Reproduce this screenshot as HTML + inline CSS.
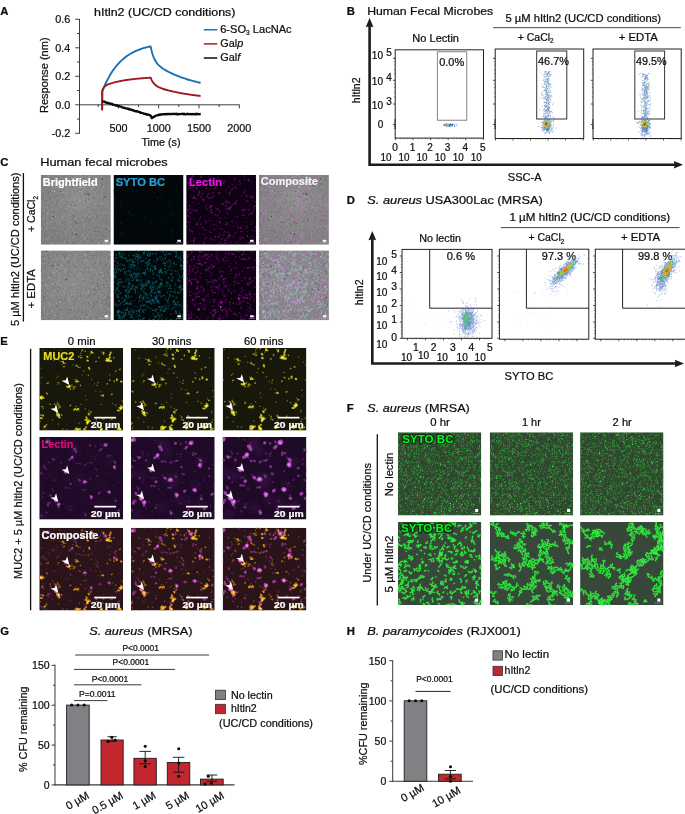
<!DOCTYPE html>
<html lang="en"><head><meta charset="utf-8"><title>hItln2 figure</title>
<style>
html,body{margin:0;padding:0;background:#fff;}
body{width:685px;height:814px;overflow:hidden;}
svg{display:block;font-family:"Liberation Sans",Arial,Helvetica,sans-serif;}
</style></head><body>
<svg width="685" height="814" viewBox="0 0 685 814">
<defs>
<filter id="b03" x="-5%" y="-5%" width="110%" height="110%"><feGaussianBlur stdDeviation="0.35"/></filter>
<filter id="b06" x="-5%" y="-5%" width="110%" height="110%"><feGaussianBlur stdDeviation="0.6"/></filter>
<filter id="b05" x="-5%" y="-5%" width="110%" height="110%"><feGaussianBlur stdDeviation="0.5"/></filter>
<filter id="nz" x="0" y="0" width="100%" height="100%" color-interpolation-filters="sRGB"><feTurbulence type="fractalNoise" baseFrequency="0.55" numOctaves="2" seed="3"/><feColorMatrix values="1 0 0 0 0  1 0 0 0 0  1 0 0 0 0  0 0 0 0 1"/></filter>
<filter id="b30" x="-20%" y="-20%" width="140%" height="140%"><feGaussianBlur stdDeviation="3"/></filter>
<filter id="b07" x="-5%" y="-5%" width="110%" height="110%"><feGaussianBlur stdDeviation="0.65"/></filter>
<filter id="b10" x="-5%" y="-5%" width="110%" height="110%"><feGaussianBlur stdDeviation="1"/></filter>
<path id="m1" transform="scale(.1)" d="M109 484h0M560 358h0M567 358h0M565 356h0M566 351h0M567 353h0M690 523h0M692 519h0M692 526h0M690 534h0M78 651h0M73 658h0M73 660h0M77 656h0M78 651h0M665 613h0M658 619h0M665 622h0M640 624h0M632 626h0M697 265h0M672 256h0M673 243h0M145 421h0M147 426h0M253 646h0M47 560h0M42 549h0M59 537h0M282 697h0M276 693h0M280 696h0M277 710h0M283 711h0M586 43h0M297 138h0M283 137h0M274 137h0M294 124h0M27 136h0M35 129h0M293 399h0M291 399h0M290 392h0M272 402h0M445 591h0M429 603h0M432 600h0M68 76h0M80 73h0M77 67h0M75 61h0M107 137h0M105 136h0M101 121h0M542 564h0M548 570h0M559 570h0M571 569h0M278 212h0M268 212h0M271 211h0M400 350h0M412 340h0M52 568h0M42 591h0M82 54h0M73 53h0M72 47h0M65 39h0M64 35h0M34 315h0M40 304h0M34 305h0M255 348h0M355 492h0M346 482h0M338 468h0M334 457h0M179 649h0M690 11h0M273 95h0M291 95h0M74 662h0M229 455h0M227 454h0M111 486h0M109 493h0M118 490h0M108 494h0M107 499h0M102 504h0M135 682h0M130 691h0M131 702h0M134 700h0M128 710h0M129 716h0M315 627h0M319 613h0M316 613h0M129 286h0M115 301h0M27 415h0M525 534h0M515 528h0M509 530h0M185 257h0M627 47h0M622 47h0M625 56h0M627 51h0M120 68h0M276 495h0M283 496h0M243 368h0M241 359h0M249 372h0M560 636h0M543 619h0M697 266h0M697 264h0M238 425h0M656 371h0M666 370h0M538 524h0M542 528h0M551 531h0M544 532h0M308 407h0M309 411h0M317 407h0M631 349h0M636 350h0M623 347h0M618 340h0M334 183h0M349 187h0M336 179h0M515 510h0M516 504h0M507 479h0M494 481h0M511 567h0M501 578h0M492 578h0M483 585h0M409 479h0M413 482h0M399 487h0M397 497h0M51 212h0M576 186h0M581 173h0M147 489h0M143 493h0M145 495h0M499 288h0M498 286h0M487 277h0M490 285h0M488 277h0M256 230h0M334 370h0M335 365h0M337 356h0M68 354h0M65 361h0M155 23h0M144 23h0M148 19h0M287 543h0M284 542h0M284 553h0M61 130h0M-1 227h0M-10 238h0M15 343h0M13 346h0M11 360h0M8 358h0M-1 362h0M454 467h0M460 469h0M466 473h0M469 460h0M112 210h0M114 199h0M126 188h0M131 181h0M392 263h0M229 226h0M232 231h0M233 236h0M228 233h0M455 304h0M450 309h0M407 573h0M422 575h0M466 520h0M471 516h0M713 233h0M437 205h0M427 196h0M431 180h0M442 171h0M676 360h0M674 349h0M203 93h0M207 93h0M194 97h0M204 101h0M86 354h0M78 344h0M77 229h0M83 228h0M78 223h0M73 209h0M92 231h0M81 228h0M95 236h0M95 239h0M151 13h0M142 9h0M151 -4h0M147 -7h0M530 68h0M535 57h0M544 65h0M533 64h0M210 219h0M213 219h0M678 642h0M444 673h0M455 680h0M349 645h0M359 645h0M357 643h0M361 636h0M52 662h0M397 241h0M131 203h0M147 210h0M151 217h0M149 223h0M253 378h0M254 380h0M260 376h0M266 382h0M328 532h0M428 508h0M195 467h0M627 66h0M619 60h0M173 595h0M178 600h0M675 132h0M680 554h0M669 560h0M666 554h0M485 297h0M489 285h0M467 296h0M462 301h0M418 627h0M263 229h0M245 230h0M236 570h0M241 579h0M239 567h0M256 577h0M585 340h0M592 344h0M584 348h0M585 352h0M434 324h0M427 334h0M430 343h0M432 347h0M430 350h0M263 452h0M509 259h0M503 258h0M497 265h0M230 76h0M609 565h0M32 548h0M33 550h0M548 637h0M237 651h0M248 651h0M241 632h0M248 637h0M474 630h0M479 610h0M476 615h0M189 551h0M187 544h0M180 554h0M178 536h0M529 94h0M549 90h0M541 90h0M164 192h0M161 184h0M155 183h0M658 202h0M183 693h0M178 685h0M178 681h0M185 669h0M186 679h0M79 673h0M74 684h0M70 667h0M405 188h0M398 187h0M424 119h0M429 113h0M365 547h0M352 549h0M345 535h0M347 535h0M444 606h0M445 611h0M433 612h0M421 597h0M426 606h0M334 181h0M336 173h0M327 176h0M459 135h0M453 150h0M458 155h0M440 165h0M438 172h0M442 187h0M137 596h0M133 585h0M400 279h0M401 280h0M420 397h0M412 382h0M409 373h0M459 96h0M468 99h0M665 689h0M662 695h0M336 473h0M335 466h0M341 477h0M307 463h0M558 504h0M556 507h0M604 539h0M595 517h0M599 524h0M386 569h0M377 578h0M380 568h0M15 469h0M24 475h0M35 480h0M37 474h0M41 436h0M62 1h0M63 9h0M72 13h0M69 16h0M53 26h0M53 22h0M539 209h0M553 208h0M73 122h0M67 114h0M193 457h0M205 470h0M451 323h0M444 321h0M435 334h0M443 330h0M452 332h0M600 253h0M377 294h0M364 289h0M371 295h0M376 299h0M84 634h0M90 639h0M86 638h0M93 637h0M87 639h0M259 186h0M267 179h0M268 176h0M216 295h0M206 301h0M204 311h0M133 441h0M700 160h0M247 320h0M241 324h0M244 318h0M233 319h0M234 326h0M234 335h0M58 567h0M61 565h0M64 579h0M434 324h0M643 684h0M579 181h0M106 134h0M120 150h0M254 506h0M378 602h0M371 605h0M367 609h0M343 673h0M422 269h0M430 277h0M437 276h0M436 284h0M384 689h0M380 683h0M369 685h0M528 633h0M536 638h0M542 643h0M26 360h0M22 88h0M20 80h0M14 76h0M691 568h0M603 428h0M600 426h0M178 245h0M170 244h0M162 250h0M360 291h0M351 289h0M431 180h0M685 317h0M685 317h0M686 303h0M694 311h0M696 314h0M357 210h0M375 225h0M190 622h0M194 637h0M207 622h0M405 640h0M415 632h0M427 616h0M422 627h0M413 629h0M64 240h0M65 236h0M80 227h0M81 221h0M191 323h0M580 13h0M588 11h0M577 2h0M580 289h0M613 609h0M611 612h0M612 610h0M613 612h0M323 694h0M335 690h0M339 684h0M323 686h0M289 654h0M281 643h0M279 644h0M387 73h0M385 58h0M388 61h0M559 403h0M574 403h0M575 402h0M584 406h0M19 678h0M13 678h0M306 508h0M311 502h0M635 211h0M618 205h0M612 226h0M585 161h0M587 163h0M403 678h0M399 681h0M671 678h0M670 675h0M674 678h0M401 270h0M392 263h0M400 261h0M637 306h0M643 307h0M34 509h0M8 512h0M16 514h0M125 463h0M276 80h0M254 315h0M258 308h0M254 309h0M240 306h0M242 312h0M251 316h0M321 694h0M481 47h0M487 48h0M488 43h0M482 37h0M283 616h0M77 231h0M401 148h0M394 159h0M396 658h0M387 661h0M383 650h0M389 643h0M394 658h0M502 107h0M610 522h0M617 514h0M665 384h0M649 385h0M630 388h0M621 392h0M623 410h0M567 624h0M565 623h0M569 630h0M576 632h0M366 98h0M370 86h0M374 83h0M562 351h0M189 234h0M516 691h0M511 677h0M500 674h0M506 668h0M486 122h0M496 126h0M489 121h0M500 142h0M214 342h0M207 340h0M192 342h0M394 702h0M399 701h0M404 686h0M536 664h0M157 525h0M166 519h0M160 523h0M408 341h0M393 334h0M402 330h0M257 350h0M249 358h0M250 357h0M21 414h0M16 411h0M12 406h0M164 233h0M164 245h0M162 245h0M467 139h0M470 137h0M3 414h0M499 414h0M515 419h0M515 422h0M203 136h0M201 126h0M169 267h0M171 262h0M329 622h0M334 622h0M591 477h0M198 475h0M200 481h0M659 471h0M651 478h0M650 494h0M553 312h0M653 72h0M75 276h0M58 278h0M111 243h0M629 679h0M616 675h0M617 679h0M331 59h0M344 63h0M331 66h0M411 264h0M405 274h0M411 285h0M405 308h0M393 312h0M397 308h0M338 584h0M337 599h0M341 601h0M34 390h0M43 378h0M53 378h0M45 380h0M34 373h0M99 364h0M104 363h0M644 393h0M652 380h0M654 382h0M652 396h0M104 57h0M98 360h0M109 357h0M107 350h0M693 23h0M295 332h0M307 341h0M313 339h0M313 346h0M319 342h0M73 158h0M73 154h0M78 141h0M616 262h0M605 264h0M607 262h0M602 263h0M121 192h0M128 178h0M127 169h0M136 165h0M134 164h0M232 146h0M583 54h0M597 51h0M683 337h0M673 323h0M657 220h0M653 226h0M646 225h0M324 193h0M656 174h0M433 344h0M432 341h0M435 340h0M426 337h0M433 330h0M351 435h0M339 434h0M328 426h0M294 624h0M288 622h0M294 613h0M50 343h0M38 340h0M36 342h0M569 383h0M393 496h0M406 500h0M38 229h0M397 465h0M322 37h0M326 29h0M599 210h0M603 214h0M606 211h0M599 203h0M561 539h0M544 529h0M526 537h0M674 217h0M668 223h0M662 223h0M643 223h0M238 179h0M221 186h0M220 199h0M220 194h0M213 206h0M395 430h0"/>
<path id="m2" transform="scale(.1)" d="M206 497h0M84 60h0M388 345h0M395 359h0M315 528h0M-15 387h0M-18 376h0M-26 368h0M183 57h0M179 60h0M181 48h0M178 51h0M280 597h0M290 590h0M290 600h0M283 603h0M323 545h0M330 553h0M323 557h0M139 405h0M133 402h0M121 422h0M122 420h0M499 539h0M512 542h0M505 529h0M332 648h0M336 649h0M342 659h0M616 656h0M605 654h0M604 646h0M611 647h0M6 473h0M-4 477h0M-4 471h0M-7 465h0M-6 467h0M193 598h0M654 458h0M640 477h0M640 477h0M550 305h0M559 306h0M451 202h0M438 215h0M446 209h0M318 376h0M309 378h0M114 375h0M109 390h0M108 378h0M106 380h0M441 192h0M453 190h0M367 406h0M368 403h0M155 143h0M155 139h0M166 145h0M152 151h0M12 345h0M7 349h0M34 277h0M32 284h0M35 300h0M569 92h0M25 227h0M29 240h0M26 242h0M374 321h0M382 317h0M361 307h0M230 312h0M228 319h0M14 67h0M13 56h0M26 44h0M30 46h0M148 -1h0M540 693h0M546 690h0M547 697h0M548 686h0M688 657h0M683 662h0M681 661h0M680 659h0M668 652h0M42 453h0M125 299h0M136 275h0M140 269h0M148 274h0M374 339h0M173 489h0M171 492h0M178 499h0M232 172h0M218 162h0M84 496h0M70 502h0M65 487h0M70 492h0M77 499h0M290 298h0M297 304h0M293 660h0M316 672h0M317 679h0M317 672h0M433 165h0M188 379h0M239 512h0M516 329h0M564 644h0M483 628h0M490 632h0M604 479h0M598 474h0M596 472h0M88 474h0M90 487h0M202 291h0M200 296h0M215 307h0M218 313h0M216 327h0M599 456h0M671 613h0M666 589h0M666 595h0M694 164h0M704 164h0M710 157h0M706 152h0M172 145h0M498 238h0M489 241h0M503 243h0M129 465h0M122 466h0M263 598h0M455 40h0M324 20h0M314 19h0M88 292h0M99 295h0M90 285h0M87 285h0M362 211h0M351 208h0M361 214h0M364 213h0M404 628h0M407 622h0M253 187h0M255 184h0M261 168h0M259 319h0M255 298h0M261 294h0M593 645h0M581 651h0M603 629h0M360 514h0M354 516h0M344 521h0M354 512h0M645 538h0M641 550h0M556 418h0M554 415h0M262 558h0M270 556h0M280 555h0M643 571h0M630 567h0M632 574h0M637 581h0M225 460h0M309 300h0M306 306h0M635 285h0M640 278h0M634 283h0M630 289h0M186 19h0M617 330h0M600 325h0M598 316h0M152 65h0M159 58h0M1 630h0M-1 633h0M-4 623h0M-13 609h0M123 676h0M32 152h0M37 160h0M27 159h0M31 164h0M53 97h0M54 95h0M56 97h0M368 612h0M360 606h0M359 600h0M369 596h0M223 40h0M217 38h0M207 39h0M105 381h0M112 380h0M110 370h0M594 92h0M603 100h0M597 75h0M176 490h0M172 488h0M180 489h0M183 482h0M192 472h0M361 516h0M364 519h0M359 526h0M502 73h0M497 63h0M493 63h0M40 672h0M47 667h0M50 673h0M52 671h0M52 678h0M257 685h0M252 238h0M255 255h0M247 251h0M207 446h0M220 441h0M314 433h0M584 433h0M67 429h0M17 397h0M6 402h0M-2 396h0M150 4h0M72 64h0M74 63h0M78 58h0M74 70h0M78 82h0M121 210h0M119 207h0M115 216h0M657 305h0M651 314h0M662 315h0M671 306h0M674 161h0M676 171h0M674 187h0M664 176h0M244 162h0M253 164h0M300 61h0M305 41h0M635 270h0M635 270h0M640 277h0M637 287h0M635 285h0M161 589h0M212 190h0M693 441h0M425 407h0M431 403h0M436 381h0M686 189h0M253 47h0M254 42h0M251 52h0M243 59h0M69 191h0M76 186h0M66 181h0M205 670h0M219 667h0M219 670h0M209 693h0M616 447h0M635 453h0M637 439h0M647 433h0M641 438h0M633 444h0M628 434h0M344 530h0M351 529h0M342 527h0M344 525h0M336 522h0M343 503h0M446 229h0M120 132h0M124 131h0M107 129h0M318 84h0M306 84h0M355 518h0M360 508h0M353 510h0M338 496h0M301 596h0M315 610h0M337 618h0M531 63h0M533 68h0M511 240h0M533 242h0M531 237h0M532 236h0M667 18h0M661 12h0M666 -1h0M423 98h0M314 366h0M304 362h0M311 373h0M302 367h0M211 88h0M226 84h0M209 80h0M201 84h0M201 85h0M305 88h0M528 329h0M520 329h0M519 327h0M519 332h0M517 332h0M542 527h0M63 294h0M65 291h0M55 290h0M273 305h0M279 314h0M272 322h0M271 325h0M635 693h0M381 452h0M374 448h0M386 465h0M387 464h0M377 457h0M568 166h0M586 170h0M-6 67h0M6 73h0M11 66h0M484 353h0M412 356h0M165 655h0M653 679h0M655 682h0M652 681h0M652 683h0M645 196h0M368 82h0M356 78h0M38 645h0M29 628h0M16 609h0M678 444h0M680 437h0M639 615h0M625 612h0M611 175h0M613 173h0M622 178h0M634 174h0M625 167h0M344 214h0M335 217h0M331 218h0M333 212h0M188 560h0M186 576h0M194 574h0M188 587h0M600 266h0M583 278h0M700 85h0M693 99h0M691 105h0M132 130h0M147 129h0M142 135h0M137 138h0M492 284h0M513 306h0M479 406h0M479 409h0M490 407h0M541 629h0M532 625h0M533 626h0M545 662h0M546 659h0M183 585h0M177 586h0M270 671h0M274 650h0M277 653h0M264 647h0M453 482h0M31 449h0M36 447h0M50 437h0M102 438h0M101 430h0M86 431h0M457 25h0M459 34h0M467 42h0M466 34h0M476 40h0M472 45h0M471 33h0M55 514h0M60 508h0M66 491h0M60 499h0M67 492h0M468 638h0M378 299h0M378 291h0M372 289h0M384 280h0M400 282h0M350 271h0M353 264h0M355 257h0M353 258h0M285 519h0M279 510h0M280 505h0M159 573h0M150 558h0M510 174h0M323 375h0M13 293h0M7 306h0M12 317h0M583 12h0M574 21h0M22 674h0M32 683h0M28 684h0M20 687h0M32 675h0M34 657h0M279 156h0M277 155h0M277 161h0M683 657h0M687 661h0M683 661h0M342 591h0M240 624h0M244 623h0M240 619h0M267 175h0M275 173h0M278 161h0M283 161h0M56 630h0M57 339h0M52 344h0M52 324h0M51 325h0M54 335h0M50 342h0M115 181h0M291 422h0M289 418h0M282 422h0M412 663h0M406 664h0M281 602h0M288 598h0M295 600h0M52 17h0M60 4h0M7 641h0M15 648h0M121 583h0M183 541h0M199 544h0M477 176h0M485 177h0M486 179h0M502 182h0M553 37h0M565 46h0M561 39h0M571 34h0M636 585h0M637 597h0M644 600h0M17 106h0M8 107h0M13 125h0M15 121h0M9 116h0M501 136h0M498 124h0M637 74h0M635 78h0M625 69h0M618 81h0M629 93h0M413 394h0M418 385h0M569 208h0M557 206h0M184 118h0M193 125h0M179 115h0M63 207h0M218 699h0M220 708h0M615 342h0M615 341h0M619 342h0M619 347h0M622 343h0M617 333h0M617 331h0M650 327h0M644 326h0M635 317h0M633 321h0M619 310h0M574 479h0M562 472h0M561 463h0M571 465h0M568 471h0M247 321h0M614 184h0M286 498h0M288 495h0M277 493h0M277 496h0M277 520h0M287 630h0M292 631h0M291 621h0M290 624h0M297 616h0M376 365h0M383 360h0M383 359h0M531 8h0M534 5h0M526 12h0M482 333h0M490 320h0M97 433h0M118 425h0M107 168h0M106 171h0M16 199h0M30 205h0M34 192h0M320 53h0M298 56h0M314 68h0M203 457h0M556 688h0M560 678h0M570 691h0M562 79h0M562 88h0M555 84h0M552 84h0M545 96h0M487 638h0M527 454h0M533 447h0M540 450h0M539 452h0M544 457h0M535 435h0M672 376h0M683 361h0M693 361h0M695 370h0M702 362h0M578 508h0M571 497h0M58 26h0M178 406h0M171 408h0M168 409h0M169 396h0M403 40h0M405 25h0M393 29h0M395 17h0M120 315h0M111 317h0M114 322h0M109 321h0M130 16h0M135 14h0M137 11h0M151 -3h0M142 678h0M135 693h0M152 375h0M153 361h0M143 366h0M87 550h0M555 513h0M564 512h0M436 543h0M328 274h0M327 285h0M431 22h0M84 687h0M99 674h0M109 671h0M111 667h0M246 223h0M247 216h0M681 668h0M675 669h0M681 670h0M677 661h0M671 673h0M482 309h0M476 315h0M490 315h0M326 359h0M331 344h0M336 349h0M333 350h0M352 591h0M365 590h0M359 594h0M376 676h0M374 675h0M644 8h0M392 281h0M379 284h0M365 288h0M370 278h0M611 472h0M609 483h0M614 479h0M608 478h0M618 480h0M637 488h0M226 493h0M174 393h0M174 383h0M169 366h0M325 682h0M330 690h0M333 706h0M335 696h0M296 127h0M580 400h0M563 398h0M252 367h0M250 369h0M252 641h0M263 648h0M269 641h0M277 650h0M284 648h0M23 649h0M24 644h0M676 503h0M678 489h0M682 479h0M8 270h0M14 274h0M11 277h0M400 608h0M402 602h0M399 604h0M399 607h0M222 61h0M222 61h0M213 54h0M215 40h0M201 51h0M118 462h0M132 463h0M128 458h0M115 456h0M23 596h0M500 255h0M498 259h0M510 257h0M437 350h0M439 355h0M388 358h0M402 351h0M630 334h0M112 321h0M119 321h0M125 317h0M50 644h0M57 646h0M395 518h0M387 517h0M387 508h0M397 499h0M402 490h0M398 494h0M598 440h0M600 437h0M604 448h0M231 205h0M229 213h0M36 313h0M24 303h0M21 303h0M430 596h0M426 587h0M428 585h0M432 588h0M116 57h0M121 71h0M128 56h0M136 51h0M137 60h0M283 417h0M166 78h0M169 77h0M358 426h0M366 417h0M301 619h0M600 236h0M339 289h0M598 38h0M592 39h0M276 594h0M275 609h0M273 607h0M272 607h0M192 124h0M194 133h0M190 133h0M97 303h0M100 303h0M329 401h0M563 376h0M559 375h0M549 388h0M434 577h0M358 389h0M192 46h0M197 44h0M199 36h0M181 30h0M89 234h0M95 223h0M104 224h0M229 195h0M224 180h0M221 172h0M227 182h0M229 173h0M452 426h0M454 426h0M456 431h0M297 289h0M293 297h0M286 301h0M282 298h0M518 650h0M79 540h0M87 542h0M94 536h0M102 526h0M384 584h0M397 588h0M389 577h0M401 136h0M258 394h0M255 395h0M254 397h0M132 531h0M143 533h0M154 534h0M145 534h0M148 533h0M191 57h0M484 272h0M480 276h0M509 -1h0M506 9h0M506 9h0M505 13h0M262 408h0M267 418h0M264 430h0M270 422h0M79 88h0M77 91h0M410 640h0M399 641h0M396 641h0M152 479h0M163 485h0M167 501h0M174 505h0M180 513h0M177 517h0M323 104h0M330 107h0M327 123h0M312 133h0M275 356h0M291 364h0M281 372h0M564 43h0M563 40h0M372 95h0M363 103h0M373 102h0M388 93h0M62 696h0M59 704h0M62 712h0M210 194h0M209 186h0M207 196h0M319 95h0M330 672h0M76 152h0M72 150h0M82 161h0M244 2h0M533 533h0M535 518h0M542 519h0M533 504h0M530 495h0M60 536h0M72 524h0M536 540h0M121 79h0M138 88h0M138 105h0M134 110h0M628 411h0M638 417h0M641 434h0M612 596h0M619 530h0M620 526h0M615 524h0M269 685h0M274 671h0M576 77h0M575 89h0M584 91h0M590 90h0M8 562h0M15 554h0M12 555h0M48 412h0M39 417h0M34 416h0M436 156h0M442 135h0M445 133h0M403 372h0M55 27h0M61 13h0M61 4h0M72 1h0M68 -7h0M392 68h0M399 69h0M386 68h0M98 217h0M327 176h0M48 617h0M56 616h0M688 284h0M692 270h0M684 271h0M121 90h0M127 100h0M252 358h0M423 28h0M429 37h0M422 35h0M432 38h0M495 115h0M42 207h0M38 220h0M48 210h0M64 209h0M600 216h0M106 134h0M124 139h0M133 136h0M143 132h0M54 318h0M42 319h0M41 314h0M43 301h0M37 293h0M590 677h0M593 683h0M581 685h0M576 690h0M409 102h0M395 111h0M98 454h0M104 464h0M105 468h0M106 470h0M104 476h0M38 160h0M46 164h0M364 256h0M355 253h0M342 243h0M571 519h0M518 205h0M566 196h0M432 519h0M437 524h0M440 513h0M435 522h0M583 479h0M584 473h0M652 176h0M658 172h0M670 174h0M595 277h0M594 276h0M550 559h0M542 574h0M551 581h0M549 583h0M493 632h0M489 637h0M501 647h0M351 526h0M349 530h0M337 521h0M338 519h0M266 629h0M256 140h0M248 140h0M256 146h0M195 200h0M200 210h0M191 199h0M199 195h0M456 607h0M456 605h0M560 693h0M559 682h0M345 679h0M332 680h0M339 693h0M338 697h0M338 695h0M399 453h0M108 357h0M114 358h0M108 362h0M150 9h0M143 11h0M147 17h0M149 18h0M140 232h0M153 232h0M147 226h0M470 528h0M473 528h0M460 534h0"/>
<path id="c2" transform="scale(.1)" d="M224 154h0M233 175h0M212 185h0M209 191h0M20 526h0M3 538h0M-10 552h0M-3 560h0M-6 560h0M96 191h0M103 180h0M107 508h0M104 512h0M103 513h0M229 613h0M234 602h0M257 650h0M252 655h0M254 650h0M260 647h0M469 201h0M466 199h0M462 196h0M551 273h0M551 277h0M554 273h0M242 245h0M252 241h0M255 239h0M259 231h0M625 684h0M627 695h0M628 692h0M348 474h0M348 484h0M346 474h0M663 554h0M651 551h0M644 541h0M629 536h0M615 530h0M305 674h0M311 681h0M301 685h0M299 678h0M333 215h0M318 204h0M325 187h0M316 200h0M103 635h0M108 646h0M113 654h0M120 656h0M572 357h0M568 353h0M569 352h0M563 353h0M564 348h0M38 622h0M41 628h0M40 608h0M396 321h0M247 603h0M247 604h0M250 599h0M260 614h0M262 627h0M594 200h0M578 201h0M576 195h0M504 128h0M498 128h0M501 120h0M505 130h0M615 208h0M65 655h0M59 654h0M61 648h0M52 646h0M431 477h0M429 479h0M672 152h0M675 140h0M676 139h0M677 148h0M679 153h0M415 461h0M420 461h0M431 463h0M430 448h0M19 174h0M55 191h0M58 189h0M81 686h0M76 692h0M436 650h0M440 650h0M443 642h0M385 488h0M387 477h0M484 286h0M478 293h0M489 304h0M168 669h0M168 666h0M597 581h0M597 580h0M584 582h0M578 588h0M534 111h0M688 256h0M692 254h0M48 630h0M43 620h0M42 616h0M61 32h0M62 20h0M55 22h0M57 21h0M380 453h0M379 453h0M81 72h0M86 87h0M210 31h0M159 538h0M162 527h0M176 539h0M282 622h0M449 256h0M448 255h0M445 247h0M435 255h0M430 241h0M140 600h0M137 591h0M71 207h0M76 209h0M652 291h0M647 287h0M290 492h0M286 505h0M288 492h0M295 488h0M300 479h0M223 36h0M225 51h0M234 38h0M635 61h0M620 62h0M618 66h0M622 61h0M622 62h0M21 254h0M29 270h0M22 271h0M434 99h0M440 100h0M348 211h0M235 567h0M655 227h0M635 238h0M654 243h0M664 253h0M665 258h0M659 266h0M420 595h0M431 592h0M417 599h0M411 604h0M358 265h0M269 571h0M212 380h0M684 162h0M681 162h0M671 155h0M675 161h0M388 32h0M392 36h0M394 33h0M151 453h0M147 452h0M156 472h0M152 466h0M144 459h0M559 93h0M555 103h0M553 104h0M570 108h0M567 114h0M570 117h0M655 688h0M650 686h0M665 684h0M653 686h0M18 146h0M213 388h0M272 109h0M276 107h0M274 111h0M274 107h0M80 67h0M85 71h0M82 73h0M90 66h0M427 185h0M427 185h0M423 182h0M408 193h0M416 185h0M535 678h0M690 386h0M688 389h0M84 54h0M83 54h0M97 41h0M31 45h0M23 39h0M29 47h0M536 327h0M543 323h0M537 316h0M141 527h0M149 531h0M155 542h0M621 338h0M615 351h0M524 150h0M513 150h0M520 157h0M219 81h0M212 82h0M223 62h0M232 64h0M248 58h0M239 54h0M233 61h0M351 119h0M342 114h0M329 123h0M164 635h0M156 640h0M159 636h0M157 644h0M143 642h0M170 178h0M164 174h0M616 -3h0M611 12h0M609 14h0M623 10h0M267 506h0M257 511h0M253 506h0M356 303h0M353 314h0M351 308h0M606 115h0M458 637h0M672 307h0M514 136h0M515 122h0M398 392h0M399 386h0M393 507h0M391 502h0M391 506h0M385 496h0M389 503h0M470 331h0M481 325h0M350 62h0M364 59h0M361 51h0M365 44h0M351 33h0M579 640h0M575 637h0M520 583h0M526 584h0M517 588h0M511 596h0M518 600h0M465 336h0M469 337h0M467 345h0M481 341h0M481 337h0M484 334h0M370 441h0M368 435h0M93 667h0M88 664h0M100 676h0M17 257h0M9 270h0M8 254h0M14 248h0M145 100h0M130 83h0M128 95h0M168 164h0M174 152h0M167 142h0M167 148h0M167 148h0M440 97h0M438 90h0M64 625h0M360 515h0M368 524h0M377 535h0M380 519h0M101 646h0M103 650h0M99 664h0M93 659h0M468 -7h0M461 -3h0M466 6h0M473 3h0M612 378h0M617 391h0M614 413h0M619 425h0M51 331h0M47 335h0M45 325h0M40 326h0M33 337h0M467 335h0M467 351h0M464 352h0M460 353h0M457 354h0M212 151h0M210 146h0M207 143h0M197 138h0M137 539h0M137 528h0M122 530h0M128 530h0M-1 414h0M-5 409h0M632 474h0M634 472h0M625 473h0M636 465h0M460 259h0M88 672h0M274 319h0M277 320h0M274 316h0M335 45h0M339 54h0M298 233h0M293 230h0M285 229h0M74 61h0M68 63h0M63 63h0M62 53h0M75 56h0M670 61h0M673 77h0M679 83h0M196 120h0M197 55h0M200 51h0M193 53h0M199 48h0M203 53h0M301 472h0M306 480h0M302 471h0M327 509h0M321 510h0M324 511h0M332 507h0M348 510h0M111 500h0M304 556h0M307 547h0M126 411h0M132 432h0M145 426h0M141 419h0M144 420h0M550 558h0M546 551h0M558 550h0M313 416h0M301 407h0M287 402h0M278 406h0M270 381h0M277 381h0M236 304h0M236 300h0M232 293h0M238 291h0M240 298h0M528 506h0M518 492h0M526 491h0M524 473h0M419 586h0M417 588h0M438 588h0M431 591h0M78 521h0M82 517h0M68 530h0M68 537h0M488 232h0M490 220h0M503 228h0M474 557h0M486 567h0M485 564h0M496 565h0M497 562h0M494 570h0M602 572h0M613 566h0M611 558h0M451 505h0M422 476h0M420 468h0M436 489h0M435 495h0M433 24h0M436 30h0M451 426h0M445 417h0M452 417h0M463 423h0M471 429h0M477 418h0M49 466h0M47 466h0M166 205h0M166 211h0M168 219h0M419 183h0M412 185h0M265 557h0M277 558h0M277 548h0M289 551h0M308 548h0M314 548h0M318 548h0M326 299h0M341 309h0M352 304h0M261 650h0M269 661h0M35 372h0M37 381h0M23 392h0M18 408h0M19 415h0M157 100h0M161 98h0M167 97h0M171 94h0M169 94h0M624 31h0M626 37h0M143 295h0M132 294h0M132 281h0M49 600h0M35 610h0M325 133h0M345 143h0M352 145h0M355 137h0M358 145h0M117 645h0M115 646h0M116 644h0M-7 596h0M-28 592h0M-36 594h0M-45 599h0M506 598h0M508 606h0M496 612h0M496 604h0M502 607h0M511 605h0M516 611h0M509 609h0M379 535h0M221 247h0M404 270h0M396 278h0M484 599h0M486 598h0M481 592h0M460 592h0M186 458h0M175 468h0M166 463h0M630 616h0M622 604h0M629 609h0M626 621h0M621 613h0M624 605h0M51 615h0M57 611h0M72 615h0M212 591h0M204 607h0M206 612h0M206 618h0M581 542h0M318 443h0M331 437h0M340 444h0M354 446h0M309 457h0M296 458h0M283 466h0M297 475h0M393 318h0M153 413h0M149 422h0M632 16h0M630 12h0M630 7h0M438 379h0M435 379h0M437 384h0M423 389h0M262 339h0M274 347h0M702 199h0M699 207h0M709 204h0M710 198h0M654 369h0M658 368h0M672 365h0M665 369h0M294 472h0M302 478h0M688 259h0M692 258h0M702 251h0M706 258h0M481 216h0M482 215h0M462 213h0M114 447h0M130 452h0M126 468h0M121 468h0M114 454h0M110 499h0M113 502h0M641 428h0M640 420h0M484 337h0M489 335h0M475 330h0M180 377h0M175 381h0M184 388h0M147 619h0M149 622h0M149 610h0M79 354h0M372 191h0M372 191h0M367 184h0M372 191h0M367 188h0M404 319h0M381 462h0M376 448h0M279 54h0M269 67h0M269 76h0M144 485h0M132 479h0M701 579h0M689 564h0M694 576h0M696 586h0M686 588h0M384 599h0M397 598h0M395 596h0M391 600h0M393 602h0M587 234h0M582 228h0M574 238h0M550 482h0M548 475h0M571 691h0M580 691h0M388 201h0M388 202h0M390 205h0M392 205h0M395 222h0M679 281h0M669 271h0M531 115h0M458 352h0M467 351h0M475 330h0M472 319h0M79 315h0M82 309h0M76 313h0M94 319h0M193 641h0M192 635h0M181 653h0M179 658h0M176 651h0M146 348h0M157 344h0M154 336h0M156 345h0M386 313h0M447 695h0M450 700h0M458 704h0M452 688h0M453 691h0M466 201h0M481 215h0M478 222h0M471 209h0M449 213h0M202 381h0M205 393h0M187 106h0M198 118h0M201 112h0M200 121h0M192 123h0M41 445h0M49 435h0M65 440h0M674 646h0M687 647h0M693 636h0M644 214h0M584 138h0M575 135h0M564 144h0M413 666h0M420 667h0M425 662h0M425 675h0M424 677h0M449 406h0M446 411h0M444 420h0M454 416h0M461 408h0M456 409h0M454 419h0M433 303h0M435 308h0M427 313h0M519 131h0M513 128h0M256 299h0M-1 202h0M5 199h0M15 188h0M17 196h0M383 500h0M395 500h0M390 495h0M92 478h0M287 594h0M229 198h0M571 296h0M397 515h0M408 522h0M416 527h0M410 526h0M199 352h0M190 354h0M186 356h0M183 354h0M188 346h0M299 618h0M306 627h0M413 426h0M400 425h0M410 426h0M279 303h0M277 297h0M260 464h0M269 456h0M267 462h0M261 475h0M264 492h0M534 412h0M543 416h0M534 426h0M442 619h0M446 618h0M508 215h0M518 231h0M528 220h0M529 219h0M331 351h0M120 457h0M126 457h0M125 449h0M151 52h0M148 39h0M253 41h0M237 37h0M233 37h0M415 664h0M410 653h0M399 636h0M394 632h0M199 367h0M189 363h0M192 367h0M225 643h0M231 663h0M415 173h0M419 165h0M421 166h0M430 154h0M472 210h0M480 199h0M486 1h0M497 4h0M490 13h0M164 255h0M161 242h0M163 242h0M166 244h0M175 244h0M176 256h0M413 330h0M417 319h0M424 319h0M432 311h0M430 314h0M512 86h0M520 82h0M517 75h0M514 70h0M325 480h0M335 472h0M332 465h0M315 125h0M323 135h0M154 291h0M155 299h0M110 70h0M388 332h0M394 341h0M540 511h0M539 495h0M545 497h0M548 502h0M550 499h0M307 -1h0M310 13h0M303 -2h0M292 -10h0M286 -15h0M396 708h0M399 692h0M409 688h0M673 525h0M660 543h0M664 557h0M47 671h0M458 515h0M300 23h0M296 26h0M306 25h0M313 13h0M326 13h0M325 1h0M154 415h0M156 408h0M159 403h0M214 562h0M341 139h0M334 122h0M353 125h0M347 130h0M461 438h0M237 60h0M287 690h0M374 534h0M388 529h0M369 508h0M368 507h0M361 519h0M345 518h0M356 520h0M412 166h0M414 154h0M408 160h0M409 169h0M382 399h0M32 437h0M35 447h0M185 147h0M193 143h0M206 148h0M199 159h0M200 157h0M194 160h0M189 170h0M184 175h0M120 592h0M190 599h0M685 698h0M689 699h0M488 19h0M499 16h0M502 14h0M505 46h0M511 46h0M261 610h0M257 609h0M258 594h0M626 210h0M618 205h0M657 609h0M655 630h0M628 631h0M63 31h0M62 36h0M53 36h0M50 35h0M69 34h0M74 33h0M86 27h0M96 12h0M597 516h0M601 527h0M588 511h0M598 511h0M226 437h0M220 424h0M217 424h0M186 674h0M182 670h0M185 673h0M194 667h0M287 97h0M495 684h0M483 689h0M519 559h0M522 557h0M562 193h0M38 129h0M46 125h0M46 133h0M58 146h0M48 156h0M310 218h0M315 220h0M319 223h0M313 231h0M295 221h0M434 85h0M435 80h0M433 69h0M173 395h0M172 387h0M156 394h0M158 391h0M144 392h0M363 26h0M351 22h0M335 30h0M237 106h0M243 109h0M239 95h0M315 592h0M321 595h0M323 598h0M322 586h0M204 689h0M204 687h0M545 125h0M48 507h0M565 395h0M572 379h0M348 314h0M352 322h0M358 327h0M371 321h0M246 697h0M256 686h0M256 691h0M251 679h0M242 696h0M8 278h0M683 668h0M688 663h0M694 656h0M101 539h0M110 539h0M118 538h0M470 672h0M462 668h0M337 325h0M350 307h0M360 305h0M167 21h0M56 321h0M48 622h0M51 619h0M40 608h0M40 624h0M213 164h0M294 611h0M291 610h0M293 600h0M300 596h0M304 598h0M192 230h0M678 543h0M666 554h0M668 349h0M664 348h0M658 367h0M641 365h0M655 366h0M197 608h0M201 619h0M199 623h0M195 623h0M549 34h0M561 34h0M551 28h0M416 495h0M406 500h0M401 489h0M400 497h0M404 501h0M342 517h0M345 513h0M341 513h0M519 351h0M531 366h0M395 695h0M406 689h0M389 692h0M311 241h0M152 307h0M153 316h0M151 330h0M158 323h0M164 338h0M167 332h0M588 167h0M572 160h0M560 167h0M557 175h0M556 164h0M225 389h0M222 392h0M220 402h0M218 407h0M217 409h0M217 411h0M45 351h0M55 353h0M49 358h0M114 217h0M124 212h0M134 208h0M146 207h0M163 203h0M117 237h0M127 247h0M338 565h0M344 569h0M335 564h0M354 51h0M369 178h0M373 190h0M367 208h0M368 207h0M368 201h0M462 77h0M476 65h0M479 60h0M464 60h0M703 424h0M24 186h0M42 183h0M33 186h0M34 206h0M145 377h0M146 373h0M150 362h0M166 370h0M180 382h0M266 345h0M280 345h0M292 354h0M283 357h0M133 587h0M137 598h0M131 597h0M139 583h0M144 571h0M465 350h0M463 351h0M467 357h0M349 511h0M347 505h0M363 496h0M364 491h0M262 482h0M261 463h0M261 453h0M262 458h0M269 447h0M220 113h0M38 70h0M22 74h0M31 72h0M26 80h0M115 607h0M114 594h0M231 285h0M251 303h0M230 305h0M228 304h0M192 93h0M40 620h0M41 610h0M51 612h0M261 472h0M260 472h0M260 474h0M200 293h0M188 299h0M191 282h0M195 269h0M190 272h0M207 274h0M213 287h0M7 205h0M670 98h0M680 92h0M589 89h0M9 199h0M13 218h0M18 221h0M23 224h0M27 234h0M39 222h0M542 525h0M549 525h0M99 187h0M103 186h0M117 182h0M264 592h0M267 594h0M255 295h0M250 153h0M38 161h0M40 163h0M28 151h0M30 153h0M620 142h0M631 140h0M611 152h0M628 40h0M49 629h0M44 645h0M61 658h0M57 656h0M204 233h0M204 227h0M125 80h0M125 81h0M119 83h0M110 84h0M93 74h0M74 137h0M366 365h0M371 359h0M380 345h0M393 339h0M406 336h0M550 343h0M540 342h0M543 358h0M87 144h0M84 148h0M57 499h0M53 508h0M50 504h0M61 507h0M473 601h0M468 588h0M12 237h0M11 250h0M9 262h0M83 475h0M88 479h0M109 686h0M254 131h0M251 127h0M527 689h0M526 689h0M521 702h0M515 701h0M576 413h0M567 408h0M582 413h0M585 412h0M559 437h0M564 447h0M570 454h0M591 465h0M536 578h0M527 582h0M526 578h0M535 578h0M549 580h0M276 445h0M276 446h0M39 463h0M449 361h0M454 372h0M445 371h0M447 368h0M293 355h0M288 367h0M301 355h0M294 363h0M527 334h0M528 318h0M530 315h0M296 545h0M293 551h0M449 522h0M456 532h0M385 419h0M375 420h0M379 409h0M391 395h0M394 399h0M421 28h0M65 290h0M68 289h0M65 291h0M48 295h0M40 298h0M366 379h0M370 371h0M375 380h0M381 383h0M296 336h0M291 341h0M284 355h0M293 345h0M301 336h0M481 296h0M479 287h0M475 287h0M463 279h0M459 285h0M76 326h0M338 183h0M339 179h0M340 190h0M334 190h0M-6 109h0M6 112h0M10 108h0M18 105h0M17 88h0M581 299h0M576 298h0M582 303h0M586 307h0M586 295h0M425 476h0M421 481h0M419 482h0M412 522h0M408 498h0M359 687h0M364 688h0M353 689h0M449 505h0M449 509h0M443 510h0M342 48h0M340 39h0M344 43h0M341 48h0M93 144h0M317 420h0M318 435h0M303 418h0M523 181h0M514 180h0M511 181h0M532 224h0M43 375h0M73 201h0M72 189h0M79 192h0M24 542h0M31 550h0M-3 642h0M7 656h0M420 613h0M130 363h0M120 360h0M226 229h0M210 239h0M216 234h0M213 228h0M224 228h0M237 227h0M601 508h0M607 504h0M603 504h0M608 513h0M611 491h0M232 633h0M552 319h0M149 167h0M99 617h0M93 623h0M84 617h0M79 615h0M81 625h0M619 533h0M610 538h0M617 534h0M612 541h0M624 539h0M356 27h0M368 28h0M368 34h0M375 36h0M368 44h0M224 274h0M217 260h0M214 258h0M627 53h0M628 57h0M57 541h0M46 552h0M45 542h0M38 560h0M581 11h0M660 625h0M663 638h0M667 638h0M665 630h0M663 640h0M187 111h0M188 125h0M193 120h0M180 143h0M180 145h0M54 184h0M44 195h0M30 210h0M33 218h0M47 203h0M130 108h0M137 111h0M147 114h0M138 100h0M244 91h0M241 75h0M251 55h0M239 63h0M155 216h0M363 95h0M369 97h0M360 93h0M355 100h0M293 229h0M297 223h0M309 223h0M310 234h0M306 428h0M528 14h0M528 7h0M283 372h0M283 380h0M283 389h0M276 388h0M175 93h0M184 98h0M198 109h0M212 96h0M383 365h0M391 374h0M399 370h0M390 362h0M372 363h0M77 423h0M76 423h0M68 431h0M102 363h0M106 369h0M98 370h0M103 360h0M379 402h0M379 407h0M377 400h0M376 397h0M244 612h0M297 101h0M293 107h0M294 114h0M313 116h0M424 420h0M424 428h0M415 414h0M482 187h0M56 655h0M36 656h0M26 644h0M335 153h0M335 157h0M337 165h0M476 472h0M474 455h0M486 457h0M471 457h0M471 605h0M689 180h0M687 181h0M684 192h0M670 193h0M526 35h0M525 32h0M536 38h0M649 74h0M654 73h0M661 77h0M648 78h0M218 497h0M412 38h0M422 40h0M61 413h0M62 410h0M49 405h0M269 268h0M270 258h0M249 415h0M675 398h0M665 416h0M669 424h0M667 420h0M239 362h0M240 377h0M68 318h0M47 320h0M49 315h0M59 315h0M51 327h0M472 636h0M479 645h0M458 653h0M182 585h0M644 520h0M643 515h0M640 524h0M313 342h0M320 334h0M322 325h0M643 515h0M638 517h0M618 516h0M182 605h0M179 603h0M219 74h0M115 496h0M103 497h0M114 496h0M322 81h0M327 84h0M124 402h0M115 398h0M135 395h0M132 387h0M178 511h0M173 516h0M166 535h0M522 545h0M324 246h0M326 240h0M322 243h0M626 565h0M259 66h0M263 80h0M252 79h0M246 70h0M161 417h0M8 533h0M-4 542h0M245 354h0M225 356h0M675 29h0M688 38h0M700 38h0M698 25h0M686 19h0M58 677h0M49 681h0M63 685h0M65 670h0M64 666h0M534 204h0M525 208h0M545 203h0M354 329h0M348 319h0M40 386h0M38 389h0M31 393h0M29 388h0M32 390h0M34 392h0M42 614h0M47 595h0M56 605h0M58 601h0M50 602h0M450 407h0M445 409h0M463 414h0M469 402h0M36 109h0M42 113h0M652 304h0M661 302h0M658 303h0M673 309h0M340 337h0M334 343h0M669 114h0M75 661h0M72 674h0M695 101h0M701 92h0M702 96h0M692 381h0M673 369h0M667 361h0M667 363h0M676 356h0M120 401h0M122 403h0M130 398h0M132 602h0M46 478h0M36 475h0M464 561h0M464 567h0M459 566h0M461 566h0M452 569h0M464 569h0M8 374h0M494 465h0M496 451h0M499 452h0M509 447h0M481 652h0M485 651h0M433 478h0M425 481h0M417 477h0M491 360h0M453 674h0M455 664h0M447 656h0M441 651h0M272 586h0M262 595h0M595 273h0M592 273h0M589 274h0M584 261h0M580 242h0M578 243h0M567 235h0M367 131h0M304 367h0M130 465h0M324 430h0M322 433h0M319 439h0M329 453h0M343 439h0M359 426h0M368 423h0M675 390h0M674 389h0M261 191h0M467 372h0M460 373h0M161 625h0M161 611h0M167 617h0M169 631h0M219 364h0M217 371h0M230 371h0M230 369h0M342 117h0M348 119h0M355 107h0M357 106h0M651 428h0M651 420h0M665 413h0M673 391h0M674 389h0M115 311h0M119 296h0M130 524h0M135 523h0M128 530h0M522 -3h0M250 178h0M150 201h0M302 31h0M304 39h0M307 24h0M307 36h0M369 576h0M361 578h0M269 64h0M262 51h0M445 457h0M408 108h0M418 123h0M657 655h0M44 457h0M45 462h0M48 456h0M229 261h0M234 259h0M241 258h0M251 267h0M3 307h0M-3 306h0M-7 318h0M12 316h0M8 315h0M635 546h0M624 541h0M623 539h0M665 365h0M660 379h0M322 344h0M316 345h0M314 351h0M318 355h0M323 355h0M333 345h0M336 325h0M332 322h0M105 150h0M111 147h0M111 154h0M494 95h0M486 83h0M479 102h0M469 85h0M600 122h0M597 125h0M607 130h0M599 135h0M175 275h0M248 20h0M241 10h0M232 1h0M233 -3h0M568 36h0M563 44h0M570 33h0M569 29h0M380 154h0M379 152h0M391 156h0M403 159h0M414 166h0M602 415h0M607 425h0M608 414h0M273 687h0M277 691h0M294 684h0M303 683h0M465 218h0M463 224h0M463 216h0M459 226h0M448 220h0M607 463h0M586 452h0M570 465h0M559 459h0M564 450h0M558 437h0M674 150h0M677 152h0M671 159h0M628 632h0M613 631h0M629 629h0M181 302h0M195 301h0M114 30h0M114 47h0M644 303h0M639 295h0M645 303h0M185 255h0M184 252h0M181 253h0M181 249h0M183 245h0M201 238h0M123 621h0M118 621h0M118 617h0M117 629h0M116 638h0M446 455h0M456 442h0M393 238h0M398 246h0M403 235h0M424 363h0M414 363h0M404 363h0M397 367h0M451 623h0M462 199h0M476 200h0M438 496h0M428 492h0M436 508h0M441 509h0M446 516h0M434 517h0M430 511h0M254 233h0M246 232h0M303 385h0M311 387h0M476 581h0M125 237h0M105 227h0M111 227h0M110 216h0M118 218h0M53 341h0M510 212h0M514 38h0M523 47h0M234 238h0M229 249h0M240 241h0M559 373h0M549 384h0M135 692h0M140 711h0M169 532h0M170 536h0M187 535h0M169 529h0M236 473h0M166 327h0M473 182h0M467 190h0M404 227h0M3 529h0M7 545h0M12 549h0M551 383h0M568 381h0M579 380h0"/>
<path id="c1" transform="scale(.1)" d="M70 115h0M52 101h0M255 704h0M273 713h0M282 686h0M17 549h0M630 146h0M596 139h0M491 180h0M105 621h0M173 162h0M512 475h0M437 424h0M432 409h0M283 76h0M125 22h0M136 19h0M165 3h0M670 539h0M682 585h0M575 392h0M589 390h0M327 473h0M315 438h0M305 448h0M460 621h0M14 396h0M245 34h0M237 14h0M247 24h0M0 187h0M3 158h0M-18 167h0M-3 159h0M86 587h0M94 584h0M634 275h0M642 382h0M468 242h0M443 227h0M439 230h0M70 275h0M89 279h0M75 610h0M76 592h0M84 581h0M602 98h0M-18 132h0M-8 154h0M4 467h0M37 472h0M185 400h0M168 390h0M158 390h0M482 56h0M191 510h0M198 486h0M669 41h0M665 73h0M612 609h0M593 622h0M590 636h0M337 599h0M154 27h0M417 29h0M488 334h0M498 302h0M588 565h0M590 551h0M592 6h0M583 -14h0M70 480h0M79 489h0M529 279h0M127 571h0M382 473h0M377 477h0M325 74h0M320 65h0M565 287h0M560 263h0M585 292h0M408 177h0M468 434h0M599 365h0M617 397h0M355 662h0M444 440h0M439 75h0M123 383h0M67 310h0M64 305h0M578 222h0M557 215h0M648 343h0M519 422h0M538 442h0M554 456h0M-2 288h0M10 287h0M50 147h0M150 368h0M146 383h0M155 372h0M660 395h0"/>
<path id="mb" transform="scale(.1)" d="M525 480h0M345 565h0M125 590h0"/>
<path id="bd0" transform="scale(.1)" d="M365 166h0M290 441h0M221 583h0M465 90h0M505 33h0M57 683h0M628 613h0M287 203h0M152 217h0M27 534h0M238 226h0M150 313h0M629 330h0M650 471h0M571 610h0M185 29h0M380 486h0M88 227h0M335 405h0M25 687h0M466 428h0M446 255h0M338 419h0M626 234h0M591 641h0M101 450h0M637 666h0M5 361h0M649 456h0M451 251h0M296 114h0M195 35h0M152 558h0M125 558h0M69 214h0M656 43h0M296 57h0M16 505h0M311 79h0M610 45h0M17 469h0M138 74h0M102 151h0M382 65h0M507 296h0M578 568h0M50 460h0M115 380h0M689 566h0M586 169h0M2 610h0M415 66h0M484 399h0M542 360h0M658 543h0M413 8h0M241 356h0M74 621h0M512 672h0M415 426h0M206 296h0M580 262h0M17 104h0M353 315h0M147 592h0M380 111h0M320 408h0M192 367h0M428 683h0M470 324h0M238 475h0M208 44h0M405 217h0M255 89h0M559 402h0M318 678h0M399 648h0M193 87h0M318 587h0M134 602h0M199 553h0M312 272h0M446 546h0M87 434h0M136 374h0M599 357h0M30 204h0M362 483h0M565 418h0M378 612h0M368 377h0M10 492h0M325 679h0M194 166h0M77 174h0M265 678h0M459 160h0M456 449h0M477 561h0M544 566h0M178 627h0M208 345h0M164 208h0M6 657h0M122 649h0M444 465h0M305 302h0M1 457h0M317 510h0M562 306h0M342 301h0M16 381h0M491 451h0M477 472h0M551 530h0M99 33h0M319 433h0M540 229h0M479 244h0M9 415h0M76 134h0M654 398h0M86 171h0M88 244h0M452 378h0M355 256h0M619 91h0M160 286h0M610 121h0M614 90h0M618 448h0M252 300h0M643 404h0M37 606h0M270 276h0M97 274h0M674 15h0M521 649h0M498 434h0M517 352h0M471 252h0M558 524h0M214 476h0M18 395h0M63 102h0M356 588h0M526 228h0M310 454h0M492 645h0M545 155h0"/>
<path id="bl0" transform="scale(.1)" d="M584 259h0M461 215h0M2 554h0M387 261h0M662 595h0M200 103h0M303 468h0M153 597h0M398 57h0M213 694h0M204 85h0M237 674h0M112 466h0M392 164h0M68 649h0M63 57h0M332 443h0M491 23h0M11 319h0M542 285h0M19 450h0M68 324h0M611 191h0M409 18h0M152 129h0M576 493h0M416 594h0M203 265h0M483 46h0M543 124h0M117 122h0M687 514h0M354 13h0M601 33h0M74 16h0M80 151h0M101 120h0M615 70h0M112 685h0M219 443h0M628 510h0M246 181h0M695 510h0M241 214h0M339 579h0M438 329h0M477 18h0M468 111h0M114 392h0M515 59h0M666 519h0M516 462h0M100 434h0M379 3h0M288 429h0M420 609h0M690 543h0M651 316h0M139 697h0M280 489h0M258 55h0M472 267h0M532 321h0M405 653h0M342 25h0M224 423h0M435 499h0M278 115h0M623 124h0M398 127h0M592 274h0M341 521h0M322 626h0M212 187h0M514 63h0M43 697h0M466 661h0M64 387h0M116 160h0M433 250h0M57 636h0M584 110h0M258 188h0M666 295h0M79 619h0M579 676h0M441 633h0M438 637h0M278 316h0M3 537h0M298 607h0M298 522h0M277 171h0M370 337h0M256 588h0M469 252h0M182 475h0M697 574h0M629 114h0M527 651h0M515 133h0M41 228h0M132 159h0M614 218h0M398 5h0M523 606h0M70 483h0M681 292h0M525 573h0M481 74h0M459 399h0M614 286h0M212 546h0M508 688h0M411 126h0M134 164h0M71 464h0M28 316h0M490 77h0M485 422h0M697 276h0M657 393h0M138 166h0M504 119h0M119 434h0M145 418h0M505 145h0M197 298h0M646 52h0M402 107h0M75 367h0M5 619h0M440 539h0M403 115h0M65 538h0M489 570h0M196 23h0M431 154h0M336 241h0M584 625h0M274 549h0M136 389h0M16 361h0M292 654h0M153 338h0M383 688h0M337 327h0M253 564h0M222 246h0M218 175h0"/>
<path id="bk0" transform="scale(.1)" d="M212 199h0M351 474h0M471 186h0M481 196h0M616 39h0M445 189h0M355 595h0M645 220h0M544 112h0M126 415h0"/>
<path id="bd1" transform="scale(.1)" d="M33 111h0M633 315h0M332 149h0M602 25h0M591 92h0M367 96h0M387 357h0M638 3h0M284 252h0M135 189h0M480 175h0M610 497h0M567 354h0M698 65h0M252 273h0M526 563h0M78 81h0M394 420h0M553 404h0M629 5h0M515 415h0M693 482h0M275 248h0M596 133h0M673 368h0M328 464h0M515 266h0M450 306h0M192 390h0M269 113h0M195 503h0M480 204h0M274 301h0M662 308h0M479 533h0M80 482h0M383 671h0M41 161h0M27 2h0M644 543h0M253 515h0M191 595h0M676 555h0M293 128h0M400 492h0M236 57h0M128 112h0M483 459h0M360 504h0M281 596h0M654 521h0M672 341h0M351 390h0M168 696h0M692 512h0M655 490h0M611 339h0M534 45h0M570 284h0M370 583h0M332 245h0M639 445h0M341 502h0M411 393h0M261 244h0M575 451h0M73 301h0M125 474h0M454 646h0M534 163h0M671 219h0M241 479h0M26 62h0M533 395h0M632 274h0M652 144h0M499 676h0M527 571h0M9 189h0M394 45h0M10 62h0M462 473h0M242 75h0M255 45h0M699 624h0M341 251h0M102 251h0M268 121h0M170 635h0M290 100h0M576 366h0M359 489h0M334 668h0M165 679h0M434 621h0M418 219h0M658 274h0M261 279h0M449 645h0M240 35h0M34 501h0M64 402h0M544 125h0M219 40h0M82 680h0M686 276h0M650 638h0M493 55h0M155 560h0M625 342h0M287 216h0M437 446h0M34 695h0M535 385h0M524 85h0M224 268h0M656 454h0M680 65h0M448 177h0M524 444h0M521 326h0M634 689h0M18 165h0M186 496h0M540 533h0M257 580h0M171 119h0M590 137h0M483 450h0M669 133h0M698 277h0M139 5h0M611 494h0M240 505h0M491 391h0M426 527h0M303 33h0M7 328h0M666 205h0M642 576h0M238 149h0M691 23h0M79 125h0M413 126h0M635 162h0M395 455h0M449 169h0M320 321h0M96 241h0M19 641h0M597 2h0M496 108h0M456 628h0M655 526h0M554 4h0M699 145h0M298 223h0M94 332h0M412 301h0M409 479h0M353 678h0M464 12h0M614 536h0M48 242h0M528 387h0M172 146h0M112 154h0M170 189h0M60 458h0M351 681h0M418 633h0M486 249h0M589 388h0M680 373h0M367 225h0M33 141h0M182 375h0M261 277h0M676 232h0M5 211h0M26 409h0M649 342h0M81 83h0M98 651h0M57 255h0M142 336h0M421 458h0M215 196h0M247 304h0M565 514h0M670 560h0M543 48h0M168 409h0M536 238h0M173 371h0M606 243h0M681 528h0M591 249h0M26 164h0M14 621h0M164 483h0M693 403h0M311 429h0M329 550h0M694 175h0M620 41h0M339 170h0M302 694h0M370 452h0M488 11h0M440 233h0M356 280h0M181 569h0M687 544h0M653 621h0M29 557h0M504 335h0M90 603h0M40 376h0M289 327h0M687 544h0M431 83h0M639 645h0M176 564h0M225 383h0M307 596h0M279 593h0M544 436h0M365 206h0M59 320h0M21 7h0M324 512h0M352 655h0M261 555h0M172 683h0M154 43h0M264 227h0M188 208h0M393 679h0M443 18h0"/>
<path id="bl1" transform="scale(.1)" d="M220 410h0M37 568h0M198 269h0M234 182h0M243 384h0M439 44h0M5 366h0M517 674h0M460 189h0M308 429h0M316 338h0M582 520h0M368 548h0M308 10h0M136 164h0M142 197h0M462 500h0M197 412h0M57 342h0M293 296h0M499 611h0M165 698h0M675 583h0M452 53h0M121 539h0M240 271h0M625 253h0M134 547h0M343 413h0M118 331h0M669 650h0M207 146h0M594 542h0M444 336h0M317 585h0M646 569h0M391 683h0M403 253h0M363 41h0M693 506h0M406 193h0M39 355h0M320 568h0M138 218h0M58 33h0M216 450h0M286 660h0M211 665h0M209 165h0M208 202h0M40 129h0M71 383h0M512 14h0M638 323h0M298 236h0M577 87h0M282 502h0M426 562h0M183 342h0M86 528h0M656 455h0M573 437h0M343 432h0M536 37h0M373 649h0M476 648h0M102 455h0M115 676h0M659 643h0M192 519h0M613 224h0M377 368h0M557 137h0M441 443h0M692 345h0M428 659h0M596 570h0M311 408h0M564 440h0M610 557h0M621 300h0M129 474h0M275 80h0M342 376h0M168 166h0M529 376h0M359 581h0M169 327h0M340 65h0M148 648h0M632 393h0M92 544h0M174 198h0M521 419h0M96 631h0M481 499h0M266 74h0M223 274h0M390 487h0M143 30h0M48 338h0M466 148h0M211 373h0M287 489h0M11 134h0M629 249h0M131 226h0M554 276h0M234 119h0M198 509h0M553 110h0M81 269h0M119 343h0M128 95h0M431 413h0M585 203h0M495 64h0M127 410h0M71 637h0M403 658h0M232 387h0M477 412h0M252 217h0M4 492h0M180 90h0M405 503h0M72 536h0M501 21h0M107 603h0M391 230h0M93 353h0M155 92h0M264 565h0M135 182h0M118 454h0M180 437h0M343 124h0M428 122h0M439 634h0M463 661h0M509 181h0M257 89h0M615 326h0M147 137h0M338 682h0M191 573h0M28 573h0M131 617h0M10 299h0M130 219h0M124 200h0M331 659h0M610 673h0M490 111h0M444 48h0M251 208h0M199 337h0M450 236h0M103 605h0M287 522h0M488 249h0M157 532h0M454 426h0M603 685h0M441 99h0M246 179h0M148 53h0M487 596h0M279 471h0M330 441h0M539 199h0M521 344h0M190 239h0M88 508h0M588 678h0M187 510h0M67 636h0M69 421h0M492 640h0M36 598h0M125 340h0M70 473h0M87 557h0M292 48h0M553 223h0M309 452h0M288 308h0M36 680h0M362 220h0M452 88h0M685 38h0M165 205h0M280 487h0M688 135h0M81 274h0M347 676h0M563 244h0M237 431h0M186 296h0M329 327h0M203 81h0M143 400h0M216 181h0M630 32h0M415 291h0M573 443h0M596 176h0M67 358h0M221 76h0M477 403h0M537 694h0M200 681h0M340 194h0M576 93h0M378 250h0M698 607h0M639 472h0M652 648h0M660 99h0M169 596h0M597 506h0M108 56h0M29 154h0M626 642h0M499 195h0M259 275h0M118 458h0M692 87h0M345 91h0M217 97h0M597 257h0M493 534h0M54 669h0M429 456h0M253 516h0M613 95h0M177 242h0M611 333h0M461 99h0M271 10h0"/>
<path id="bk1" transform="scale(.1)" d="M121 156h0M569 335h0M58 10h0M29 467h0M675 469h0M255 290h0"/>
<path id="us" transform="scale(.1)" d="M524 317l-1-5M636 753l-2 1M966 255l0 5M25 295l-4 1M78 824l-4-9M226 166l5 1M372 585l-4 0M39 25l3-1M133 722l-1-5M973 625l3-2M582 350l5-7M179 298l-5 1M237 809l-4 7M974 474l-3-3M187 597l9 8M877 737l5 1M612 441l-1-2M-7 588l-1-2M469 519l0 2M735 553l-4 2M551 359l2 0M192 763l-3-3M147 123l-6 1M481 121l3 2M846 116l1 1M277 814l-3 6M4 356l3-6M880 825l3-1M309 111l3-2M783-26l0 1M242 190l2-2M20 203l-2-1M913 347l4-1M-11 144l-1 3M463 610l-4 0M793 867l6-1M40 603l-1 9M910 730l2-8M882 447l-5 0M164 853l-4-5M41 809l3-1M941 117l2 0M555 699l1 1M761 570l9 6M202 23l1-1M725 128l-4 1M446 229l-4 6M104 41l-3 1M189 281l2 2M838 889l0 0M566 432l0 2M399 751l-2 7M827 526l3 5M645 716l-3-4M566 901l6-2M335 168l4 2M-40 472l1 0M46 874l-2 0M660 127l-2-8M507 65l-2 4M915 198l2-2M414 566l4-1M415 48l0 5M815-20l-4-4M576 375l8-1M885 506l-1 0M431 271l-2 0M701 270l5 0M149 4l0-2M173 894l-7-4M497 628l-2-3M567 735l7 4M209 134l-2-2M398 626l-3 1M896 168l3-2M462 476l1 2M839 857l2-1M21 829l0-1M619 568l-3-2M780 781l3-4M183 364l-1 1M366 394l-1-4M870 652l3-1M867 668l-1-4M63 781l-2 7M733 704l-2 8M723 716l-6 4M423 72l0 0M268 158l-3-2M252 156l4-1M897 830l1-3M627 45l0-9M356 317l3 3M398 337l-7 1M76 355l-3-3M325 366l3 4M324 382l6 5M709 81l0 1M616 477l-3 2M648 706l0 4M178 548l4-2M364 180l2 3M408 196l1-2"/>
<path id="um" transform="scale(.1)" d="M295 900l4-3M871 760l-1 3M722 467l6-5M36 590l-12-3M767 232l-2 1M120-20l3 7M906 817l-1 3M585 744l3-3M252 186l-7 1M6 740l-2-8M704 319l3 6M-33 247l-3 9M816 907l-4-8M751 337l-4-7M518 638l-9 10M839 545l9-1M424 29l9-7M230-17l-6-5M349 400l-9 10M461 34l-3 0M313 409l-3 4M425 97l-13 1M110 563l-2-1M566 136l5-1M194 348l-4 1M571 712l-1 3M411 378l1-4M474-30l2 4M82 460l-10-8M977 421l-5 4M744 101l1-3M79 850l-4 1M981 15l-7 3M490 272l0 1M224 674l-3-7M596 92l0 8M153 561l2 3M698 871l8-2M833 855l5 3M802 217l8-4M1 574l-2 7M813 579l9-2M308 577l6-4M681 355l-2 6M352 387l-6 2M590 882l-5 1M605 888l-2-8M74 769l-9 6M409 79l1 0M394 86l0 4M226 138l12-3M881 828l-2 6M371 319l-2 4M384 330l1 1M90 348l-5 6M633 699l-1 8M810 620l-3 2M186 561l-2-3M197 573l-5-1M199 589l13 2M379 184l-7-11M392 193l4 0M25 669l-10 4M931 3l7 4"/>
<path id="ul" transform="scale(.1)" d="M12 701l14 3M717 135l1-7M382 336l-14 1M483 92l-5-7M479 126l8 3M502 211l-5-14M497 667l-5-8M816 335l7 3M937 347l7 5M776 324l0-12M581 869l-5-1M49 788l6 2M359 610l-11 10M374 616l1 4M388 608l3 3M241 144l2 5M865 828l-5 6M643 48l-1 12M521 37l-1 11M531 49l2 1M708 97l-6-2M707 65l-4 8M714 51l0-7M632 474l7 3M796 627l-12-2M38 678l1-2M942 16l-2-2M397 816l2 0M362 821l-1-5M383 825l2-2M379 846l0 0M373 804l-5 3M388 821l2-4M363 837l7 4M395 812l14-2M476 707l-6-13M481 726l-21-6M494 724l8 5M481 730l-4 16M480 757l-2 2M493 735l14-2M198 686l-1-9M180 677l-2-7M194 690l11 6M177 659l-2-12M21 484l23 16M8 497l8 2M19 504l6-4M23 503l5-13M678 110l-2-2M702 126l-1 8M694 124l2 4M687 113l8-1M295 387l8-6M296 394l-20-7M469 836l-4 11M468 793l1 0M452 834l3-2M449 817l3-10M460 819l0 2M624 812l1-8M614 817l7-9M624 818l1 3M829 594l-4 6M820 598l-20 2M819 590l10 7M800 807l4 1M798 823l-4 2M785 806l-4 2M813 809l-2 2"/>
<path id="ub" transform="scale(.1)" d="M384 815l0 11M486 738l-3 9M194 676l-1-11M12 496l10 9M691 124l-15 1M300 385l3-2M460 830l9 6M620 815l-3 6M820 600l-5 6M800 810l8 4"/>
<path id="vs" transform="scale(.1)" d="M276 304l-1-4M908 452l-7 3M797 449l-1 7M702 543l1 3M557 684l-4 3M182 189l1 5M557 217l2-1M172 168l1-1M-11 87l6 3M-33 82l-4-1M183 669l1 3M181 478l1-6M121 515l5 2M645 662l0 7M703 367l1-3M772 293l2-8M253 29l-1 0M173 223l0-2M213 732l-5 2M951-30l8-1M238 870l3 2M431-34l0-2M764 608l-9 1M746 488l2-1M65 236l5-3M890 249l-1-2M387 263l1-2M35 596l-6-2M731 234l-4-5M24 505l4 0M928 441l5 3M246 666l-7 6M344 237l3 1M517 80l-3 2M435 11l7-2M822-41l3 6M304 55l3-1M669 777l1-8M884 298l2-2M529 254l4 2M222 903l6 4M502 403l-1 3M719-47l-1 6M69 96l-1 0M342 539l-1 3M6 777l-1 1M36 607l-4-6M910 465l-2-5M234 193l1-1M851 339l-4-1M749 317l0 1M928 599l4-5M856 707l1 9M274 773l0-4M757 286l-1 0M68 412l6-1M21 470l2-3M321 698l-6-2M520 193l1-3M316 475l-2-5M587 475l-2 4M869 869l-3 0M981 770l0-5M367 84l-2-1M272 435l3 2M375 402l2 4M-9-46l3 7M13 124l-2 4M-12 628l-2-5M239 903l0 0M298 429l-5-1M429 531l-1 4M7 779l7-3M35 786l-1-1M951 370l-7 3M966 397l3 1M351 131l3 3M93 661l2 2M499 262l2 1M483 264l-1 0M466 758l-2 0M460 798l-3-2M14 354l1-1M34 374l3 1M569 187l0-1M555 195l2-1M101 579l1-5M107 653l3 3M71 678l3 0M388 263l4-3M613 135l0-1"/>
<path id="vm" transform="scale(.1)" d="M640 758l-6-11M908 635l-1 8M842 335l-4 2M11 846l-2-12M465 273l-8 6M451 449l0 1M514 416l-3 7M355 864l4 5M215 259l-2-7M130 220l-1-1M41 559l-3 6M612 72l1 4M270 362l6-1M928 162l-2 0M536 888l11 5M800-37l4 1M312 729l-5-1M576 390l15 7M495 864l-7-12M-29 595l2 8M263 510l7-1M564 319l8 8M349 141l7-4M780 867l10 0M931 176l7 6M134 532l3 8M293 511l5 0M970 769l6-2M76 755l-9-2M150 436l-3-6M903 152l9 7M979 471l13 4M86 663l-3 5M106-22l9-7M100 259l-11-2M714 188l-6 2M183-22l-5 2M845 415l1-1M561 92l-1-4M15 787l1 0M445 529l-3-1M461 527l-3 2M610 554l-6 1M48 285l-3-3M44 301l-5-4M56 311l-4-6M68 321l3-7M19 790l7 7M936 363l-2-8M364 122l-6-12M687 183l-3-1M682 198l0 6M109 660l-2 7M515 262l8-4M455 770l-3-4M19 369l-6-8M97 665l-8-9M373 268l-5-3M404 265l5 2M597 134l13 6"/>
<path id="vl" transform="scale(.1)" d="M398 429l9 7M314 466l-3 4M870 597l7-7M800 736l-8 1M766 639l-4-2M368 144l1 8M507 85l-1 0M145 226l-1 3M762 259l-9-9M598 565l-3 0M961 381l16 2M343 118l12 3M464 783l1 1M114 588l-2-3M87 678l2 8M619 120l-1 3M197 669l-7 4M185 669l-6 3M197 681l2-8M192 698l1 7M194 667l-10 13M258 351l-6 1M266 351l-3 11M268 349l1-9M157 643l-3-1M163 628l-3 6M169 632l8 2M666 78l-5 10M652 75l-4 13M665 68l7 0M671 84l6-6M448 456l4-19M468 455l2-5M456 456l-17-1M696 543l-11 7M699 555l-13-6M691 548l5-3M704 558l-5 4M313 219l-16 10M325 205l-7 0M328 215l0-7M96 57l7-11M84 40l-11-4M85 47l-4-14M87 51l9-16M523 608l-4 7M510 593l1-4M528 599l-8-6M749 292l6-1M758 319l0-12M759 302l-4-4"/>
<path id="vb" transform="scale(.1)" d="M194 679l5-8M265 345l-5 5M160 635l6 6M660 80l4 5M450 450l11-2M700 550l4 2M330 200l-1 5M80 50l-10 4M520 600l-1 4M750 300l-3 4"/>
<path id="hz" transform="scale(.1)" d="M32 576h0M120 383h0M562 656h0M379 412h0M16 358h0M312 705h0M458 625h0M363 146h0M712 678h0M315 79h0M429 410h0M646 494h0M424 476h0M315 40h0M51 779h0M702 245h0"/>
<path id="ga" transform="scale(.1)" d="M203 418h0M135 683h0M193 460h0M773 331h0M807 609h0M457 523h0M489 300h0M831 336h0M821 709h0M24 215h0M398 678h0M148 512h0M306 654h0M773 634h0M161 633h0M365 697h0M392 754h0M822 686h0M689 681h0M494 145h0M822 386h0M14 361h0M346 167h0M801 93h0M754 457h0M149 298h0M376 98h0M636 542h0M819 690h0M655 829h0M777 536h0M450 436h0M679 770h0M693 698h0M23 350h0M73 487h0M484 467h0M716 187h0M608 488h0M178 814h0M45 387h0M447 495h0M819 459h0M739 245h0M402 122h0M533 351h0M655 94h0M387 798h0M9 549h0M565 604h0M465 417h0M800 236h0M587 556h0M607 398h0M14 645h0M233 651h0M823 646h0M336 713h0M322 266h0M476 544h0M572 460h0M341 618h0M271 505h0M5 109h0M723 179h0M344 44h0M638 273h0M41 228h0M776 629h0M3 793h0M60 403h0M446 652h0M118 686h0M229 614h0M773 491h0M2 555h0M363 608h0M654 89h0M474 535h0M773 511h0M513 640h0M133 715h0M485 529h0M129 435h0M341 171h0M785 704h0M383 63h0M820 98h0M423 470h0M713 546h0M503 427h0M816 682h0M297 661h0M790 404h0M71 56h0M807 173h0M671 161h0M187 134h0M680 76h0M393 673h0M440 8h0M14 692h0M250 69h0M438 653h0M253 111h0M155 395h0M650 69h0M635 567h0M465 319h0M27 419h0M343 565h0M52 138h0M16 405h0M50 444h0M364 275h0M159 766h0M401 85h0M482 635h0M407 741h0M699 566h0M22 335h0M426 141h0M417 556h0M628 632h0M623 250h0M510 417h0M633 101h0M147 596h0M604 191h0M641 646h0M539 384h0M48 192h0M638 775h0M137 31h0M291 782h0M180 777h0M654 699h0M826 562h0M165 361h0M331 553h0M295 609h0M25 185h0M185 142h0M625 729h0M79 397h0M7 206h0M121 576h0M697 701h0M229 341h0M193 552h0M191 638h0M392 458h0M727 769h0M223 604h0M228 9h0M710 159h0M235 597h0M709 323h0M597 330h0M15 460h0M144 175h0M340 536h0M183 182h0M476 228h0M468 561h0M256 747h0M807 33h0M55 91h0M410 250h0M610 820h0M378 228h0M184 758h0M680 731h0M834 377h0M623 280h0M117 577h0M309 449h0M473 202h0M18 619h0M635 636h0M273 278h0M523 308h0M622 432h0M441 710h0M98 175h0M436 710h0M766 730h0M164 263h0M206 189h0M149 127h0M681 435h0M810 520h0M633 776h0M457 192h0M340 368h0M135 460h0M645 272h0M21 84h0M304 165h0M389 806h0M194 294h0M502 136h0M726 817h0M11 327h0M674 16h0M464 673h0M795 159h0M773 497h0M616 190h0M41 399h0M819 211h0M819 818h0M393 378h0M787 21h0M483 143h0M620 408h0M513 323h0M728 687h0M21 470h0M180 775h0M761 659h0M559 748h0M207 244h0M760 542h0M243 704h0M554 10h0M782 615h0M610 70h0M13 66h0M633 31h0M240 272h0M342 234h0M81 431h0M56 334h0M237 73h0M76 609h0M62 417h0M517 756h0M509 651h0M726 96h0M43 675h0M226 394h0M267 131h0M328 391h0M687 186h0M85 503h0M720 347h0M243 732h0M696 26h0M93 491h0M334 408h0M343 97h0M637 739h0M508 254h0M582 239h0M92 500h0M480 743h0M347 106h0M474 46h0M229 810h0M312 300h0M801 75h0M640 608h0M764 108h0M376 312h0M10 139h0M117 59h0M586 590h0M325 682h0M694 697h0M171 298h0M126 36h0M824 469h0M555 455h0M231 13h0M246 348h0M49 213h0M745 57h0M499 349h0M591 497h0M338 831h0M650 360h0M708 647h0M820 361h0M169 414h0M545 370h0M83 416h0M41 43h0M571 209h0M758 747h0M630 98h0M190 415h0M472 384h0M1 144h0M772 341h0M427 765h0M194 340h0M545 212h0M352 636h0M666 613h0M664 11h0M63 494h0M614 44h0M342 465h0M292 18h0M455 479h0M471 147h0M261 28h0M446 177h0M415 748h0M392 222h0M574 628h0M221 449h0M633 134h0M593 248h0M342 473h0M819 198h0M230 829h0M71 198h0M569 399h0M659 154h0M673 243h0M130 467h0M212 316h0M731 697h0M568 468h0M13 288h0M644 640h0M5 369h0M576 489h0M370 248h0M405 26h0M758 44h0M157 794h0M478 110h0M201 373h0M89 6h0M41 51h0M215 502h0M154 408h0M290 391h0M407 233h0M522 779h0M513 783h0M420 446h0M316 361h0M392 826h0M406 551h0M639 76h0M25 342h0M169 366h0M182 461h0M360 182h0M620 803h0M234 439h0M296 762h0M193 15h0M753 615h0M394 36h0M273 398h0M472 170h0M281 112h0M156 152h0M342 470h0M675 125h0M734 201h0M28 521h0M750 785h0M412 800h0M757 394h0M551 614h0M676 53h0M334 15h0M36 376h0M106 28h0M824 89h0M677 388h0M362 443h0M531 115h0M778 773h0M647 365h0M507 35h0M323 544h0M524 709h0M165 790h0M38 107h0M676 13h0M827 566h0M224 361h0M81 397h0M120 629h0M791 452h0M350 675h0M767 252h0M586 795h0M547 97h0M729 122h0M305 218h0M312 662h0M138 365h0M352 692h0M361 332h0M184 472h0M649 219h0M605 191h0M150 67h0M187 313h0M238 383h0M545 576h0M7 172h0M539 768h0M106 473h0M127 797h0M823 625h0M465 665h0M705 257h0M755 432h0M136 72h0M392 3h0M636 256h0M707 680h0M369 808h0M330 211h0M557 776h0M688 300h0M159 421h0M813 293h0M232 816h0M685 386h0M502 81h0M496 438h0M184 199h0M143 75h0M445 287h0M465 683h0M79 642h0M250 688h0M99 790h0M443 568h0M387 391h0M5 128h0M742 416h0M210 725h0M726 667h0M310 277h0M592 317h0M574 114h0M147 298h0M750 226h0M437 62h0M496 123h0M374 444h0M651 633h0M413 812h0M336 344h0M717 654h0M118 302h0M736 805h0M327 30h0M707 269h0M402 653h0M200 719h0M271 333h0M162 503h0M144 818h0M601 35h0M17 163h0M618 495h0M605 469h0M370 448h0M607 287h0M640 779h0M605 275h0M443 394h0M406 40h0M77 531h0M306 337h0M660 245h0M359 69h0M87 793h0M727 460h0M636 426h0M432 824h0M79 549h0M388 590h0M188 218h0M116 684h0M52 173h0M320 729h0M576 632h0M233 362h0M709 235h0M295 235h0M348 4h0M68 59h0M360 558h0M707 732h0M171 398h0M441 599h0M603 344h0M671 528h0M530 789h0M695 105h0M608 12h0M382 294h0M547 565h0M262 161h0M16 719h0M682 267h0M216 107h0M702 366h0M118 241h0M489 95h0M425 80h0M94 451h0M552 548h0M746 146h0M215 110h0M612 122h0M146 600h0M595 200h0M339 723h0M410 532h0M326 747h0M468 684h0M494 107h0M3 537h0M635 191h0M672 538h0M599 411h0M470 106h0M637 499h0M462 140h0M799 387h0M630 44h0M170 202h0M497 235h0M834 540h0M633 25h0M359 584h0M281 486h0M317 597h0M535 679h0M144 387h0M340 692h0M671 692h0M598 294h0M574 565h0M481 473h0M529 793h0M42 255h0M567 144h0M776 607h0M495 397h0M730 216h0M493 689h0M22 653h0M405 194h0M173 396h0M706 392h0M658 445h0M459 302h0M3 692h0M297 134h0M217 377h0M280 97h0M9 479h0M251 619h0M210 483h0M140 189h0M521 159h0M349 304h0M297 684h0M756 518h0M517 121h0M135 282h0M770 359h0M583 299h0M705 704h0M705 32h0M502 54h0M439 555h0M733 114h0M277 221h0M115 40h0M201 606h0M197 595h0M336 826h0M166 347h0M252 259h0M132 725h0M512 495h0M489 141h0M24 303h0M117 235h0M599 545h0M70 119h0M615 58h0M524 719h0M311 296h0M764 617h0M421 514h0M413 422h0M670 672h0M811 430h0M132 341h0M242 189h0M238 629h0M603 162h0M146 792h0M98 31h0M110 654h0M39 745h0M301 708h0M14 3h0M12 811h0M795 600h0M357 796h0M497 730h0M651 338h0M666 620h0M79 36h0M535 73h0M243 497h0M554 217h0M458 11h0M696 143h0M615 705h0M67 805h0M364 84h0M36 397h0M576 175h0M698 29h0M695 214h0M352 821h0M66 137h0M147 620h0M530 494h0M301 688h0M321 657h0M823 298h0M131 828h0M784 803h0M576 253h0M690 537h0M647 89h0M149 573h0M238 51h0M596 568h0M807 712h0M484 593h0M163 133h0M186 176h0M743 262h0M543 573h0M650 20h0M721 239h0M810 292h0M18 735h0M126 707h0M161 203h0M212 130h0M780 810h0M812 203h0M518 354h0M598 761h0M147 631h0M355 558h0M596 792h0M624 711h0M470 693h0M362 91h0M104 477h0M580 717h0M496 496h0M641 612h0M167 154h0M53 434h0M666 318h0M561 111h0M260 40h0M14 624h0M579 533h0M776 273h0M344 518h0M613 194h0M520 256h0M146 567h0M541 218h0M825 317h0M304 308h0M676 567h0M502 140h0M655 42h0M371 694h0M545 30h0M126 61h0M807 555h0M581 309h0M761 503h0M468 825h0M341 709h0M620 651h0M197 625h0M175 550h0M643 558h0M683 355h0M125 598h0M312 645h0M543 277h0M532 36h0M436 610h0M60 585h0M822 617h0M541 565h0M594 533h0M575 187h0M175 365h0M394 558h0M57 473h0M639 795h0M523 228h0M749 320h0M105 186h0M60 26h0M160 86h0M564 768h0M60 324h0M287 593h0M638 664h0M808 382h0M596 612h0M32 337h0M690 162h0M149 774h0M707 828h0M440 424h0M191 425h0M604 423h0M545 513h0M112 523h0M397 457h0M708 517h0M149 696h0M161 423h0M375 359h0M553 131h0M673 298h0M775 533h0M263 616h0M102 444h0M244 134h0M253 753h0M541 22h0M156 239h0M362 75h0M753 714h0M129 203h0M258 585h0M39 770h0M595 739h0M567 23h0M193 386h0M521 203h0M764 597h0M711 656h0M121 307h0M658 247h0M628 573h0M164 218h0M814 449h0M310 259h0M344 29h0M573 83h0M266 243h0M777 227h0M621 259h0M646 794h0M577 50h0M184 344h0M410 504h0M278 553h0M87 376h0M467 409h0M800 156h0M487 613h0M58 130h0M185 156h0M695 472h0M92 482h0M441 656h0M814 225h0M693 172h0M772 571h0M645 499h0M276 660h0M751 797h0M49 616h0M98 142h0M821 215h0M455 748h0M381 693h0M599 204h0M740 549h0M642 187h0M766 625h0M745 559h0M219 253h0M107 293h0M137 660h0M442 726h0M447 388h0M74 222h0M733 182h0M494 573h0M39 264h0M311 758h0M605 532h0M605 321h0M274 274h0M716 775h0M75 711h0M470 122h0M417 118h0M204 327h0M44 825h0M25 419h0M419 207h0M359 800h0M778 596h0M724 283h0M157 20h0M30 459h0M75 428h0M776 807h0M564 569h0M682 756h0M46 667h0M220 84h0M210 594h0M743 261h0M297 24h0M699 354h0M90 78h0M403 284h0M309 202h0M700 814h0M526 744h0M5 227h0M400 797h0M722 41h0M10 126h0M401 472h0M806 77h0M176 578h0M319 176h0M360 88h0M128 798h0M651 168h0M631 482h0M409 264h0M343 281h0M508 711h0M21 627h0M716 177h0M2 277h0M529 745h0M614 428h0M558 708h0M439 42h0M529 565h0M411 522h0M193 820h0M806 831h0M40 399h0M153 135h0M787 102h0M154 48h0M271 2h0M322 596h0M452 124h0M392 396h0M722 432h0M422 826h0M807 473h0M247 185h0M694 606h0M153 367h0M298 264h0M326 332h0M701 488h0M61 635h0M187 37h0M793 44h0M467 541h0M403 588h0M425 533h0M138 179h0M524 37h0M33 543h0M167 689h0M740 624h0M645 773h0M637 128h0M337 785h0M370 217h0M379 501h0M517 663h0M594 492h0M554 317h0M680 722h0M499 481h0M29 728h0M7 494h0M24 780h0M737 709h0M157 716h0M425 429h0M711 631h0M17 498h0M820 782h0M339 654h0M477 822h0M706 284h0M523 827h0M762 794h0M575 635h0M711 301h0M773 434h0M196 139h0M152 140h0M646 627h0M523 303h0M629 380h0M351 246h0M587 640h0M408 336h0M311 580h0M647 279h0M509 690h0M501 376h0M481 581h0M646 190h0M238 417h0M326 311h0M817 142h0M385 768h0M448 456h0M176 489h0M215 677h0M531 91h0M150 10h0M735 72h0M474 329h0M148 175h0M637 791h0M646 490h0M707 160h0M195 407h0M606 716h0M335 621h0M408 524h0M255 452h0M507 758h0M295 53h0M690 508h0M502 467h0M23 625h0M709 434h0M196 654h0M589 823h0M718 91h0M359 161h0M770 358h0M215 756h0M248 771h0M723 679h0M231 320h0M107 167h0M833 391h0M333 467h0M748 210h0M682 496h0M258 160h0M669 765h0M358 458h0M433 23h0M566 696h0M632 109h0M61 779h0M762 239h0M179 241h0M627 522h0M510 277h0M574 522h0M804 424h0M195 377h0M332 227h0M410 538h0M53 79h0M420 788h0M263 831h0M447 508h0M819 247h0M639 476h0M269 510h0M77 208h0M672 257h0M289 538h0M720 98h0M687 500h0M613 732h0M431 297h0M217 181h0M660 557h0M237 166h0M755 483h0M382 695h0M687 183h0M250 705h0M54 118h0M205 10h0M767 434h0M614 294h0M687 52h0M452 323h0M308 92h0M293 145h0M744 282h0M350 513h0M252 422h0M591 31h0M675 319h0M36 159h0M114 430h0M207 447h0M594 69h0M252 796h0M749 441h0M560 140h0M441 21h0M767 446h0M370 778h0M244 383h0M32 584h0M465 335h0M64 423h0M22 24h0M644 435h0M719 449h0M435 682h0M39 821h0M87 278h0M814 562h0M663 201h0M388 300h0M281 222h0M582 824h0M158 786h0M146 70h0M217 633h0M266 727h0M185 379h0M440 605h0M272 619h0M185 821h0M389 380h0M476 99h0M542 81h0M480 516h0M820 552h0M659 621h0M762 50h0M274 234h0M641 401h0M454 387h0M679 428h0M146 825h0M570 145h0M794 85h0M222 761h0M228 45h0M547 723h0M632 159h0M113 158h0M698 99h0M826 464h0M128 480h0M614 35h0M365 105h0M177 518h0M195 742h0M235 193h0M240 139h0M536 84h0M156 107h0M709 249h0M667 619h0M279 120h0M589 90h0"/>
<path id="gb" transform="scale(.1)" d="M426 428h0M160 344h0M300 465h0M180 556h0M569 497h0M412 640h0M99 730h0M175 613h0M766 437h0M24 394h0M210 494h0M59 783h0M399 46h0M750 37h0M30 745h0M238 797h0M514 783h0M569 557h0M583 42h0M524 2h0M659 760h0M712 325h0M282 686h0M422 156h0M446 127h0M56 154h0M120 135h0M193 54h0M448 713h0M635 727h0M642 508h0M720 214h0M339 655h0M631 828h0M826 465h0M273 250h0M793 651h0M604 449h0M334 648h0M723 245h0M492 623h0M374 692h0M257 804h0M312 369h0M442 99h0M380 711h0M669 710h0M654 690h0M690 800h0M763 373h0M239 448h0M788 832h0M464 489h0M793 563h0M222 223h0M365 296h0M584 684h0M402 774h0M137 89h0M73 247h0M390 500h0M680 768h0M646 414h0M426 401h0M421 244h0M266 704h0M36 143h0M498 816h0M299 500h0M387 426h0M132 383h0M460 170h0M279 232h0M452 71h0M551 240h0M62 32h0M521 750h0M511 39h0M56 522h0M632 653h0M625 249h0M463 685h0M543 111h0M138 722h0M830 636h0M553 721h0M622 514h0M285 499h0M686 138h0M609 666h0M760 341h0M628 1h0M247 120h0M554 661h0M706 291h0M291 141h0M565 103h0M779 319h0M170 29h0M173 445h0M663 160h0M227 377h0M708 708h0M367 158h0M77 471h0M4 708h0M110 637h0M106 335h0M514 93h0M831 376h0M334 491h0M433 596h0M658 755h0M147 397h0M743 435h0M545 519h0M82 626h0M239 654h0M525 710h0M676 533h0M759 810h0M188 296h0M169 241h0M38 360h0M604 506h0M566 641h0M58 758h0M101 345h0M345 697h0M510 301h0M4 603h0M28 788h0M434 128h0M527 731h0M411 15h0M315 284h0M515 225h0M777 540h0M208 348h0M716 542h0M539 287h0M637 142h0M660 396h0M73 608h0M673 719h0M353 212h0M324 702h0M91 528h0M617 399h0M462 798h0M760 53h0M441 127h0M726 56h0M68 203h0M60 562h0M816 131h0M725 129h0M4 679h0M589 636h0M492 677h0M831 424h0M9 798h0M594 565h0M201 720h0M359 389h0M516 395h0M318 25h0M197 58h0M540 357h0M611 184h0M253 173h0M609 750h0M143 298h0M594 24h0M93 435h0M200 106h0M253 83h0M586 168h0M280 357h0M63 137h0M828 184h0M610 546h0M44 289h0M396 313h0M475 341h0M210 483h0M609 86h0M190 199h0M96 665h0M339 188h0M710 827h0M7 124h0M552 199h0M53 23h0M787 15h0M817 347h0M330 294h0M398 655h0M35 369h0M13 369h0M520 775h0M227 566h0M771 323h0M703 474h0M302 285h0M41 318h0M431 640h0M639 518h0M547 229h0M80 523h0M674 795h0M515 788h0M295 267h0M635 626h0M639 396h0M209 213h0M352 110h0M657 132h0M9 19h0M96 307h0M108 28h0M50 266h0M249 376h0M383 481h0M525 762h0M750 568h0M70 173h0M510 118h0M535 382h0M263 136h0M543 216h0M611 42h0M59 327h0M378 662h0M471 330h0M20 825h0M416 422h0M584 392h0M558 818h0M689 687h0M180 137h0M439 81h0M134 516h0M734 291h0M447 115h0M330 755h0M249 570h0M33 737h0M659 577h0M831 172h0M71 429h0M77 283h0M294 144h0M104 295h0M345 321h0M669 20h0M553 64h0M730 460h0M556 720h0M77 208h0M79 818h0M303 4h0M679 394h0M160 499h0M181 700h0M84 285h0M132 457h0M542 564h0M284 814h0M787 831h0M761 541h0M561 157h0M577 594h0M555 22h0M138 617h0M397 768h0M505 778h0M451 691h0M685 252h0M415 625h0M833 452h0M682 249h0M719 514h0M333 729h0M697 123h0M326 522h0M738 650h0M468 587h0M312 126h0M446 230h0M747 738h0M615 666h0M497 687h0M426 647h0M750 24h0M194 632h0M290 730h0M280 518h0M824 484h0M150 789h0M170 657h0M440 768h0M595 626h0M630 631h0M46 468h0M688 619h0M473 408h0M51 171h0M218 650h0M796 231h0M414 93h0M487 772h0M272 655h0M318 247h0M258 444h0M296 600h0M811 684h0M401 124h0M658 436h0M623 473h0M535 554h0M600 394h0M643 774h0M110 250h0M219 831h0M418 303h0M327 693h0M87 302h0M205 515h0M351 406h0M203 220h0M638 419h0M739 528h0M40 107h0M186 32h0M337 170h0M124 155h0M535 489h0M282 560h0M503 622h0M76 543h0M402 831h0M138 180h0M445 816h0M600 83h0M434 807h0M436 757h0M212 291h0M831 773h0M674 493h0M142 788h0M610 538h0M457 584h0M436 458h0M299 270h0M70 193h0M102 763h0M143 689h0M290 466h0M656 66h0M34 312h0M352 156h0M101 653h0M90 104h0M395 98h0M518 64h0M195 9h0M390 226h0M359 534h0M637 349h0M655 404h0M533 329h0M16 255h0M752 353h0M382 384h0M552 192h0M158 546h0M215 735h0M703 565h0M421 454h0M183 121h0M456 407h0M296 414h0M296 294h0M197 258h0M76 366h0M499 359h0M9 581h0M128 770h0M218 401h0M13 654h0M695 379h0M394 681h0M619 541h0M458 384h0M60 217h0M618 642h0M99 680h0M272 212h0M547 596h0M55 539h0M223 542h0M675 278h0M696 22h0M729 444h0M220 557h0M125 95h0M828 286h0M222 443h0M364 727h0M282 10h0M817 214h0M453 129h0M447 568h0M378 48h0M640 668h0M283 20h0M371 97h0M816 139h0M828 591h0M103 152h0M811 83h0M587 508h0M828 331h0M31 210h0M565 130h0M446 731h0M742 303h0M789 72h0M239 794h0M476 610h0M350 516h0M557 357h0M509 182h0M279 208h0M210 295h0M826 284h0M205 173h0M125 210h0M702 383h0M9 586h0M421 463h0M716 351h0M254 681h0M43 513h0M10 133h0M136 144h0M96 307h0M726 25h0M244 389h0M588 793h0M803 281h0M416 377h0M312 559h0M588 669h0M582 279h0M658 424h0M26 681h0M739 725h0M486 196h0M631 266h0M345 578h0M525 24h0M467 137h0M164 219h0M537 640h0M819 695h0M344 749h0M69 301h0M80 710h0M536 14h0M371 111h0M488 238h0M732 727h0M763 599h0M108 228h0M89 658h0M197 630h0M655 644h0M207 167h0M379 185h0M324 728h0M129 107h0M694 765h0M778 252h0M205 492h0M801 732h0M81 395h0M170 261h0M710 589h0M505 202h0M650 64h0M129 810h0M114 476h0M310 600h0M86 5h0M377 807h0M196 329h0M756 11h0M538 765h0M5 767h0M189 24h0M246 712h0M201 430h0M180 147h0M458 15h0M434 553h0M573 2h0M667 402h0M428 385h0M764 462h0M584 756h0M256 686h0M463 794h0M253 465h0M345 574h0M317 133h0M814 158h0M100 27h0M197 689h0"/>
<path id="gc" transform="scale(.1)" d="M265 672h0M502 294h0M1 297h0M269 155h0M227 446h0M561 544h0M432 38h0M175 548h0M817 662h0M207 341h0M608 219h0M503 420h0M694 184h0M782 245h0M634 558h0M646 263h0M706 627h0M557 742h0M330 502h0M380 815h0M474 198h0M628 751h0M266 671h0M769 457h0M741 83h0M427 326h0M403 467h0M366 803h0M767 85h0M424 316h0M474 72h0M580 378h0M254 743h0M589 691h0M102 219h0M468 762h0M639 723h0M193 618h0M12 48h0M601 168h0M722 525h0M251 64h0M106 66h0M68 546h0M485 700h0M464 817h0M420 85h0M264 518h0M437 787h0M76 664h0M720 535h0M748 98h0M760 722h0M694 738h0M434 738h0M593 199h0M524 712h0M569 506h0M120 6h0M798 219h0"/>
<path id="k0" transform="scale(.1)" d="M119 361h0m7 11h0m-20-8h0m599 342h0m-3-12h0m-6 22h0m13-33h0m-1 37h0m-350-82h0m-13-2h0m15 14h0m-76-389h0m-13-2h0m-11-6h0m16-6h0m-10 69h0m471-27h0m10 8h0m-23-6h0m36 4h0m-569-290h0m-13-2h0m8 14h0m-154 83h0m-11-6h0m385 283h0m-9-9h0m-2 15h0m-10-19h0m32 20h0m-227-59h0m135 51h0m10 7h0m5 13h0m-28-19h0m105-264h0m-12-6h0m161 302h0m-12-4h0m24-2h0m13 0h0m-8-12h0m-18-125h0m1-13h0m-6-11h0m-4-13h0m21 17h0m-11 202h0m3 12h0m-13 1h0m16-25h0m8 31h0m-370 184h0m13-3h0m-1-13h0m3-12h0m-23 39h0m235-336h0m5-12h0m6-12h0m-17 5h0m-12 5h0m332 400h0m-285-355h0m-4 12h0m-13 2h0m-8-10h0m34-13h0m0-138h0m-324 474h0m-9-9h0m22 11h0m-15 11h0m-18-29h0m413-506h0m-1 13h0m1 13h0m-505-169h0m12 6h0m3 13h0m712 340h0m-663-148h0m10-9h0m1-12h0m-38 476h0m10 8h0m-16-20h0m300-413h0m11-5h0m-13-7h0m-8 20h0m34-17h0m-66-8h0m-5-12h0m3-12h0m-8 33h0m22-6h0m160 187h0m-13 1h0m0 13h0m-3-25h0m-258 137h0m-12-5h0m-88-363h0m-4 13h0m-13 0h0m-12-4h0m156 616h0m2 13h0m12-5h0m-16 17h0m-10 8h0m441-143h0m3-12h0m-15 7h0m5 16h0m-262-604h0m11-6h0m-20 15h0m233 110h0m-6-12h0m-2-13h0m-3 32h0m3-23h0m-11-7h0m-11 7h0m-7 11h0m167 311h0m-6 12h0m-13 3h0m-593 93h0m-2 13h0m12 5h0m336-509h0m11 7h0m5-12h0m-249 588h0m-10 8h0m-10 9h0m290-174h0m-13 1h0m13-14h0m-14 1h0m150 81h0m0 13h0m-12-10h0m-327-466h0m10-8h0m-12 21h0m391-101h0m-321-30h0m10-8h0m9 9h0m-15-20h0m-236 61h0m-5 12h0m-11 8h0m29-19h0m9-9h0m229 50h0m9-9h0m-16 20h0m22-31h0m-8-11h0m256-40h0m11-7h0m6-11h0m-17 3h0m-563 121h0m13 0h0m-26 1h0m656 516h0m12 4h0m-8-16h0m-13-2h0m-570-455h0m10 9h0m12-4h0m-4 14h0m1-27h0m444 598h0m3-13h0m13 1h0m-29 10h0m8-21h0m150-46h0m1-13h0m-12-5h0m-13 2h0m-10 8h0m20-735h0m-13 1h0m-383 31h0m-4 12h0m-13 3h0m-12-5h0m-210 667h0m13-1h0m577-2h0m-58-684h0m-4 12h0m-110 478h0m2-13h0m-14 8h0m-473-125h0m-13 2h0m16-15h0m8 19h0m732 41h0m0 13h0m10-21h0m-9 34h0m-44 328h0m-12-4h0m8-10h0m17 12h0m-49-442h0m-85 399h0m-309-195h0m-4 12h0m-12 4h0m344-412h0m7-11h0m3 590h0m-4-13h0m17 17h0m5 11h0m-17-40h0m14-647h0m9-9h0m13-4h0m-4-13h0m115 408h0m12 4h0m-67 46h0m2-13h0m-13 6h0m3-14h0m-733-236h0m-12-4h0m-9-10h0m-17 14h0m-10 8h0m9-21h0m-13 1h0m19-13h0m247 559h0m-25-1h0m0 13h0m-4 13h0m-159-86h0m9-9h0m-20 3h0m-11-7h0m38-7h0m-72-17h0m-13 0h0m9-13h0m-5 25h0m812-543h0m-308 18h0m13 0h0m-5-12h0m18 12h0m10-8h0m-516 272h0m-1-13h0m1-13h0m204 135h0m13 1h0m-6 12h0m451 50h0m-4-12h0m12-5h0m-659-188h0m13-2h0m403 360h0m-13 3h0m1-13h0m-10-140h0m6 11h0m252-219h0m10-8h0m-23 7h0m1 13h0m-558 37h0m-6-12h0m-13 0h0m-9 10h0m17 194h0m-3 13h0m-8-19h0m-4 25h0m-8-175h0m360 135h0m-9 9h0m-5-12h0m24-6h0m39 220h0m13-1h0m11-7h0m-36 13h0m155-748h0m-2 13h0m13-20h0m181 709h0m13-1h0m7-11h0m-396-68h0m11-6h0m131-404h0m11-7h0m-9-10h0m-15 15h0m3-16h0m-265 428h0m7-11h0m-5 24h0m11-6h0m-201-195h0m8-11h0m-18 3h0m-6-12h0m544-37h0m-5-12h0m18 15h0m6-11h0m12-4h0m-616-2h0m1-13h0m-8 24h0m11-37h0m421 297h0m155-452h0m-13 4h0m25-9h0m0-13h0m-23 9h0m-337 231h0m448-483h0m-549 664h0m-7 11h0m0-22h0m299-280h0m-12-2h0m-10-9h0m32 2h0m11-355h0m-6 11h0m-6-16h0m-165 138h0m12-3h0m-24 8h0m3-15h0m33 1h0m199 476h0m138-350h0m-5-12h0m12 23h0m3 13h0m-403 38h0m13 4h0m6-12h0m6 17h0m220-143h0m-11 7h0m14-20h0m-32 527h0m-67-432h0m-180 383h0m554-140h0m4-12h0m-634-315h0m-3 12h0m543 299h0m-12 4h0m-13-1h0m-8-10h0m38-5h0m-113 101h0m0 13h0m1-26h0m-10-9h0m-597-52h0m-13 3h0m-11 6h0m26-22h0m447 81h0m7 11h0m0-22h0m-11 28h0m-330-547h0m-6-11h0m-5 17h0m443-32h0m3-12h0m-6-12h0m4 37h0m-153 255h0m2-13h0m-396 330h0m6 12h0m-13 1h0m24-9h0m9-9h0m472-149h0m1 13h0m12-13h0m-23-8h0m-431-159h0m146-63h0m-11 7h0m137 134h0m2 13h0m0 13h0m-15-30h0m73-51h0m1-13h0m10 20h0m5 12h0m63-204h0m13 1h0m-502 297h0m-11-7h0m-7 11h0m30-9h0m-43 9h0m76 125h0m10 8h0m2-14h0m-10-9h0m391-379h0m-6 12h0m325 393h0m0-13h0m11-5h0m-219-102h0m-500-424h0m-12 6h0m13 7h0m295 751h0m-6 12h0m-1-24h0m0-13h0m-307-189h0m8 10h0m6 11h0m-31 90h0m0 13h0m11-20h0m-4-13h0m790-332h0m-56 231h0m-8 10h0m-431-309h0m12 4h0m13 1h0m112-39h0m8 11h0m-162-164h0m-9 10h0m8 10h0m11-13h0m-5-18h0m270 329h0m13-2h0m191 327h0m12 3h0m-2 12h0m-56-536h0m-2-13h0m-713 372h0m-3-12h0m-3 24h0m-13 1h0m532 184h0m1-12h0m-13 7h0m11 18h0m282-419h0m3 12h0m11 8h0m-23-3h0m0-26h0m-629-197h0m12-5h0m-21-4h0m0 18h0m-122 494h0m-13 3h0m19 8h0m-1 13h0m383-566h0m-13 0h0m23 9h0m-196 560h0m-7-11h0m-7-11h0m-13 3h0m38 25h0m-167-555h0m9-8h0m-5-12h0m-14 12h0m84 458h0m59-348h0m-7 11h0m416 591h0m-477-360h0m12 4h0m13-2h0m7-10h0m-152 140h0m-2-13h0m-8 21h0m20-26h0m13 0h0m230-374h0m-12 4h0m14-17h0m276 131h0m13 0h0m7-11h0m-143-148h0m102 193h0m-8 10h0m-8-10h0m-194-234h0m-12 2h0m0-13h0m-13 12h0m234 691h0m12 4h0m-25-4h0m-175-651h0m8-10h0m-2 22h0m-17-6h0m9-24h0m73 167h0m0 13h0m13-1h0m-26-14h0m371 33h0m-11-8h0m-258 151h0m9 8h0m-3-19h0m-13 22h0m-3 12h0m-399-262h0m11 6h0m-6 11h0m18-5h0m-31-22h0m116 431h0m-2-13h0m13-2h0m-15 27h0m-207-34h0m1-13h0m8 22h0m-21-25h0m34 26h0m55-95h0m0 13h0m427-129h0m-12 4h0m-101 260h0m12 4h0m-21-14h0m26 26h0m-17-35h0m-19-144h0m-27 126h0m0-13h0m7-11h0m-20 23h0m427-405h0m3 13h0m-13 1h0m-5 11h0m-13-2h0m-10-261h0m-6-11h0m-1-13h0m14 35h0m5-14h0m-325 791h0m-11-7h0m-360-148h0m7-11h0m168-230h0m-7 11h0m-72-390h0m219 110h0m-11-8h0m24 7h0m173-130h0m-1-13h0m13 5h0m3 12h0m-27-23h0m-65 526h0m11 7h0m-140 99h0m-3-13h0m88-196h0m-6 11h0m-8 11h0m22-32h0m-430-261h0m2-13h0m11 14h0m-24-14h0m794 346h0m-8 11h0m-491 305h0m13-3h0m7 11h0m6 12h0m-241-57h0m-8-10h0m20 3h0m-33-5h0m419-420h0m9-10h0m311 285h0m-96-214h0m-9-9h0m18 0h0m1 18h0m-201-347h0m-7 11h0m9 10h0m-7 11h0m-147 520h0m-5-12h0m-11 26h0m-12-7h0m-86-251h0m309-191h0m6 12h0m-13 3h0m26-1h0m-37-6h0m-356 405h0m11-8h0m-20-2h0m22 15h0m617-465h0m13 1h0m-13 12h0m-202 526h0m-13-1h0m26 3h0m13 2h0m5 12h0m-185-67h0m6-11h0m-3-13h0m-13 0h0m18 35h0m-210-219h0m-6-11h0m11-8h0m7 14h0m-163-143h0m10 8h0m-22-13h0m-12 7h0m-2-13h0m316-235h0m7-11h0m6-12h0m127 711h0m4-12h0m5 21h0m13 3h0m242-116h0m10-9h0m-2 19h0m-15-21h0m-441-574h0m11-6h0m-24 4h0m-10 9h0m450 81h0m11-8h0m-24 5h0m33-13h0m-33 26h0m-120 694h0m-12-4h0m-6-11h0m-4-13h0m197 41h0m10 7h0m0-15h0m4-13h0m-683-693h0m-113 375h0m-10-8h0m227 77h0m12 5h0m-5-16h0m-17 2h0m30 4h0m29 134h0m8-10h0m-21 10h0m13 13h0m346 20h0m-7-10h0m-114-212h0m13 2h0m-23-10h0m312 83h0m13-3h0m5 13h0m-28-3h0m3-18h0m-91-228h0m13 0h0m-11 13h0m10 9h0m-659 144h0m-13-3h0m24-3h0m357-410h0m-13-4h0m0-13h0m-151 368h0m-3 13h0m15-9h0m-271 359h0m-4 12h0m-9-12h0m13 25h0m68-54h0m5-12h0m13-1h0m-31 12h0m424-513h0m-8 10h0m21-11h0m-287 34h0m12 6h0m-173 115h0m2-12h0m12 6h0m750-270h0m13 4h0m0-13h0m-573 372h0m12-3h0m387-193h0m3 13h0m-6 11h0m19-12h0m-275 49h0m9-9h0m-3 20h0m-15-2h0m-183 199h0m-10 7h0m-13 2h0m-2 13h0m246-250h0m-13 2h0m-324 408h0m13 2h0m-23-10h0m34 3h0m-121-306h0m-4 13h0m10 8h0m3 13h0m409-124h0m-12 6h0m2-15h0m9-10h0m2 64h0m12 5h0m10-8h0m-30 13h0m30 3h0m-37 371h0m13 0h0m-23 7h0m-5-12h0m83-116h0m12 3h0m9 10h0m-1-19h0m-28 16h0m94-548h0m12 6h0m12 3h0m-156 654h0m-7-11h0m308-262h0m12-5h0m-608-150h0m13 1h0m-5 12h0m8 9h0m-108-137h0m737 379h0m13 0h0m8 10h0m8 10h0m-790-446h0m190-182h0m-13 1h0m454 662h0m1-13h0m-6-12h0m-576-408h0m12 6h0m-8-18h0m-13-1h0m690-77h0m-5 12h0m2 13h0m89 620h0m7-11h0m10 8h0m-19 16h0m-507-471h0m-212-189h0m13-3h0m-24-3h0m-12-6h0m18-6h0m520 314h0m7 12h0m-488-255h0m-11-8h0m4 19h0m12-23h0m535 345h0m-12 6h0m-3 12h0m-537-166h0m613-191h0m11 6h0m1 13h0m7 11h0m-28-39h0m-514 272h0m0 13h0m-13-1h0m1-17h0m13-8h0m-25 43h0m11 7h0m12-6h0m-32 8h0m364-324h0m-5 12h0m15-4h0m11 7h0m-429 509h0m-7-11h0m6 24h0m-12-4h0m-11 7h0m634-236h0m-113-407h0m-5 13h0m11 7h0m6-24h0m-615 461h0m4 13h0m9 9h0m-22-9h0m374-40h0m-8-10h0m418 217h0m-5 12h0m-2-23h0m16 1h0m-518 6h0m13 1h0m-5 12h0m17-16h0m-230-82h0m-3 12h0m-11 7h0m-13 2h0m30-34h0m527-286h0m-8 10h0m5 12h0m13 3h0m-6-37h0m-573-165h0m8-10h0m712 528h0m-1-13h0m7 24h0m-1-36h0m-709-63h0m3-12h0m-13 0h0m26-2h0m431-249h0m11-6h0m4 12h0m-25-15h0m-13 2h0m115-264h0m12 6h0m-24-3h0m-7 11h0m-433 439h0m520-80h0m12 5h0m-305-320h0m-13 1h0m10 12h0m1-25h0m258 250h0m-9-10h0m3-13h0m-627 509h0m12-5h0m-21 14h0m12-24h0m316-99h0m6-12h0m7 13h0m13 4h0m113-669h0m-4 13h0m-5-22h0m100 672h0m-13 3h0m-9 9h0m32-21h0m-574 84h0m13 1h0m123-197h0m-10 8h0m6 11h0m13-3h0m-38-260h0m10 9h0m253-227h0m-10 9h0m12 5h0m-2 526h0m-4-12h0m-9 16h0m271 7h0m12-4h0m-190-401h0m-4-12h0m-9 12h0m3 13h0m137 555h0m9 10h0m11 6h0m-13 7h0m-207-214h0m0-13h0m9 23h0m-21-12h0m-339-197h0m-3-13h0m-9-9h0m22 8h0m504 52h0m-13 0h0m25 7h0m6 11h0m231 331h0m-2-12h0m-13-2h0m6 24h0m-412-518h0m-215 447h0m2-13h0m-15 14h0m19 11h0m-22 2h0m469-261h0"/>
<path id="k1" transform="scale(.1)" d="M80 100h0m-4 12h0m-3 13h0m11 7h0m-20-24h0m29 33h0m-4-21h0m12-6h0m9 10h0m7 10h0m-20-32h0m22 45h0m10-18h0m13 2h0m-49-42h0m13-2h0m-4-13h0m45 69h0m-47-82h0m-11 13h0m46 71h0m25 1h0m13 3h0m-12 10h0m17 2h0m8-13h0m-100-87h0m-11-6h0m107 81h0m8 31h0m-128-112h0m-10-8h0m5 20h0m9-24h0m-4-12h0m7-11h0m6 121h0m65-23h0m-58-98h0m-17 57h0m64 35h0m-87-74h0m74 71h0m-42-22h0m-37-61h0m-12 5h0m-11-8h0m21-10h0m5-12h0m-17 7h0m-22 16h0m-11 7h0m37-35h0m403 64h0m-11-7h0m3-13h0m-13 2h0m19 31h0m-32-27h0m-8 10h0m-13 0h0m4 13h0m22-37h0m-6 34h0m48-9h0m-55-24h0m65 31h0m-75-24h0m73 37h0m-80-48h0m94 41h0m-92-54h0m87 71h0m-11 6h0m24-2h0m-14 10h0m-14 5h0m-28-27h0m29 39h0m-14-11h0m-12-6h0m38 16h0m-61-38h0m27 38h0m-37-30h0m-19-12h0m-12 4h0m12 9h0m192-28h0m-11-8h0m24 9h0m-35-2h0m-9-9h0m-8-10h0m65 19h0m-59-31h0m-10-9h0m80 34h0m4 12h0m-93-26h0m30-16h0m-43 16h0m45-29h0m-9-9h0m9 35h0m72 37h0m7 11h0m11 7h0m13 4h0m12 3h0m-103-68h0m78 74h0m12-22h0m-77-48h0m13-1h0m-14-12h0m24 19h0m-12-24h0m24 20h0m-28-32h0m41 32h0m-105 16h0m7 11h0m205-33h0m0-13h0m13 16h0m-26-14h0m35 5h0m2 16h0m12-5h0m-56-27h0m34 40h0m16 4h0m18-15h0m-70-42h0m4-12h0m-5 44h0m83 23h0m10-8h0m11-8h0m-25 4h0m-9 11h0m-10-8h0m56-8h0m-45-5h0m58 7h0m-79 14h0m-12 6h0m-485 75h0m-8-10h0m-13 3h0m31 16h0m-18-32h0m14 12h0m-37-4h0m9-10h0m41 12h0m-61-9h0m68-2h0m9-9h0m12 6h0m-87-8h0m140 25h0m-7-11h0m-5-12h0m-1 25h0m-5 12h0m-6-19h0m-2 30h0m-11-29h0m26 29h0m13 0h0m-14 13h0m122-28h0m-13-1h0m-8-10h0m-4-13h0m-2-12h0m2 40h0m-3 12h0m-13 0h0m-1-13h0m-128 107h0m-9 10h0m11 6h0m-22 0h0m6-18h0m-19 20h0m19-33h0m-13 12h0m30 32h0m-43-36h0m-1 35h0m45 14h0m13 1h0m-65-27h0m43 35h0m23 5h0m7 10h0m9-9h0m13-1h0m-12 19h0m15-31h0m11 6h0m7-12h0m-4 24h0m-28 26h0m27-13h0m-3-47h0m16 49h0m-6 11h0m19-10h0m6-11h0m-15 29h0m-85-120h0m95 128h0m-85-120h0m10 9h0m-28-27h0m23 6h0m2-13h0m-32 70h0m43-64h0m4-13h0m12 4h0m-4 15h0m-16-29h0m-13-2h0m36 42h0m-29 27h0m42-29h0m13 2h0m-14 11h0m-29 20h0m3 13h0m12 7h0m-9-31h0m7 13h0m19 78h0m-45-164h0m51 176h0m9 9h0m28-30h0m-27 43h0m-13 4h0m43-22h0m-52 12h0m-12-2h0m-259-29h0m-6 12h0m-2 12h0m13 0h0m9 9h0m10 9h0m1-16h0m5 27h0m6-15h0m-19-22h0m8-10h0m14 57h0m5 11h0m-12 5h0m12 8h0m-60-52h0m40 34h0m-52-28h0m42 36h0m-18-38h0m18 51h0m-52-57h0m-9-9h0m36 26h0m49-44h0m-86 5h0m94-15h0m-47 62h0m58-56h0m-103 41h0m114-48h0m-52 64h0m48-46h0m-6-26h0m21 16h0m-8 21h0m-128 26h0m125-13h0m14-20h0m12-4h0m-16 32h0m11-7h0m12-6h0m13-2h0m-29 26h0m34-14h0m-3 13h0m8 10h0m-38 4h0m44-20h0m-42-55h0m-8 87h0m-1-97h0m-11 101h0m14-114h0m-9 126h0m6 12h0m-17-35h0m28 28h0m5 12h0m-39-52h0m7-11h0m-12-5h0m-67 16h0m-12-3h0m101 2h0m-60-63h0m8-10h0m-4-12h0m-12 5h0m24-12h0m-29 0h0m-10-8h0m61 55h0m-66-68h0m535-38h0m3 13h0m-15-19h0m25 6h0m-34-15h0m30 3h0m16 17h0m-36-29h0m-22 6h0m-13 0h0m-10 8h0m25-20h0m-25 3h0m17-14h0m-29 25h0m0-17h0m5-12h0m0 46h0m-13 2h0m80-27h0m-66-34h0m11 63h0m-23-61h0m71 80h0m-51-7h0m16-14h0m13-3h0m17 36h0m-12-6h0m7-67h0m-17 75h0m-45-22h0m56 1h0m15-63h0m-20 95h0m-63-27h0m-5-12h0m78 47h0m-90-41h0m93 54h0m-31-47h0m-69-18h0m8-10h0m125-10h0m-117 0h0m129 4h0m13 1h0m-7-12h0m17 20h0m13 1h0m-8-13h0m1-13h0m-68-32h0m87 54h0m7 11h0m-26-46h0m-80-23h0m207 23h0m-4-13h0m2 26h0m-13 1h0m-11 7h0m19-46h0m-13 27h0m-9-10h0m20-30h0m-30 22h0m20 0h0m1-31h0m-25 43h0m12-22h0m6-32h0m-12-4h0m-1-13h0m-4 25h0m9 9h0m-18-33h0m-13 0h0m-12-2h0m13 15h0m-21-5h0m93 52h0m0-13h0m12 4h0m3 13h0m7 11h0m-81-24h0m83 37h0m13-1h0m-28-8h0m37 17h0m-42-5h0m3 12h0m-38-100h0m90 95h0m-57 17h0m59-4h0m8-22h0m-75 37h0m47-51h0m-35 56h0m32-69h0m-52 74h0m-11-7h0m1 15h0m20 0h0m-11 10h0m5 12h0m3 13h0m8 10h0m-83-204h0m-5-11h0m17 6h0m13-4h0m-22-13h0m34 9h0m3-13h0m-7-11h0m9-9h0m-20 2h0m5 21h0m7-33h0m15 49h0m-356 296h0m-5-12h0m-8 12h0m18 12h0m-17 1h0m20-28h0m-26 40h0m39-43h0m-44 55h0m6 11h0m30-49h0m9 10h0m12-5h0m-39 39h0m21-22h0m-47 3h0m75-28h0m-85 19h0m93-30h0m-9-9h0m-96 33h0m-10-7h0m94-32h0m-91 19h0m-2-13h0m80-9h0m-91 43h0m4 12h0m6 11h0m-4-69h0m-15 58h0m6 13h0m21 9h0m-33-3h0m107-8h0m-116 17h0m-9-9h0m-1-13h0m21 29h0m-4 13h0m-6 11h0m103-34h0m9 10h0m-22-28h0m-99 62h0m132-29h0m-1 13h0m-69-75h0m-59 16h0m130 33h0m-62-58h0m6-12h0m61 59h0m-2-13h0m15 9h0m1-13h0m6-11h0m9 9h0m13 1h0m-1-13h0m-34 52h0m47-54h0m0-13h0m-35 62h0m26-71h0m-126 49h0m137-56h0m-25 4h0m36 2h0m11-6h0m59 44h0m-11-7h0m15-5h0m-2-13h0m3-13h0m12 29h0m-2-16h0m14 20h0m-8-31h0m10-9h0m5 12h0m7 11h0m-3-32h0m14 39h0m3-13h0m2-13h0m-35-15h0m18 55h0m7-63h0m18 49h0m-44-54h0m-13 3h0m-12-6h0m1-13h0m-11-8h0m-3 23h0m10-34h0m-16 2h0m-10-8h0m-4-13h0m-8 15h0m24-7h0m-35 0h0m-8-11h0m17 31h0m38-26h0m-48-16h0m-18 18h0m75 69h0m4-69h0m3 13h0m-78-1h0m83 13h0m-86 0h0m11 7h0m-22 0h0m19 13h0m-11 7h0m2 13h0m-2 13h0m14-10h0m13 1h0m-29 22h0m27-9h0m14-7h0m-4 15h0m8 10h0m162 69h0m-5 12h0m18-11h0m-26-3h0m36 11h0m-11 7h0m9 10h0m-40-39h0m47 50h0m-60-51h0m-13-2h0m-12 5h0m-13 1h0m-12 5h0m24 7h0m-8 10h0m-23-28h0m5 24h0m-14-14h0m-10 8h0m-10-8h0m28 25h0m-15-36h0m15 49h0m10 10h0m-36-67h0m42 56h0m6 15h0m49-36h0m-13 1h0m-29 17h0m12 5h0m89 1h0m4 12h0m6-21h0m-98-5h0m107-4h0m-49-28h0m60 34h0m-152-49h0m172-13h0m-10-8h0m22 3h0m-8-10h0m-23-3h0m44 12h0m12-6h0m-22-10h0m35 10h0m3 13h0m13 2h0m-32 0h0m-43 6h0m45 7h0m-13 0h0m-5 12h0m31-11h0m-34 24h0m-45-54h0m38 65h0m-13 0h0m-10 7h0m11 7h0m-23-12h0m-13 0h0m11-13h0m-541-41h0m10 8h0m12 5h0m-4-15h0m-18 19h0m14 6h0m-22 4h0m6 12h0m0-52h0m28 39h0m-47 3h0m-139-9h0m4 12h0m0-24h0m0 37h0m12-5h0m8-9h0m-24-36h0m36 29h0m-46-20h0m130 106h0m-11-7h0m9-9h0m12-6h0m5 12h0m-37-4h0m-12 4h0m59 8h0m45 2h0m-13 2h0m-13-1h0m33 10h0m-24 4h0m-22-12h0m28 23h0m-29-36h0m-60 90h0m-11-7h0m12 20h0m-21-29h0m12-4h0m13 45h0m-12 5h0m15 8h0m13 2h0m-40-7h0m47 18h0m-19 0h0m31-4h0m-44 3h0m27 13h0m-18-81h0m-37 46h0m48-40h0m-58 49h0m14 6h0m45-23h0m-72 15h0m101 0h0m10-9h0m-26-10h0m38 7h0m-35-19h0m12-6h0m-25 6h0m57 28h0m-21-26h0m34 27h0m4 12h0m3 13h0m-51-43h0m36 36h0m-3 12h0m-98-59h0m86 64h0m-3-13h0m-95-48h0m-13 1h0m-13 4h0m64-43h0m96 64h0m-83-63h0m-89 37h0m7-11h0m177 32h0m6-11h0m-3-13h0m4-12h0m12 23h0m106-5h0m9-10h0m-20 17h0m-8-10h0m7-10h0m-4 32h0m4 13h0m31-34h0m13 0h0m8 10h0m11-8h0m-10 21h0m6-33h0m-10-9h0m-12-3h0m29 47h0m-6-51h0m8-11h0m-25 4h0m21 71h0m11-63h0m-21 70h0m31-62h0m-2-18h0m12-4h0m12-5h0m-101 89h0m76-93h0m30 17h0m-38-28h0m49 20h0m-62-20h0m-6 11h0m-13-2h0m-10-9h0m-45 95h0m-13-2h0m45 8h0m-45-21h0m-12-5h0m7 30h0m-12-5h0m167-93h0m-178 100h0m-9-10h0m-11-6h0m100-20h0m-87 47h0m-13 1h0m99-35h0m13-10h0m-6 21h0m28-108h0m-27 121h0m19-131h0m20 5h0m-25 9h0m-3 125h0m28-147h0m-26 159h0m28-172h0m-21 184h0m22-197h0m-8-10h0m-82 175h0m94-181h0m13 1h0m5 12h0m12-4h0m-15 17h0m-175 176h0m10 8h0m13-5h0m-20 15h0m154-72h0m11-7h0m-173 90h0m-2 12h0m171-84h0m129-45h0m12 6h0m2 12h0m-3 13h0m14-19h0m-17 32h0m-10-15h0m-11-26h0m45-2h0m-19 55h0m18-68h0m-51 4h0m-11 6h0m9-18h0m-17 29h0m4-30h0m-1 43h0m44 46h0m-59-55h0m0-13h0m23 32h0m-12 5h0m63 27h0m13-2h0m-57-19h0m-10 8h0m8 11h0m15-19h0m-14 32h0m12-19h0m-4 29h0m-40-98h0m77 61h0m3-13h0m-27 55h0m161-40h0m3 13h0m-4-26h0m-11-8h0m28 36h0m-18-45h0m25 56h0m10 8h0m-7-27h0m7 40h0m-3 13h0m16-13h0m-27 6h0m40-5h0m-53 5h0m7-54h0m-16 63h0m60-27h0m-56 6h0m-7-11h0m4 45h0m-12-3h0m-5-44h0m-7 40h0m36 13h0m13-1h0m-52-25h0m65 26h0m-75-34h0m82 23h0m-89-12h0m101 6h0m-94-30h0m-15 13h0m6-23h0m116 39h0m9-9h0m-131-41h0m121 63h0m-122-76h0m135 41h0m-7 47h0m12-5h0m-134-95h0m130 83h0m-141-91h0m-9-9h0m-6 11h0m61 34h0m-62-21h0m101 98h0m13 4h0m-57-93h0m-4-12h0m57 117h0m-10 8h0m-3 13h0m-5-23h0m-7-13h0m-13 3h0m45-73h0m16 61h0m-7-185h0m-12 5h0m-10 8h0m-11-8h0m0-13h0m-5-12h0m32 37h0m-39-11h0m38 24h0m-18-50h0m19 63h0m-13-16h0m-761 113h0m5 12h0m-17-7h0m-8-11h0m36 25h0m13-4h0m-15 16h0m-4 13h0m13 1h0m6-43h0m13-2h0m138 50h0m-8 10h0m6-23h0m-13-2h0m-6 26h0m12-38h0m8 48h0m-9 10h0m23-29h0m-9-31h0m8 54h0m13-28h0m-21 39h0m19-4h0m-24 16h0m35-42h0m226 14h0m-12 5h0m-9 9h0m28-25h0m-7-10h0m-34 32h0m40-44h0m-44 57h0m-12 5h0m67-31h0m2-33h0m1 12h0m-42 19h0m54-24h0m10-8h0m-57 20h0m-5-12h0m46 36h0m-59-32h0m203-6h0m-5-12h0m0 24h0m3-37h0m13 18h0m-1-23h0m8 9h0m-6-22h0m-6-12h0m16 4h0m-25 13h0m-11 35h0m48-44h0m-45-1h0m56 7h0m-22 5h0m-47-11h0m-2 49h0m59-30h0m-70 38h0m-11 6h0m87-33h0m7 11h0m-74 25h0m-8 10h0m12 5h0m-18 6h0m29 1h0m13-1h0m-55-2h0m67-3h0m-572 35h0m12-4h0m-25 1h0m-1-13h0m-11-7h0m31 8h0m-41 0h0m15-20h0m32 44h0m518 1h0m-9-9h0m20 16h0m-16-28h0m24 38h0m13-1h0m12-4h0m-51-1h0m23 19h0m-11 7h0m42-13h0m-61-2h0m-206-22h0m-3 13h0m13 2h0m-12 11h0m-11-24h0m-1 28h0m36-20h0m-49 23h0m62-23h0m95-550h0m-5-12h0m3-13h0m4-12h0m-17 11h0m6 35h0m9 9h0"/>
<path id="k2" transform="scale(.1)" d="M280 770h0m-7 11h0m3 12h0m-12 6h0m-13-1h0m30 7h0m9-43h0m-23 49h0m25 1h0m-9 10h0m-24-1h0m-11 7h0m38 6h0m-6 12h0m-13 2h0m-30-26h0m61 8h0m-64-21h0m-13 1h0m-13-3h0m14-10h0m-2 26h0m6-38h0m-31 23h0m43-17h0m-51 7h0m56-19h0m-50 42h0m0-35h0m13 39h0m49-41h0m-52-7h0m-2 60h0m6 11h0m6-79h0m-22 77h0m29 2h0m-26 10h0m29-97h0m1 100h0m5-23h0m-33 33h0m19 0h0m22-9h0m12-2h0m39-69h0m-38 56h0m51-59h0m59-118h0m-8-10h0m20 5h0m-15-17h0m-8 29h0m-4-33h0m37 13h0m-21-21h0m34 20h0m-61-5h0m-12-4h0m82 0h0m-83 13h0m52 18h0m2 13h0m19-52h0m-18 65h0m-13-4h0m-12-5h0m5 16h0m28 4h0m-44-13h0m-1-33h0m33 52h0m-34-6h0m41 18h0m-24-108h0m12 113h0m-41-20h0m3 12h0m39 21h0m-33-9h0m-18-8h0m27-2h0m70-93h0m-84 115h0m-12 2h0m103-106h0m-112 116h0m106-104h0m-97 113h0m-14 3h0m-2-23h0m3-13h0m-14 36h0m-2-24h0m145-102h0m-146 89h0m146-102h0m-3 26h0m-155 81h0m87-131h0m10 26h0m77-51h0m3-13h0m-12-3h0m-1 24h0m23-29h0m13 0h0m12-5h0m-6 17h0m13 3h0m-22 6h0m6 12h0m29-19h0m-16 21h0m8-46h0m-24-2h0m-45 27h0m32 15h0m-39-26h0m-13 4h0m15-17h0m36 52h0m-45-61h0m41 73h0m-54-69h0m67 72h0m12-5h0m-81-80h0m81 93h0m27-67h0m3-13h0m-122-3h0m3 13h0m130-16h0m-93 59h0m-13 5h0m118-70h0m6-12h0m-108 18h0m-23 74h0m-10-9h0m46-64h0m-1-13h0m-38 99h0m32-111h0m-42 120h0m46-132h0m111 17h0m-128-1h0m129-12h0m-135 76h0m-5-58h0m129-24h0m2-13h0m-17 13h0m13 2h0m-26-1h0m7-13h0m18 1h0m13-3h0m-17-9h0m-10-9h0m24 5h0m0-13h0m-16-3h0m5-11h0m-16 5h0m-10 8h0m38-19h0m-49 26h0m2 13h0m-14-7h0m-11-7h0m23 39h0m-9 9h0m-11 7h0m-14-48h0m-11 7h0m55-36h0m-38 87h0m10 9h0m22-107h0m11-7h0m10 8h0m-50 117h0m-7 11h0m-8-10h0m-10 8h0m-1 13h0m32-7h0m-36 19h0m37-6h0m-50 2h0m63 0h0m-74-5h0m-6-12h0m84 29h0m-70-27h0m-15 21h0m86-136h0m-13 145h0m-65-43h0m52 43h0m-6-12h0m-49-44h0m55 69h0m-14-15h0m146-163h0m5-12h0m9 9h0m-24-5h0m34-4h0m0-13h0m-42 27h0m17-26h0m-25 16h0m52-30h0m-39 12h0m-26 17h0m10-12h0m-8-10h0m-4-12h0m-5 45h0m11-56h0m-22 63h0m-13 2h0m107-55h0m-59-13h0m57 0h0m4 25h0m-55-13h0m45-24h0m18 7h0m-28 2h0m-12-3h0m-59 83h0m68-67h0m-3-28h0m-5 38h0m-61 70h0m3 13h0m-3 12h0m51-103h0m-36 86h0m10-9h0m-29 39h0m-11-8h0m-12-4h0m30 22h0m8-11h0m-44-23h0m-7 13h0m-3-21h0m30-7h0m-33 40h0m179-142h0m2-13h0m0-13h0m-9-9h0m-7 12h0m27 24h0m-16 12h0m28-15h0m7 11h0m-46 11h0m-12-41h0m68 22h0m-65 28h0m-10 8h0m4-71h0m-6-11h0m65 31h0m-70 40h0m28-31h0m-11-46h0m46 26h0m-76 50h0m-9 9h0m51-89h0m-63 84h0m52-93h0m24 7h0m-77 73h0m90-72h0m5 12h0m-106 53h0m105-77h0m10-9h0m12 0h0m-22-8h0m33 0h0m-14 20h0m-2-24h0m14-9h0m14 20h0m10-8h0m-10-9h0m0 30h0m22-26h0m-9 28h0m-25 2h0m8 10h0m15 1h0m5-10h0m-3-13h0m-9 17h0m-11 7h0m15-35h0m12-3h0m13-3h0m-52 36h0m-11-6h0m-12 7h0m2-16h0m30 6h0m3-13h0m-11-6h0m-20 1h0m46 38h0m-21-51h0m34 50h0m12 5h0m12 4h0m-50-69h0m31 76h0m-8 11h0m-11-93h0m7-11h0m32 32h0m-32 84h0m-12-5h0m15-124h0m-10 140h0m-19-121h0m12 132h0m36-120h0m13-3h0m-23-4h0m27-9h0m13 2h0m7-11h0m-37 10h0m39 10h0m7 11h0m-8 10h0m10-30h0m11 20h0m-29-13h0m-12 6h0m7 11h0m-18-18h0m-10 7h0m-13 4h0m9 10h0m45-2h0m-45-24h0m46-4h0m5 16h0m-16-24h0m-47 7h0m35-4h0m-24-4h0m8-10h0m10-9h0m24 68h0m-784-200h0m-2-13h0m-7 22h0m-5-24h0m27 15h0m-36-25h0m49 25h0m12-6h0m-68-30h0m81 33h0m-71 4h0m48-15h0m-71-20h0m-7-11h0m-8 10h0m100 17h0m-43 37h0m6 11h0m75 10h0m5 12h0m9 10h0m-8-33h0m20 28h0m-12 18h0m12-31h0m13 12h0m-5-22h0m18 22h0m-16-35h0m10 19h0m-15-31h0m33 44h0m-69 7h0m-1 13h0m81-28h0m-43-49h0m-44 39h0m-6 33h0m59-81h0m3 19h0m-64 75h0m-11-7h0m19 17h0m68-83h0m11 7h0m-109 52h0m1-13h0m97-22h0m-111 32h0m-12 6h0m20-28h0m-11 7h0m-10-8h0m168 19h0m-8-10h0m-10-8h0m-12 5h0m34-1h0m-44-7h0m-4-13h0m-13 1h0m9-13h0m-21 18h0m8-21h0m25 0h0m-37 4h0m27-14h0m1-13h0m-39 20h0m52-22h0m-47 10h0m-13-1h0m-3 20h0m75-25h0m2 13h0m13 0h0m-81 21h0m32 15h0m56-25h0m-50 37h0m18-21h0m44-13h0m-35 4h0m44 6h0m37 103h0m5-12h0m6-11h0m13 3h0m5 12h0m-42 5h0m-8 10h0m47-2h0m-10-8h0m23 11h0m-1 13h0m-71-18h0m62 27h0m5 12h0m-65-52h0m-2-13h0m-157 43h0m12 4h0m-24 1h0m-9 9h0m141 26h0m-5-12h0m-8-10h0m-3 18h0m29 6h0m-6-20h0m-147 138h0m7 11h0m-6 12h0m18-6h0m3 12h0m6-21h0m12-7h0m7-10h0m-13 43h0m-17-33h0m28-23h0m-6 44h0m-18-33h0m32-21h0m-50 19h0m-7-11h0m15 1h0m33-18h0m-61 17h0m-13 3h0m75-33h0m-85 25h0m-5-12h0m14 33h0m81-58h0m-43 31h0m55 13h0m-104 20h0m6 11h0m-9-24h0m119-13h0m-92 18h0m25 44h0m-28-31h0m23 42h0m-4 13h0m14-6h0m-23-6h0m2 22h0m-10-12h0m42 3h0m9 10h0m-59-2h0m-13 0h0m31-34h0m-44 36h0m30-53h0m-27 41h0m-2-13h0m-13-2h0m-1-13h0m75 37h0m-77-50h0m15 13h0m97 45h0m6-46h0m-1 34h0m-6 25h0m4-38h0m14 11h0m-30 33h0m10 9h0m18-58h0m-11 69h0m6 11h0m-12 6h0m1 13h0m-11 7h0m-3-21h0m-26-51h0m53 64h0m-34-25h0m40 37h0m7-15h0m-109-118h0m210 29h0m-1 13h0m-11-18h0m3 29h0m21-12h0m-34-25h0m11 49h0m-21-58h0m54 42h0m-55-26h0m-1 13h0m69 11h0m-14 15h0m-25 14h0m-27-27h0m36 17h0m-16 21h0m52-51h0m-73 26h0m84-33h0m-96 16h0m108-10h0m13-2h0m12 4h0m-108 5h0m91-21h0m30 13h0m-9 16h0m13-1h0m-25-36h0m3-13h0m-104 95h0m-15-21h0m-12-3h0m-9-9h0m-13-2h0m33 27h0m-35-40h0m22 40h0m-34-46h0m-5-12h0m-10-7h0m-2-13h0m13 3h0m129 46h0m8 10h0m-6 11h0m-129-80h0m116 79h0m-103-80h0m-23-8h0m30 19h0m-27-31h0m26 44h0m5 12h0m-18-59h0m-25-3h0m-12-4h0m37-6h0m99 124h0m-143-130h0m15 2h0m138 136h0m7 11h0m-9 9h0m-151-171h0m149 184h0m24-22h0m-32 1h0m47-96h0m-71 2h0m60 80h0m-49 19h0m-14-112h0m73 101h0m-1 13h0m-66-125h0m64 138h0m-64-151h0m-7-11h0m18 4h0m40 160h0m-3 12h0m-123-191h0m228-40h0m5 12h0m-17-17h0m28 10h0m-1 15h0m-18 3h0m-21-33h0m4-12h0m29 54h0m-23-15h0m36 18h0m-49-16h0m37 131h0m-12 5h0m6 12h0m5-30h0m-1 42h0m-19-33h0m-8 10h0m129-206h0m-9-10h0m-11 6h0m13 15h0m-26-11h0m14 15h0m-9-30h0m-17 20h0m-13-1h0m1 13h0m16 1h0m19 10h0m13-2h0m-53-35h0m45-13h0m-9-10h0m-39 11h0m15 7h0m5-12h0m31-11h0m-45 4h0m1-13h0m13 1h0m-4-12h0m52 80h0m1 13h0m0 13h0m-40-107h0m32 117h0m20-27h0m4-13h0m-33 20h0m-11-92h0m3 102h0m-1 13h0m-24-32h0m4 12h0m6 12h0m0 13h0m10 8h0m-28-27h0m18 36h0m-12 6h0m-16-50h0m5 20h0m-7 10h0m65-107h0m-50 107h0m61-115h0m8-10h0m2-13h0m-99 136h0m-13-3h0m115-145h0m3-13h0m-126 168h0m135-177h0m-50 40h0m30-38h0m3-12h0m-39 39h0m18 6h0m23-93h0m-1 13h0m-6-24h0m18 5h0m-13 32h0m-13-26h0m20 37h0m12-4h0m-43-27h0m26-28h0m-5-11h0m29 77h0m-41-28h0m6-61h0m12-3h0m20 69h0m-44-72h0m50 60h0m-45-41h0m-5-32h0m-12-5h0m4 34h0m-8-22h0m-4 18h0m-9-10h0m7 23h0m105-34h0m3 13h0m-14-6h0m26 11h0m-26 2h0m-13-3h0m8 15h0m44-10h0m-54 19h0m63-11h0m1-16h0m-30-24h0m-44 43h0m86-1h0m1 13h0m4-25h0m-17 25h0m-18-52h0m4-12h0m2 58h0m-58-32h0m-13 2h0m64 41h0m-8 10h0m-49-65h0m23 54h0m12 3h0m-48-59h0m4-12h0m47 58h0m-55-69h0m7-10h0m-15 1h0m0 20h0m4-33h0m-16 7h0m9 38h0m-11-7h0m-9-25h0m-5 13h0m171 106h0m-7-11h0m15 22h0m-27-27h0m-1-13h0m-7-11h0m-8 10h0m30 6h0m13 4h0m7-10h0m9 9h0m1-17h0m11 14h0m-31-15h0m13-10h0m-23 2h0m33-11h0m-56 5h0m28-6h0m-37-3h0m-8 24h0m12-37h0m-16 17h0m10-28h0m80 50h0m-63-32h0m-24-29h0m-4 18h0m40 6h0m-52 0h0m30 58h0m132-45h0m13 0h0m2 13h0m1 12h0m-10 9h0m8 10h0m12-10h0m5 12h0m0 13h0m-28-42h0m27 5h0m-11 42h0m-8 11h0m32-52h0m-21 59h0m28-49h0m-24-32h0m18 46h0m17-7h0m12 6h0m12-4h0m5 12h0m-23-25h0m24 38h0m13 4h0m-39-55h0m-24 50h0m8 11h0m2 12h0m4 13h0m-64-112h0m40-1h0m-9-9h0m-7-11h0m-9-9h0m31 18h0m-43-24h0m14 33h0m-5-43h0m45 26h0m-57-3h0m9 11h0m1-47h0m47 26h0m-45-38h0m-13 3h0m50 25h0m-28-38h0m-4-12h0m84 134h0m-88 33h0m-8-11h0m-5 13h0m47 24h0m-57-16h0m80-102h0m-69 108h0m-23-11h0m96 40h0m8 11h0m-87-28h0m71 27h0m-12-3h0m26 17h0m-39-21h0m-11-6h0m-41-46h0m-11-8h0m61 73h0m-14-7h0m34 2h0m-9-9h0m3-13h0m-5-12h0m-1-13h0m6-12h0m13 38h0m-3-30h0m-2-17h0m4 30h0m9 27h0m-34-9h0m36 21h0m12-5h0m-55-5h0m64 15h0m-72-4h0m66-18h0m-8-10h0m26 37h0m-83 4h0m74-41h0m-10-11h0m17 21h0m-9-31h0m-13-4h0m20-7h0m-66 71h0m11 7h0m13 3h0m11-92h0m-13 105h0m14-118h0m-7 128h0m19-134h0m-98 468h0m3-13h0m12-4h0m-19 29h0m-11-7h0m36-11h0m9 9h0m13 3h0m-58-14h0m61 27h0m12 6h0m-13-32h0m-72-6h0m-8-10h0m73 6h0m11-7h0m8 11h0m1 13h0m11 7h0m-9 31h0m-108-65h0m119 47h0m-129-55h0m131 73h0m2 13h0m-137-98h0m124 100h0m1 13h0m-121-125h0m-13-3h0m121 129h0m-98-118h0m29 28h0m57 96h0m-59-109h0m61 136h0m7-11h0m-8 24h0m15-35h0m-2 38h0m-17-33h0m-12 5h0m-13-3h0m49 20h0m-61-25h0m-3 13h0m66 0h0m-71 12h0m-8-13h0m15 24h0m41 10h0m-2 13h0m-10 8h0m0-35h0m-6 24h0m-6 16h0m2-33h0m-14 28h0m-6-12h0m4-68h0m8-9h0m12-7h0m-7 114h0m11-102h0m3-22h0m36 82h0m17-163h0m-3-13h0m-13-1h0m10 25h0m-8-37h0m-5 36h0m-13-2h0m20-47h0m13 2h0m-2-13h0m12-2h0m8 10h0m-739 252h0m10 8h0m-23-6h0m36 5h0m7-11h0m-48 18h0m23 6h0m38-22h0m-54 27h0m66-21h0m-14-19h0m19 31h0m6-18h0m-19 21h0m10-31h0m15 33h0m6-29h0m0 40h0m-1-23h0m-75-22h0m-11-7h0m24 9h0m-11-15h0m-25 11h0m107 57h0m-114-68h0m126 74h0m-135-84h0m131 68h0m-140-76h0m154 100h0m-153-113h0m134 42h0m-9-9h0m-137-39h0m67 26h0m11 7h0m12-2h0m-103-30h0m75 13h0m-86-19h0m13 19h0m-26-19h0m9-13h0m154 52h0m-135-7h0m-31-19h0m211 123h0m-58-100h0m-160-44h0m154 33h0m7-11h0m-47 86h0m-123-117h0m117 128h0m-124-139h0m135 146h0m-20 3h0m-3 12h0m-2 13h0m-11-16h0m-12 5h0m37 2h0m-10 22h0m21-15h0m-5 12h0m97-10h0m-95 23h0m9 10h0m2-21h0m13-2h0m-72-9h0m78 20h0m9 10h0m8 10h0m-18-2h0m19-18h0m-123-122h0m120 110h0m43-27h0m-5-12h0m-11 8h0m28-2h0m-21 15h0m33-19h0m8 11h0m-11-23h0m-2-13h0m18 22h0m-29-9h0m24-6h0m238-62h0m6-12h0m-4 25h0m11-10h0m-24 3h0m33-11h0m6 12h0m-3-25h0m-6 35h0m6 11h0m12-12h0m11-8h0m-69-10h0m47 43h0m16-13h0m-28 19h0m-8-72h0m-13-3h0m7-11h0m-9 24h0m15 72h0m0-108h0m-13 105h0m-9-9h0m-8-10h0m1 21h0m113 4h0m-6 11h0m-11 8h0m5-24h0m9 29h0m-21-24h0m25 36h0m-13-1h0m-12-48h0m5-12h0m-2 70h0m-16-54h0m15-29h0m31 84h0m-23-94h0m31 83h0m-77 5h0m-3 13h0m-6-23h0m21 15h0m-25 15h0m35-7h0m-18-27h0m25 16h0m-46-2h0m157-20h0m12-4h0m13 0h0m-20-11h0m12-4h0"/>
</defs>
<text x="0.30" y="15.40" font-size="11.3" font-weight="bold" fill="#0d0d0d" stroke="#0d0d0d" stroke-width="0.22">A</text>
<text x="94.00" y="15.60" font-size="10.6" fill="#0d0d0d" textLength="141.5" lengthAdjust="spacingAndGlyphs" stroke="#0d0d0d" stroke-width="0.22">hItln2 (UC/CD conditions)</text>
<line x1="79.50" y1="18.90" x2="79.50" y2="133.70" stroke="#2a2a2a" stroke-width="0.9" />
<line x1="79.10" y1="104.80" x2="239.70" y2="104.80" stroke="#2a2a2a" stroke-width="0.9" />
<line x1="75.20" y1="19.30" x2="79.50" y2="19.30" stroke="#2a2a2a" stroke-width="0.9" />
<text x="70.30" y="23.30" font-size="10.8" text-anchor="end" fill="#0d0d0d" stroke="#0d0d0d" stroke-width="0.22">0.6</text>
<line x1="77.00" y1="33.55" x2="79.50" y2="33.55" stroke="#2a2a2a" stroke-width="0.9" />
<line x1="75.20" y1="47.80" x2="79.50" y2="47.80" stroke="#2a2a2a" stroke-width="0.9" />
<text x="70.30" y="51.80" font-size="10.8" text-anchor="end" fill="#0d0d0d" stroke="#0d0d0d" stroke-width="0.22">0.4</text>
<line x1="77.00" y1="62.05" x2="79.50" y2="62.05" stroke="#2a2a2a" stroke-width="0.9" />
<line x1="75.20" y1="76.30" x2="79.50" y2="76.30" stroke="#2a2a2a" stroke-width="0.9" />
<text x="70.30" y="80.30" font-size="10.8" text-anchor="end" fill="#0d0d0d" stroke="#0d0d0d" stroke-width="0.22">0.2</text>
<line x1="77.00" y1="90.55" x2="79.50" y2="90.55" stroke="#2a2a2a" stroke-width="0.9" />
<line x1="75.20" y1="104.80" x2="79.50" y2="104.80" stroke="#2a2a2a" stroke-width="0.9" />
<text x="70.30" y="108.80" font-size="10.8" text-anchor="end" fill="#0d0d0d" stroke="#0d0d0d" stroke-width="0.22">0.0</text>
<line x1="77.00" y1="119.05" x2="79.50" y2="119.05" stroke="#2a2a2a" stroke-width="0.9" />
<line x1="75.20" y1="133.30" x2="79.50" y2="133.30" stroke="#2a2a2a" stroke-width="0.9" />
<text x="70.30" y="137.30" font-size="10.8" text-anchor="end" fill="#0d0d0d" stroke="#0d0d0d" stroke-width="0.22">-0.2</text>
<line x1="98.25" y1="104.80" x2="98.25" y2="107.00" stroke="#2a2a2a" stroke-width="0.9" />
<line x1="118.40" y1="104.80" x2="118.40" y2="108.40" stroke="#2a2a2a" stroke-width="0.9" />
<text x="118.40" y="132.00" font-size="10.8" text-anchor="middle" fill="#0d0d0d" stroke="#0d0d0d" stroke-width="0.22">500</text>
<line x1="138.55" y1="104.80" x2="138.55" y2="107.00" stroke="#2a2a2a" stroke-width="0.9" />
<line x1="158.70" y1="104.80" x2="158.70" y2="108.40" stroke="#2a2a2a" stroke-width="0.9" />
<text x="158.70" y="132.00" font-size="10.8" text-anchor="middle" fill="#0d0d0d" stroke="#0d0d0d" stroke-width="0.22">1000</text>
<line x1="178.85" y1="104.80" x2="178.85" y2="107.00" stroke="#2a2a2a" stroke-width="0.9" />
<line x1="199.00" y1="104.80" x2="199.00" y2="108.40" stroke="#2a2a2a" stroke-width="0.9" />
<text x="199.00" y="132.00" font-size="10.8" text-anchor="middle" fill="#0d0d0d" stroke="#0d0d0d" stroke-width="0.22">1500</text>
<line x1="219.15" y1="104.80" x2="219.15" y2="107.00" stroke="#2a2a2a" stroke-width="0.9" />
<line x1="239.30" y1="104.80" x2="239.30" y2="108.40" stroke="#2a2a2a" stroke-width="0.9" />
<text x="239.30" y="132.00" font-size="10.8" text-anchor="middle" fill="#0d0d0d" stroke="#0d0d0d" stroke-width="0.22">2000</text>
<text x="161.00" y="146.00" font-size="10.8" text-anchor="middle" fill="#0d0d0d" stroke="#0d0d0d" stroke-width="0.22">Time (s)</text>
<text x="48.40" y="75.20" font-size="11" text-anchor="middle" fill="#0d0d0d" transform="rotate(-90 48.40 75.20)" textLength="75.8" lengthAdjust="spacingAndGlyphs" stroke="#0d0d0d" stroke-width="0.22">Response (nm)</text>
<polyline points="102.12,109.08 102.28,91.26 103.09,89.27 103.89,87.35 104.70,85.52 105.50,83.76 106.31,82.07 107.12,80.45 107.92,78.89 108.73,77.40 109.53,75.97 110.34,74.60 111.15,73.28 111.95,72.02 112.76,70.81 113.56,69.65 114.37,68.54 115.18,67.47 115.98,66.44 116.79,65.46 117.59,64.52 118.40,63.61 119.21,62.75 120.01,61.91 120.82,61.12 121.62,60.35 122.43,59.62 123.24,58.91 124.04,58.24 124.85,57.59 125.65,56.97 126.46,56.37 127.27,55.80 128.07,55.25 128.88,54.73 129.68,54.22 130.49,53.74 131.30,53.27 132.10,52.83 132.91,52.40 133.71,51.99 134.52,51.60 135.33,51.22 136.13,50.86 136.94,50.51 137.74,50.18 138.55,49.86 139.36,49.55 140.16,49.26 140.97,48.98 141.77,48.71 142.58,48.45 143.39,48.20 144.19,47.96 145.00,47.73 145.80,47.52 146.61,47.30 147.42,47.10 148.22,46.91 149.03,46.72 149.83,46.55 150.64,46.37 151.45,50.15 152.25,53.21 153.06,55.72 153.86,57.79 154.67,59.53 155.48,60.99 156.28,62.24 157.09,63.33 157.89,64.29 158.70,65.14 159.51,65.91 160.31,66.60 161.12,67.25 161.92,67.85 162.73,68.42 163.54,68.95 164.34,69.46 165.15,69.94 165.95,70.41 166.76,70.86 167.57,71.30 168.37,71.73 169.18,72.14 169.98,72.54 170.79,72.93 171.60,73.32 172.40,73.69 173.21,74.05 174.01,74.41 174.82,74.76 175.63,75.10 176.43,75.44 177.24,75.77 178.04,76.09 178.85,76.40 179.66,76.71 180.46,77.02 181.27,77.31 182.07,77.60 182.88,77.89 183.69,78.17 184.49,78.44 185.30,78.71 186.10,78.97 186.91,79.23 187.72,79.48 188.52,79.73 189.33,79.97 190.13,80.21 190.94,80.44 191.75,80.67 192.55,80.89 193.36,81.11 194.16,81.33 194.97,81.54 195.78,81.75 196.58,81.95 197.39,82.15 198.19,82.34 199.00,82.53 199.81,82.72 200.61,82.90" fill="none" stroke="#1a6fb5" stroke-width="1.9" stroke-linejoin="round" />
<polyline points="102.12,110.50 102.28,90.55 103.09,88.82 103.89,87.56 104.70,86.62 105.50,85.90 106.31,85.34 107.12,84.87 107.92,84.48 108.73,84.13 109.53,83.83 110.34,83.55 111.15,83.29 111.95,83.05 112.76,82.82 113.56,82.60 114.37,82.39 115.18,82.19 115.98,82.00 116.79,81.82 117.59,81.64 118.40,81.46 119.21,81.30 120.01,81.14 120.82,80.98 121.62,80.83 122.43,80.68 123.24,80.54 124.04,80.41 124.85,80.28 125.65,80.15 126.46,80.02 127.27,79.91 128.07,79.79 128.88,79.68 129.68,79.57 130.49,79.47 131.30,79.37 132.10,79.27 132.91,79.17 133.71,79.08 134.52,78.99 135.33,78.91 136.13,78.83 136.94,78.75 137.74,78.67 138.55,78.59 139.36,78.52 140.16,78.45 140.97,78.38 141.77,78.32 142.58,78.25 143.39,78.19 144.19,78.13 145.00,78.08 145.80,78.02 146.61,77.97 147.42,77.92 148.22,77.87 149.03,77.82 149.83,77.77 150.64,77.73 151.45,79.61 152.25,81.14 153.06,82.40 153.86,83.43 154.67,84.30 155.48,85.03 156.28,85.66 157.09,86.20 157.89,86.68 158.70,87.11 159.51,87.49 160.31,87.84 161.12,88.16 161.92,88.46 162.73,88.75 163.54,89.01 164.34,89.27 165.15,89.51 165.95,89.74 166.76,89.97 167.57,90.19 168.37,90.40 169.18,90.61 169.98,90.81 170.79,91.00 171.60,91.20 172.40,91.38 173.21,91.56 174.01,91.74 174.82,91.92 175.63,92.09 176.43,92.26 177.24,92.42 178.04,92.58 178.85,92.74 179.66,92.89 180.46,93.05 181.27,93.19 182.07,93.34 182.88,93.48 183.69,93.62 184.49,93.76 185.30,93.89 186.10,94.02 186.91,94.15 187.72,94.28 188.52,94.40 189.33,94.52 190.13,94.64 190.94,94.76 191.75,94.87 192.55,94.98 193.36,95.09 194.16,95.20 194.97,95.31 195.78,95.41 196.58,95.51 197.39,95.61 198.19,95.71 199.00,95.80 199.81,95.90 200.61,95.99" fill="none" stroke="#9e1b1f" stroke-width="1.9" stroke-linejoin="round" />
<polyline points="102.28,101.05 102.68,101.39 103.09,101.38 103.49,101.67 103.89,101.80 104.29,101.53 104.70,101.61 105.10,102.30 105.50,102.02 105.91,102.12 106.31,102.77 106.71,102.52 107.12,102.90 107.52,102.76 107.92,103.00 108.32,102.77 108.73,103.23 109.13,103.51 109.53,103.39 109.94,103.66 110.34,103.73 110.74,103.43 111.15,104.03 111.55,104.03 111.95,103.95 112.35,103.88 112.76,104.58 113.16,104.42 113.56,104.72 113.97,104.95 114.37,104.95 114.77,105.21 115.18,104.96 115.58,105.37 115.98,105.24 116.38,105.70 116.79,105.78 117.19,105.35 117.59,105.50 118.00,105.67 118.40,106.31 118.80,106.06 119.21,106.31 119.61,106.20 120.01,106.47 120.41,106.50 120.82,106.60 121.22,106.88 121.62,107.00 122.03,107.34 122.43,107.30 122.83,107.59 123.24,107.66 123.64,107.87 124.04,107.77 124.44,107.53 124.85,108.14 125.25,108.33 125.65,108.41 126.06,108.29 126.46,108.51 126.86,108.28 127.27,108.83 127.67,108.77 128.07,108.69 128.47,108.65 128.88,109.32 129.28,109.54 129.68,109.02 130.09,109.64 130.49,109.49 130.89,109.42 131.30,109.64 131.70,110.09 132.10,110.29 132.50,109.82 132.91,110.34 133.31,110.06 133.71,110.65 134.12,110.50 134.52,111.00 134.92,111.19 135.33,110.98 135.73,111.44 136.13,111.08 136.53,111.04 136.94,111.52 137.34,111.24 137.74,111.48 138.15,111.74 138.55,112.00 138.95,111.80 139.36,111.84 139.76,112.54 140.16,112.27 140.56,112.84 140.97,112.92 141.37,112.67 141.77,112.85 142.18,113.01 142.58,113.21 142.98,113.30 143.39,113.39 143.79,113.55 144.19,113.90 144.59,113.71 145.00,113.78 145.40,114.10 145.80,113.88 146.21,114.04 146.61,114.63 147.01,114.43 147.42,114.57 147.82,114.31 148.22,114.72 148.62,114.95 149.03,114.68 149.43,115.21 149.83,115.34 150.24,115.06 150.64,115.58 151.04,116.41 151.45,117.51 151.85,118.23 152.25,118.13 152.66,117.82 153.06,117.01 153.46,116.76 153.86,116.93 154.27,116.89 154.67,116.18 155.07,116.12 155.48,116.03 155.88,115.67 156.28,115.55 156.69,115.37 157.09,115.27 157.49,115.31 157.89,115.00 158.30,114.95 158.70,115.13 159.10,114.52 159.51,114.82 159.91,114.87 160.31,114.51 160.72,114.38 161.12,114.74 161.52,114.29 161.92,114.21 162.33,114.34 162.73,114.48 163.13,114.03 163.54,114.15 163.94,114.13 164.34,114.45 164.75,114.15 165.15,114.42 165.55,113.92 165.95,114.02 166.36,114.22 166.76,114.37 167.16,114.05 167.57,113.88 167.97,113.80 168.37,114.07 168.78,113.83 169.18,114.25 169.58,114.26 169.98,113.80 170.39,113.86 170.79,114.23 171.19,114.11 171.60,114.22 172.00,113.89 172.40,113.74 172.81,113.85 173.21,114.20 173.61,113.83 174.01,113.88 174.42,113.93 174.82,113.93 175.22,113.92 175.63,114.28 176.03,113.75 176.43,113.64 176.83,114.30 177.24,114.26 177.64,114.33 178.04,113.95 178.45,114.31 178.85,114.29 179.25,113.80 179.66,114.17 180.06,114.23 180.46,114.11 180.87,114.02 181.27,113.86 181.67,113.90 182.07,113.82 182.48,113.71 182.88,114.08 183.28,113.87 183.69,114.23 184.09,113.70 184.49,114.30 184.89,114.16 185.30,114.32 185.70,114.31 186.10,114.31 186.51,114.09 186.91,113.70 187.31,114.21 187.72,113.81 188.12,113.90 188.52,114.16 188.93,114.07 189.33,113.99 189.73,114.36 190.13,114.14 190.54,113.95 190.94,113.89 191.34,114.32 191.75,114.05 192.15,114.27 192.55,113.97 192.95,113.87 193.36,114.10 193.76,114.31 194.16,113.86 194.57,114.29 194.97,114.39 195.37,114.31 195.78,114.32 196.18,113.76 196.58,114.19 196.99,114.36 197.39,113.79 197.79,113.95 198.19,113.95 198.60,114.14 199.00,114.07 199.40,114.10 199.81,114.32 200.21,113.78 200.61,113.82" fill="none" stroke="#0a0a0a" stroke-width="2.2" stroke-linejoin="round" />
<line x1="203.80" y1="29.80" x2="217.30" y2="29.80" stroke="#1b75bb" stroke-width="1.5" />
<line x1="203.80" y1="43.90" x2="217.30" y2="43.90" stroke="#a81e22" stroke-width="1.5" />
<line x1="203.80" y1="58.00" x2="217.30" y2="58.00" stroke="#0a0a0a" stroke-width="1.5" />
<text x="220.20" y="32.70" font-size="10.9" fill="#0d0d0d" textLength="71.4" lengthAdjust="spacingAndGlyphs" stroke="#0d0d0d" stroke-width="0.22">6-SO<tspan font-size="6.5" dy="2.6">3</tspan><tspan dy="-2.6"> LacNAc</tspan></text>
<text x="220.20" y="47.10" font-size="10.9" fill="#0d0d0d" stroke="#0d0d0d" stroke-width="0.22">Gal<tspan font-style="italic">p</tspan></text>
<text x="220.20" y="61.20" font-size="10.9" fill="#0d0d0d" stroke="#0d0d0d" stroke-width="0.22">Gal<tspan font-style="italic">f</tspan></text>
<text x="346.80" y="15.30" font-size="11.3" font-weight="bold" fill="#0d0d0d" stroke="#0d0d0d" stroke-width="0.22">B</text>
<text x="367.20" y="15.30" font-size="11.3" fill="#0d0d0d" textLength="126.0" lengthAdjust="spacingAndGlyphs" stroke="#0d0d0d" stroke-width="0.22">Human Fecal Microbes</text>
<path d="M369.60 25.00V164.80H676.00" fill="none" stroke="#1c1c1c" stroke-width="2.6" stroke-linejoin="miter"/>
<path d="M369.60 18.00l-3.9 9.2q3.9 -1.6 7.8 0z" fill="#1c1c1c"/>
<path d="M683.00 164.80l-9.2 -3.7q1.6 3.7 0 7.4z" fill="#1c1c1c"/>
<text x="360.30" y="90.30" font-size="10.5" text-anchor="middle" fill="#0d0d0d" transform="rotate(-90 360.30 90.30)" stroke="#0d0d0d" stroke-width="0.22">hItln2</text>
<text x="507.80" y="181.00" font-size="10.8" fill="#0d0d0d" textLength="33.8" lengthAdjust="spacingAndGlyphs" stroke="#0d0d0d" stroke-width="0.22">SSC-A</text>
<text x="412.30" y="41.60" font-size="10.5" fill="#0d0d0d" textLength="46.7" lengthAdjust="spacingAndGlyphs" stroke="#0d0d0d" stroke-width="0.22">No Lectin</text>
<text x="505.40" y="21.90" font-size="10.3" fill="#0d0d0d" textLength="155.6" lengthAdjust="spacingAndGlyphs" stroke="#0d0d0d" stroke-width="0.22">5 µM hItln2 (UC/CD conditions)</text>
<line x1="493.20" y1="27.70" x2="680.80" y2="27.70" stroke="#444" stroke-width="1.0" />
<text x="517.70" y="40.90" font-size="10.5" fill="#0d0d0d" stroke="#0d0d0d" stroke-width="0.22">+ CaCl<tspan font-size="6.3" dy="2.4">2</tspan></text>
<text x="618.70" y="40.90" font-size="10.5" fill="#0d0d0d" textLength="39.2" lengthAdjust="spacingAndGlyphs" stroke="#0d0d0d" stroke-width="0.22">+ EDTA</text>
<rect x="395.20" y="49.80" width="88.30" height="88.30" fill="none" stroke="#222" stroke-width="1.0" />
<line x1="393.00" y1="58.40" x2="395.20" y2="58.40" stroke="#222" stroke-width="0.8" />
<line x1="393.00" y1="80.30" x2="395.20" y2="80.30" stroke="#222" stroke-width="0.8" />
<line x1="393.00" y1="104.00" x2="395.20" y2="104.00" stroke="#222" stroke-width="0.8" />
<line x1="394.00" y1="73.71" x2="395.20" y2="73.71" stroke="#222" stroke-width="0.5" />
<line x1="394.00" y1="69.85" x2="395.20" y2="69.85" stroke="#222" stroke-width="0.5" />
<line x1="394.00" y1="64.99" x2="395.20" y2="64.99" stroke="#222" stroke-width="0.5" />
<line x1="394.00" y1="61.79" x2="395.20" y2="61.79" stroke="#222" stroke-width="0.5" />
<line x1="394.00" y1="96.87" x2="395.20" y2="96.87" stroke="#222" stroke-width="0.5" />
<line x1="394.00" y1="92.69" x2="395.20" y2="92.69" stroke="#222" stroke-width="0.5" />
<line x1="394.00" y1="87.43" x2="395.20" y2="87.43" stroke="#222" stroke-width="0.5" />
<line x1="394.00" y1="83.97" x2="395.20" y2="83.97" stroke="#222" stroke-width="0.5" />
<line x1="393.00" y1="124.50" x2="395.20" y2="124.50" stroke="#222" stroke-width="0.8" />
<path d="M395.0 119.5v10" stroke="#222" stroke-width="1.6" stroke-dasharray="0.6 0.5" fill="none"/>
<line x1="395.50" y1="138.10" x2="395.50" y2="140.10" stroke="#222" stroke-width="0.8" />
<line x1="400.78" y1="138.10" x2="400.78" y2="139.20" stroke="#222" stroke-width="0.5" />
<line x1="403.87" y1="138.10" x2="403.87" y2="139.20" stroke="#222" stroke-width="0.5" />
<line x1="407.77" y1="138.10" x2="407.77" y2="139.20" stroke="#222" stroke-width="0.5" />
<line x1="410.33" y1="138.10" x2="410.33" y2="139.20" stroke="#222" stroke-width="0.5" />
<line x1="413.05" y1="138.10" x2="413.05" y2="140.10" stroke="#222" stroke-width="0.8" />
<line x1="418.33" y1="138.10" x2="418.33" y2="139.20" stroke="#222" stroke-width="0.5" />
<line x1="421.42" y1="138.10" x2="421.42" y2="139.20" stroke="#222" stroke-width="0.5" />
<line x1="425.32" y1="138.10" x2="425.32" y2="139.20" stroke="#222" stroke-width="0.5" />
<line x1="427.88" y1="138.10" x2="427.88" y2="139.20" stroke="#222" stroke-width="0.5" />
<line x1="430.60" y1="138.10" x2="430.60" y2="140.10" stroke="#222" stroke-width="0.8" />
<line x1="435.88" y1="138.10" x2="435.88" y2="139.20" stroke="#222" stroke-width="0.5" />
<line x1="438.97" y1="138.10" x2="438.97" y2="139.20" stroke="#222" stroke-width="0.5" />
<line x1="442.87" y1="138.10" x2="442.87" y2="139.20" stroke="#222" stroke-width="0.5" />
<line x1="445.43" y1="138.10" x2="445.43" y2="139.20" stroke="#222" stroke-width="0.5" />
<line x1="448.15" y1="138.10" x2="448.15" y2="140.10" stroke="#222" stroke-width="0.8" />
<line x1="453.43" y1="138.10" x2="453.43" y2="139.20" stroke="#222" stroke-width="0.5" />
<line x1="456.52" y1="138.10" x2="456.52" y2="139.20" stroke="#222" stroke-width="0.5" />
<line x1="460.42" y1="138.10" x2="460.42" y2="139.20" stroke="#222" stroke-width="0.5" />
<line x1="462.98" y1="138.10" x2="462.98" y2="139.20" stroke="#222" stroke-width="0.5" />
<line x1="465.70" y1="138.10" x2="465.70" y2="140.10" stroke="#222" stroke-width="0.8" />
<line x1="470.98" y1="138.10" x2="470.98" y2="139.20" stroke="#222" stroke-width="0.5" />
<line x1="474.07" y1="138.10" x2="474.07" y2="139.20" stroke="#222" stroke-width="0.5" />
<line x1="477.97" y1="138.10" x2="477.97" y2="139.20" stroke="#222" stroke-width="0.5" />
<line x1="480.53" y1="138.10" x2="480.53" y2="139.20" stroke="#222" stroke-width="0.5" />
<line x1="483.25" y1="138.10" x2="483.25" y2="140.10" stroke="#222" stroke-width="0.8" />
<rect x="495.20" y="49.00" width="88.50" height="89.50" fill="none" stroke="#222" stroke-width="1.0" />
<line x1="493.00" y1="58.40" x2="495.20" y2="58.40" stroke="#222" stroke-width="0.8" />
<line x1="493.00" y1="80.30" x2="495.20" y2="80.30" stroke="#222" stroke-width="0.8" />
<line x1="493.00" y1="104.00" x2="495.20" y2="104.00" stroke="#222" stroke-width="0.8" />
<line x1="494.00" y1="73.71" x2="495.20" y2="73.71" stroke="#222" stroke-width="0.5" />
<line x1="494.00" y1="69.85" x2="495.20" y2="69.85" stroke="#222" stroke-width="0.5" />
<line x1="494.00" y1="64.99" x2="495.20" y2="64.99" stroke="#222" stroke-width="0.5" />
<line x1="494.00" y1="61.79" x2="495.20" y2="61.79" stroke="#222" stroke-width="0.5" />
<line x1="494.00" y1="96.87" x2="495.20" y2="96.87" stroke="#222" stroke-width="0.5" />
<line x1="494.00" y1="92.69" x2="495.20" y2="92.69" stroke="#222" stroke-width="0.5" />
<line x1="494.00" y1="87.43" x2="495.20" y2="87.43" stroke="#222" stroke-width="0.5" />
<line x1="494.00" y1="83.97" x2="495.20" y2="83.97" stroke="#222" stroke-width="0.5" />
<line x1="493.00" y1="124.50" x2="495.20" y2="124.50" stroke="#222" stroke-width="0.8" />
<path d="M495.0 119.5v10" stroke="#222" stroke-width="1.6" stroke-dasharray="0.6 0.5" fill="none"/>
<line x1="495.50" y1="138.50" x2="495.50" y2="140.50" stroke="#222" stroke-width="0.8" />
<line x1="500.78" y1="138.50" x2="500.78" y2="139.60" stroke="#222" stroke-width="0.5" />
<line x1="503.87" y1="138.50" x2="503.87" y2="139.60" stroke="#222" stroke-width="0.5" />
<line x1="507.77" y1="138.50" x2="507.77" y2="139.60" stroke="#222" stroke-width="0.5" />
<line x1="510.33" y1="138.50" x2="510.33" y2="139.60" stroke="#222" stroke-width="0.5" />
<line x1="513.05" y1="138.50" x2="513.05" y2="140.50" stroke="#222" stroke-width="0.8" />
<line x1="518.33" y1="138.50" x2="518.33" y2="139.60" stroke="#222" stroke-width="0.5" />
<line x1="521.42" y1="138.50" x2="521.42" y2="139.60" stroke="#222" stroke-width="0.5" />
<line x1="525.32" y1="138.50" x2="525.32" y2="139.60" stroke="#222" stroke-width="0.5" />
<line x1="527.88" y1="138.50" x2="527.88" y2="139.60" stroke="#222" stroke-width="0.5" />
<line x1="530.60" y1="138.50" x2="530.60" y2="140.50" stroke="#222" stroke-width="0.8" />
<line x1="535.88" y1="138.50" x2="535.88" y2="139.60" stroke="#222" stroke-width="0.5" />
<line x1="538.97" y1="138.50" x2="538.97" y2="139.60" stroke="#222" stroke-width="0.5" />
<line x1="542.87" y1="138.50" x2="542.87" y2="139.60" stroke="#222" stroke-width="0.5" />
<line x1="545.43" y1="138.50" x2="545.43" y2="139.60" stroke="#222" stroke-width="0.5" />
<line x1="548.15" y1="138.50" x2="548.15" y2="140.50" stroke="#222" stroke-width="0.8" />
<line x1="553.43" y1="138.50" x2="553.43" y2="139.60" stroke="#222" stroke-width="0.5" />
<line x1="556.52" y1="138.50" x2="556.52" y2="139.60" stroke="#222" stroke-width="0.5" />
<line x1="560.42" y1="138.50" x2="560.42" y2="139.60" stroke="#222" stroke-width="0.5" />
<line x1="562.98" y1="138.50" x2="562.98" y2="139.60" stroke="#222" stroke-width="0.5" />
<line x1="565.70" y1="138.50" x2="565.70" y2="140.50" stroke="#222" stroke-width="0.8" />
<line x1="570.98" y1="138.50" x2="570.98" y2="139.60" stroke="#222" stroke-width="0.5" />
<line x1="574.07" y1="138.50" x2="574.07" y2="139.60" stroke="#222" stroke-width="0.5" />
<line x1="577.97" y1="138.50" x2="577.97" y2="139.60" stroke="#222" stroke-width="0.5" />
<line x1="580.53" y1="138.50" x2="580.53" y2="139.60" stroke="#222" stroke-width="0.5" />
<line x1="583.25" y1="138.50" x2="583.25" y2="140.50" stroke="#222" stroke-width="0.8" />
<rect x="593.00" y="49.00" width="88.20" height="89.50" fill="none" stroke="#222" stroke-width="1.0" />
<line x1="590.80" y1="58.40" x2="593.00" y2="58.40" stroke="#222" stroke-width="0.8" />
<line x1="590.80" y1="80.30" x2="593.00" y2="80.30" stroke="#222" stroke-width="0.8" />
<line x1="590.80" y1="104.00" x2="593.00" y2="104.00" stroke="#222" stroke-width="0.8" />
<line x1="591.80" y1="73.71" x2="593.00" y2="73.71" stroke="#222" stroke-width="0.5" />
<line x1="591.80" y1="69.85" x2="593.00" y2="69.85" stroke="#222" stroke-width="0.5" />
<line x1="591.80" y1="64.99" x2="593.00" y2="64.99" stroke="#222" stroke-width="0.5" />
<line x1="591.80" y1="61.79" x2="593.00" y2="61.79" stroke="#222" stroke-width="0.5" />
<line x1="591.80" y1="96.87" x2="593.00" y2="96.87" stroke="#222" stroke-width="0.5" />
<line x1="591.80" y1="92.69" x2="593.00" y2="92.69" stroke="#222" stroke-width="0.5" />
<line x1="591.80" y1="87.43" x2="593.00" y2="87.43" stroke="#222" stroke-width="0.5" />
<line x1="591.80" y1="83.97" x2="593.00" y2="83.97" stroke="#222" stroke-width="0.5" />
<line x1="590.80" y1="124.50" x2="593.00" y2="124.50" stroke="#222" stroke-width="0.8" />
<path d="M592.8 119.5v10" stroke="#222" stroke-width="1.6" stroke-dasharray="0.6 0.5" fill="none"/>
<line x1="593.30" y1="138.50" x2="593.30" y2="140.50" stroke="#222" stroke-width="0.8" />
<line x1="598.58" y1="138.50" x2="598.58" y2="139.60" stroke="#222" stroke-width="0.5" />
<line x1="601.67" y1="138.50" x2="601.67" y2="139.60" stroke="#222" stroke-width="0.5" />
<line x1="605.57" y1="138.50" x2="605.57" y2="139.60" stroke="#222" stroke-width="0.5" />
<line x1="608.13" y1="138.50" x2="608.13" y2="139.60" stroke="#222" stroke-width="0.5" />
<line x1="610.85" y1="138.50" x2="610.85" y2="140.50" stroke="#222" stroke-width="0.8" />
<line x1="616.13" y1="138.50" x2="616.13" y2="139.60" stroke="#222" stroke-width="0.5" />
<line x1="619.22" y1="138.50" x2="619.22" y2="139.60" stroke="#222" stroke-width="0.5" />
<line x1="623.12" y1="138.50" x2="623.12" y2="139.60" stroke="#222" stroke-width="0.5" />
<line x1="625.68" y1="138.50" x2="625.68" y2="139.60" stroke="#222" stroke-width="0.5" />
<line x1="628.40" y1="138.50" x2="628.40" y2="140.50" stroke="#222" stroke-width="0.8" />
<line x1="633.68" y1="138.50" x2="633.68" y2="139.60" stroke="#222" stroke-width="0.5" />
<line x1="636.77" y1="138.50" x2="636.77" y2="139.60" stroke="#222" stroke-width="0.5" />
<line x1="640.67" y1="138.50" x2="640.67" y2="139.60" stroke="#222" stroke-width="0.5" />
<line x1="643.23" y1="138.50" x2="643.23" y2="139.60" stroke="#222" stroke-width="0.5" />
<line x1="645.95" y1="138.50" x2="645.95" y2="140.50" stroke="#222" stroke-width="0.8" />
<line x1="651.23" y1="138.50" x2="651.23" y2="139.60" stroke="#222" stroke-width="0.5" />
<line x1="654.32" y1="138.50" x2="654.32" y2="139.60" stroke="#222" stroke-width="0.5" />
<line x1="658.22" y1="138.50" x2="658.22" y2="139.60" stroke="#222" stroke-width="0.5" />
<line x1="660.78" y1="138.50" x2="660.78" y2="139.60" stroke="#222" stroke-width="0.5" />
<line x1="663.50" y1="138.50" x2="663.50" y2="140.50" stroke="#222" stroke-width="0.8" />
<line x1="668.78" y1="138.50" x2="668.78" y2="139.60" stroke="#222" stroke-width="0.5" />
<line x1="671.87" y1="138.50" x2="671.87" y2="139.60" stroke="#222" stroke-width="0.5" />
<line x1="675.77" y1="138.50" x2="675.77" y2="139.60" stroke="#222" stroke-width="0.5" />
<line x1="678.33" y1="138.50" x2="678.33" y2="139.60" stroke="#222" stroke-width="0.5" />
<line x1="681.05" y1="138.50" x2="681.05" y2="140.50" stroke="#222" stroke-width="0.8" />
<text x="371.80" y="59.10" font-size="10" fill="#0d0d0d" textLength="11.2" lengthAdjust="spacingAndGlyphs" stroke="#0d0d0d" stroke-width="0.22">10</text>
<text x="386.20" y="55.50" font-size="10" fill="#0d0d0d" stroke="#0d0d0d" stroke-width="0.22">5</text>
<text x="371.80" y="84.70" font-size="10" fill="#0d0d0d" textLength="11.2" lengthAdjust="spacingAndGlyphs" stroke="#0d0d0d" stroke-width="0.22">10</text>
<text x="386.20" y="81.10" font-size="10" fill="#0d0d0d" stroke="#0d0d0d" stroke-width="0.22">4</text>
<text x="371.80" y="108.50" font-size="10" fill="#0d0d0d" textLength="11.2" lengthAdjust="spacingAndGlyphs" stroke="#0d0d0d" stroke-width="0.22">10</text>
<text x="386.20" y="104.90" font-size="10" fill="#0d0d0d" stroke="#0d0d0d" stroke-width="0.22">3</text>
<text x="377.70" y="127.50" font-size="10" fill="#0d0d0d" stroke="#0d0d0d" stroke-width="0.22">0</text>
<text x="395.00" y="150.80" font-size="10" text-anchor="middle" fill="#0d0d0d" stroke="#0d0d0d" stroke-width="0.22">0</text>
<text x="386.00" y="161.00" font-size="10" text-anchor="middle" fill="#0d0d0d" textLength="11.0" lengthAdjust="spacingAndGlyphs" stroke="#0d0d0d" stroke-width="0.22">10</text>
<text x="412.55" y="150.80" font-size="10" text-anchor="middle" fill="#0d0d0d" stroke="#0d0d0d" stroke-width="0.22">1</text>
<text x="404.05" y="161.00" font-size="10" text-anchor="middle" fill="#0d0d0d" textLength="11.0" lengthAdjust="spacingAndGlyphs" stroke="#0d0d0d" stroke-width="0.22">10</text>
<text x="430.10" y="150.80" font-size="10" text-anchor="middle" fill="#0d0d0d" stroke="#0d0d0d" stroke-width="0.22">2</text>
<text x="422.10" y="161.00" font-size="10" text-anchor="middle" fill="#0d0d0d" textLength="11.0" lengthAdjust="spacingAndGlyphs" stroke="#0d0d0d" stroke-width="0.22">10</text>
<text x="447.65" y="150.80" font-size="10" text-anchor="middle" fill="#0d0d0d" stroke="#0d0d0d" stroke-width="0.22">3</text>
<text x="440.15" y="161.00" font-size="10" text-anchor="middle" fill="#0d0d0d" textLength="11.0" lengthAdjust="spacingAndGlyphs" stroke="#0d0d0d" stroke-width="0.22">10</text>
<text x="465.20" y="150.80" font-size="10" text-anchor="middle" fill="#0d0d0d" stroke="#0d0d0d" stroke-width="0.22">4</text>
<text x="458.20" y="161.00" font-size="10" text-anchor="middle" fill="#0d0d0d" textLength="11.0" lengthAdjust="spacingAndGlyphs" stroke="#0d0d0d" stroke-width="0.22">10</text>
<text x="482.75" y="150.80" font-size="10" text-anchor="middle" fill="#0d0d0d" stroke="#0d0d0d" stroke-width="0.22">5</text>
<text x="476.25" y="161.00" font-size="10" text-anchor="middle" fill="#0d0d0d" textLength="11.0" lengthAdjust="spacingAndGlyphs" stroke="#0d0d0d" stroke-width="0.22">10</text>
<rect x="437.30" y="51.80" width="29.50" height="68.40" fill="none" stroke="#666" stroke-width="0.8" />
<rect x="536.70" y="51.00" width="30.10" height="68.00" fill="none" stroke="#333" stroke-width="1.0" />
<rect x="634.80" y="51.00" width="29.80" height="68.00" fill="none" stroke="#333" stroke-width="1.0" />
<text x="439.20" y="65.50" font-size="10.5" fill="#0d0d0d" textLength="25.0" lengthAdjust="spacingAndGlyphs" stroke="#0d0d0d" stroke-width="0.22">0.0%</text>
<text x="538.00" y="64.80" font-size="10.5" fill="#0d0d0d" textLength="31.0" lengthAdjust="spacingAndGlyphs" stroke="#0d0d0d" stroke-width="0.22">46.7%</text>
<text x="636.00" y="64.80" font-size="10.5" fill="#0d0d0d" textLength="30.6" lengthAdjust="spacingAndGlyphs" stroke="#0d0d0d" stroke-width="0.22">49.5%</text>
<path transform="scale(.1)" d="M4454 1253h0M4510 1246h0M4452 1249h0M4497 1259h0M4455 1240h0M4503 1254h0M4523 1258h0M4482 1248h0M4549 1248h0M4465 1241h0M4487 1251h0M4476 1250h0M4492 1256h0M4512 1252h0M4440 1256h0M4450 1249h0M4448 1250h0M4466 1252h0M4568 1250h0M4506 1239h0M4478 1255h0M4483 1253h0M4488 1242h0M4499 1244h0M4532 1246h0M4502 1250h0M4509 1245h0M4510 1249h0M4517 1255h0M4489 1244h0M4504 1254h0M4526 1247h0M4499 1254h0M4492 1252h0M4490 1245h0M4460 1247h0M4500 1262h0M4509 1258h0M4504 1256h0M4490 1256h0M4529 1247h0M4468 1266h0M4491 1258h0M4507 1241h0M4546 1264h0M4489 1256h0M4488 1243h0M4482 1253h0M4513 1256h0M4486 1261h0M4466 1256h0M4513 1248h0M4440 1243h0M4491 1254h0M4524 1242h0" stroke="#3f6fc0" stroke-width="12.5" stroke-linecap="round" fill="none" />
<path transform="scale(.1)" d="M4475 1253h0M4473 1238h0M4486 1262h0M4489 1245h0M4469 1251h0M4510 1253h0M4477 1258h0M4474 1259h0M4465 1248h0M4485 1257h0M4484 1252h0M4449 1246h0M4466 1247h0M4483 1248h0M4486 1250h0M4470 1251h0" stroke="#6fc08a" stroke-width="11" stroke-linecap="round" fill="none" />
<path transform="scale(.1)" d="M4468 1253h0M4461 1249h0M4454 1255h0M4477 1249h0M4461 1246h0M4466 1251h0" stroke="#e8a030" stroke-width="11" stroke-linecap="round" fill="none" />
<path transform="scale(.1)" d="M5503 719h0M5454 1191h0M5456 721h0M5453 1075h0M5482 869h0M5473 983h0M5503 1079h0M5451 1062h0M5491 1107h0M5462 1053h0M5489 1160h0M5456 1105h0M5444 1142h0M5459 901h0M5466 1001h0M5467 1030h0M5500 1207h0M5448 904h0M5451 1078h0M5461 1129h0M5473 752h0M5467 1011h0M5477 950h0M5508 959h0M5489 1017h0M5465 716h0M5466 861h0M5459 795h0M5460 1163h0M5452 1156h0M5465 873h0M5460 925h0M5514 1113h0M5449 902h0M5468 1002h0M5484 958h0M5494 1129h0M5444 1185h0M5485 848h0M5495 848h0M5445 817h0M5490 957h0M5508 868h0M5418 936h0M5519 747h0M5482 731h0M5455 1064h0M5465 1106h0M5490 720h0M5492 722h0M5474 1125h0M5486 733h0M5442 1025h0M5484 1038h0M5507 1114h0M5464 810h0M5474 948h0M5476 946h0M5481 1067h0M5490 883h0M5442 1059h0M5469 1088h0M5486 907h0M5425 754h0M5471 1176h0M5461 937h0M5492 1023h0M5461 994h0M5489 1150h0M5420 942h0M5483 1036h0M5508 1119h0M5470 1031h0M5457 1160h0M5501 1200h0M5469 1105h0M5511 870h0M5449 884h0M5446 751h0M5484 1094h0M5514 954h0M5480 742h0M5483 1110h0M5491 1104h0M5489 780h0M5495 1072h0M5452 1130h0M5421 956h0M5487 1185h0M5481 973h0M5469 855h0M5440 971h0M5455 1132h0M5466 901h0M5486 1133h0M5464 1135h0M5443 1194h0M5468 810h0M5442 978h0M5472 724h0M5450 1195h0M5471 1111h0M5438 991h0M5475 743h0M5424 979h0M5503 1172h0M5461 845h0M5475 927h0M5494 1118h0M5458 869h0M5434 806h0M5438 775h0M5488 1100h0M5475 824h0M5464 1054h0M5492 1020h0M5472 762h0M5461 965h0M5482 835h0M5500 928h0M5449 898h0M5488 790h0M5451 812h0M5449 975h0M5438 1136h0M5444 826h0M5491 1080h0M5427 868h0M5487 867h0M5465 1209h0M5484 1154h0M5486 1073h0M5509 840h0M5498 921h0M5489 1105h0M5490 1053h0M5484 719h0M5506 1166h0M5493 1194h0M5491 1089h0M5467 961h0M5459 745h0M5501 763h0M5480 967h0M5482 994h0M5485 812h0M5526 1130h0M5470 758h0M5497 741h0M5465 1092h0M5446 873h0M5479 925h0M5509 1010h0M5476 1132h0M5437 801h0M5484 913h0M5487 808h0M5497 718h0M5484 1157h0M5439 1140h0M5447 1025h0M5491 962h0M5479 1201h0M5456 1166h0M5480 1082h0M5431 913h0M5499 1158h0M5449 1094h0M5442 1093h0M5494 745h0M5470 881h0M5474 888h0M5461 1029h0M5461 1182h0M5455 1043h0M5502 995h0M5398 977h0M5536 1031h0M5478 1061h0M5409 721h0M5472 1018h0M5455 911h0M5481 735h0M5494 759h0M5497 835h0M5457 964h0M5405 1194h0M5442 1029h0M5501 1115h0M5487 1090h0M5485 733h0M5467 946h0M5441 795h0M5474 739h0M5448 1183h0M5486 1009h0M5466 893h0M5506 990h0M5469 852h0M5454 717h0M5486 833h0M5477 1087h0M5504 905h0M5450 735h0M5481 1204h0M5470 1163h0M5412 925h0M5482 832h0M5507 972h0M5459 944h0M5486 1199h0M5444 768h0M5458 1022h0M5477 736h0M5491 974h0M5491 1044h0M5471 938h0M5503 920h0M5395 1099h0M5458 1186h0M5474 1077h0M5484 1156h0M5458 1102h0M5458 846h0M5445 1053h0M5461 1027h0M5479 1087h0M5489 1200h0M5478 1168h0M5468 740h0M5444 845h0M5488 761h0M5482 981h0M5477 1048h0M5458 985h0M5457 949h0M5452 815h0M5505 1129h0M5504 747h0M5502 1022h0M5479 1094h0M5497 839h0M5450 1115h0M5498 1205h0M5437 873h0M5462 1170h0M5466 924h0M5481 1148h0M5499 749h0M5488 952h0M5461 1053h0M5511 748h0M5468 817h0M5465 862h0M5467 1072h0M5455 781h0M5470 889h0M5451 769h0M5426 1065h0M5451 1180h0M5435 1167h0M5489 862h0M5430 869h0M5505 1157h0M5459 834h0M5490 892h0M5461 908h0M5483 992h0M5431 1109h0M5462 991h0M5476 798h0M5426 851h0M5444 721h0M5470 994h0M5449 1193h0M5439 742h0M5475 983h0M5464 751h0M5481 1079h0M5467 1027h0M5472 782h0M5440 833h0M5476 820h0M5445 1092h0M5441 907h0M5524 1046h0M5437 957h0M5464 1064h0M5437 1167h0M5496 1043h0M5488 1137h0M5432 1154h0M5455 1189h0M5451 1065h0M5452 1111h0M5484 783h0M5495 1081h0M5472 794h0M5456 812h0M5482 1195h0M5469 740h0M5484 1034h0M5477 1098h0M5480 939h0M5478 1002h0M5470 764h0M5476 802h0M5489 1069h0M5475 1007h0M5488 851h0M5474 796h0M5453 984h0M5455 1119h0M5475 1154h0M5457 1167h0M5497 1189h0M5474 951h0M5480 1184h0M5452 1111h0M5492 968h0M5507 847h0M5471 829h0M5451 715h0M5477 1108h0M5462 1067h0M5465 788h0M5470 871h0M5519 968h0M5491 1028h0M5472 977h0" stroke="#5a7fc4" stroke-width="7.5" stroke-linecap="round" fill="none" opacity="0.85" />
<path transform="scale(.1)" d="M5473 823h0M5472 1105h0M5476 1115h0M5468 873h0M5486 1061h0M5482 957h0M5449 1161h0M5459 888h0M5446 1092h0M5489 798h0M5478 1107h0M5490 981h0M5479 826h0M5462 891h0M5468 792h0M5488 1060h0M5470 911h0M5467 926h0M5499 954h0M5468 1035h0M5457 765h0M5488 860h0M5471 997h0M5474 1176h0M5478 1096h0M5492 882h0M5462 918h0M5470 902h0M5468 925h0M5464 844h0M5457 1067h0M5503 996h0M5460 1064h0M5496 799h0M5490 819h0M5485 1057h0M5451 836h0M5488 1009h0M5474 798h0M5481 812h0M5501 931h0M5487 939h0M5459 975h0M5454 1105h0M5466 922h0M5486 766h0M5461 928h0M5435 1092h0M5471 1037h0M5471 899h0M5469 904h0M5468 919h0M5479 974h0M5448 1017h0M5476 827h0M5443 990h0M5465 908h0M5473 1060h0M5451 1174h0M5471 1111h0" stroke="#5fb38c" stroke-width="7" stroke-linecap="round" fill="none" opacity="0.8" />
<path transform="scale(.1)" d="M5493 1337h0M5461 1238h0M5490 1268h0M5437 1229h0M5444 1328h0M5454 1286h0M5523 1323h0M5510 1314h0M5441 1243h0M5454 1245h0M5541 1195h0M5488 1210h0M5508 1302h0M5460 1330h0M5475 1302h0M5481 1235h0M5463 1251h0M5489 1260h0M5534 1248h0M5461 1229h0M5453 1203h0M5447 1288h0M5475 1249h0M5482 1293h0M5489 1283h0M5458 1246h0M5453 1252h0M5452 1242h0M5468 1247h0M5466 1237h0M5507 1243h0M5447 1262h0M5445 1216h0M5475 1195h0M5389 1265h0M5500 1195h0M5450 1276h0M5421 1224h0M5442 1248h0M5422 1287h0M5469 1266h0M5464 1179h0M5469 1207h0M5473 1224h0M5465 1247h0M5493 1283h0M5447 1254h0M5511 1273h0M5454 1251h0M5464 1289h0M5474 1269h0M5530 1205h0M5447 1193h0M5432 1286h0M5481 1314h0M5422 1223h0M5511 1292h0M5496 1286h0M5474 1255h0M5474 1285h0M5469 1267h0M5511 1214h0M5453 1275h0M5466 1249h0M5528 1270h0M5462 1295h0M5538 1215h0M5456 1259h0M5456 1333h0M5487 1241h0M5486 1226h0M5457 1259h0M5535 1174h0M5484 1304h0M5492 1324h0M5485 1260h0M5470 1224h0M5516 1212h0M5470 1236h0M5453 1175h0M5463 1260h0M5477 1285h0M5469 1232h0M5481 1279h0M5449 1200h0M5446 1293h0M5499 1223h0M5476 1285h0M5508 1231h0M5467 1306h0M5536 1310h0M5443 1271h0M5465 1253h0M5456 1238h0M5473 1320h0M5491 1270h0M5474 1228h0M5467 1300h0M5495 1326h0M5480 1254h0M5431 1269h0M5428 1310h0M5457 1255h0M5438 1237h0M5449 1296h0M5479 1213h0M5423 1253h0M5460 1215h0M5488 1248h0M5476 1234h0M5458 1238h0M5431 1278h0M5483 1193h0M5476 1297h0M5479 1302h0M5466 1255h0M5439 1222h0M5426 1223h0M5479 1274h0M5503 1260h0M5447 1271h0M5469 1319h0M5524 1290h0M5443 1236h0M5478 1229h0M5487 1280h0M5495 1263h0M5450 1225h0M5470 1303h0M5514 1290h0M5482 1279h0M5494 1302h0M5495 1200h0M5498 1269h0M5461 1274h0M5480 1253h0M5429 1259h0M5487 1253h0M5432 1271h0M5492 1262h0M5484 1242h0M5456 1274h0M5464 1262h0M5558 1281h0M5477 1197h0M5476 1282h0M5455 1246h0M5414 1275h0M5458 1280h0M5508 1249h0M5499 1264h0M5468 1245h0M5451 1301h0M5496 1219h0M5495 1229h0M5434 1298h0M5440 1298h0M5478 1287h0M5486 1297h0M5482 1276h0M5479 1294h0M5463 1292h0M5512 1253h0M5484 1237h0M5466 1264h0M5464 1223h0M5472 1262h0M5481 1281h0M5427 1306h0M5469 1227h0" stroke="#4a78c8" stroke-width="9" stroke-linecap="round" fill="none" />
<path transform="scale(.1)" d="M5463 1255h0M5487 1237h0M5473 1210h0M5473 1243h0M5462 1264h0M5504 1268h0M5455 1279h0M5464 1244h0M5459 1255h0M5481 1248h0M5466 1242h0M5462 1266h0M5460 1242h0M5466 1229h0M5466 1213h0M5478 1257h0M5464 1279h0M5454 1257h0M5479 1233h0M5465 1265h0M5471 1251h0M5496 1250h0M5438 1229h0M5486 1242h0M5450 1202h0M5476 1278h0M5446 1198h0M5479 1233h0M5464 1238h0M5453 1255h0M5487 1253h0M5459 1268h0M5468 1258h0M5452 1259h0M5484 1273h0M5471 1255h0M5459 1264h0M5485 1269h0M5463 1218h0M5469 1240h0M5456 1258h0M5488 1254h0M5491 1254h0M5452 1232h0M5463 1260h0M5487 1248h0M5489 1227h0M5468 1278h0M5478 1268h0M5435 1209h0M5454 1267h0M5501 1232h0M5452 1223h0M5453 1257h0M5464 1286h0M5484 1230h0M5474 1242h0M5485 1265h0M5464 1264h0M5481 1243h0M5475 1260h0M5464 1230h0M5494 1245h0M5459 1255h0M5442 1246h0M5445 1236h0M5437 1230h0M5487 1241h0M5447 1283h0M5458 1277h0M5460 1213h0M5505 1236h0M5484 1271h0M5446 1247h0M5459 1258h0M5470 1218h0M5471 1262h0M5465 1257h0M5460 1244h0M5477 1248h0M5494 1266h0M5486 1261h0M5473 1220h0M5490 1283h0M5474 1240h0M5469 1271h0M5475 1224h0M5467 1229h0M5466 1226h0M5454 1277h0" stroke="#58c070" stroke-width="9" stroke-linecap="round" fill="none" />
<path transform="scale(.1)" d="M5480 1218h0M5455 1236h0M5462 1222h0M5478 1218h0M5476 1252h0M5462 1232h0M5468 1244h0M5440 1224h0M5474 1241h0M5462 1228h0M5458 1231h0M5503 1224h0M5487 1249h0M5470 1245h0M5462 1266h0M5474 1242h0M5466 1245h0M5453 1237h0M5459 1251h0M5475 1215h0M5464 1257h0M5451 1225h0M5480 1240h0M5461 1224h0M5469 1234h0M5470 1248h0M5476 1237h0M5460 1243h0M5466 1245h0M5460 1239h0M5460 1233h0M5469 1259h0M5460 1251h0M5471 1244h0M5476 1234h0M5474 1247h0M5423 1247h0M5475 1271h0M5454 1244h0M5472 1228h0M5482 1249h0M5457 1225h0M5462 1277h0M5495 1206h0M5444 1252h0M5466 1233h0M5475 1244h0M5471 1246h0M5453 1261h0M5461 1259h0M5476 1243h0M5469 1241h0M5444 1237h0M5473 1218h0M5448 1258h0" stroke="#e6d23a" stroke-width="9" stroke-linecap="round" fill="none" />
<path transform="scale(.1)" d="M5471 1225h0M5468 1240h0M5473 1237h0M5462 1233h0M5466 1239h0M5458 1237h0M5457 1246h0M5455 1225h0M5456 1251h0M5460 1246h0M5471 1235h0M5471 1245h0M5464 1233h0M5464 1227h0M5462 1234h0M5468 1243h0M5458 1249h0M5475 1241h0M5457 1245h0M5442 1234h0M5469 1260h0M5458 1255h0M5485 1259h0M5443 1251h0M5466 1250h0M5462 1234h0M5462 1255h0M5472 1237h0" stroke="#f08a20" stroke-width="9" stroke-linecap="round" fill="none" />
<path transform="scale(.1)" d="M5464 1245h0M5465 1240h0M5459 1236h0M5460 1237h0M5454 1232h0M5466 1233h0M5456 1240h0M5469 1248h0M5460 1234h0M5459 1235h0" stroke="#e8281e" stroke-width="9" stroke-linecap="round" fill="none" />
<path transform="scale(.1)" d="M6459 915h0M6486 1005h0M6487 977h0M6461 944h0M6411 1015h0M6425 803h0M6493 955h0M6453 880h0M6478 1084h0M6453 1146h0M6482 791h0M6453 842h0M6423 1133h0M6411 1128h0M6382 1113h0M6450 761h0M6451 1148h0M6438 1117h0M6410 948h0M6445 824h0M6449 864h0M6448 996h0M6438 1108h0M6456 1114h0M6459 1140h0M6426 1165h0M6468 1112h0M6473 778h0M6429 748h0M6493 1130h0M6464 786h0M6476 1138h0M6462 1026h0M6450 1204h0M6423 829h0M6421 1079h0M6443 825h0M6434 737h0M6442 893h0M6485 864h0M6450 1019h0M6441 791h0M6443 1063h0M6458 786h0M6438 1182h0M6441 824h0M6442 1208h0M6420 903h0M6444 879h0M6462 1033h0M6465 934h0M6434 949h0M6475 973h0M6447 1068h0M6438 843h0M6446 1149h0M6476 868h0M6428 948h0M6426 1178h0M6480 1019h0M6477 945h0M6464 865h0M6473 942h0M6450 1064h0M6456 1053h0M6479 793h0M6455 1160h0M6479 894h0M6473 1124h0M6430 992h0M6463 778h0M6449 905h0M6449 910h0M6421 895h0M6460 1161h0M6453 1034h0M6438 955h0M6475 882h0M6407 1052h0M6417 1199h0M6421 1206h0M6481 1042h0M6464 1067h0M6455 952h0M6446 923h0M6442 1205h0M6446 831h0M6464 919h0M6467 1086h0M6462 1041h0M6454 1029h0M6437 1119h0M6457 1081h0M6444 955h0M6490 738h0M6412 1160h0M6438 742h0M6478 986h0M6460 783h0M6436 974h0M6444 790h0M6450 772h0M6444 976h0M6493 848h0M6470 929h0M6460 947h0M6412 998h0M6466 780h0M6489 1138h0M6505 982h0M6420 925h0M6425 1193h0M6468 928h0M6456 1123h0M6452 1083h0M6442 985h0M6470 744h0M6467 1194h0M6459 1039h0M6449 930h0M6454 768h0M6466 1171h0M6422 888h0M6457 1156h0M6430 1184h0M6444 1164h0M6443 919h0M6491 854h0M6431 907h0M6466 902h0M6448 937h0M6457 1131h0M6426 760h0M6450 922h0M6473 837h0M6468 881h0M6460 962h0M6493 964h0M6405 734h0M6488 733h0M6476 1015h0M6450 1017h0M6445 907h0M6485 1013h0M6427 881h0M6455 1092h0M6470 755h0M6465 860h0M6414 1112h0M6476 923h0M6451 867h0M6446 1202h0M6446 1129h0M6473 1123h0M6450 1108h0M6449 1097h0M6434 753h0M6434 1175h0M6508 1037h0M6463 1091h0M6493 1008h0M6456 931h0M6506 1056h0M6450 766h0M6419 1105h0M6469 911h0M6444 945h0M6459 884h0M6465 1083h0M6460 1130h0M6444 1050h0M6452 787h0M6483 879h0M6447 1173h0M6430 831h0M6470 1133h0M6473 789h0M6436 745h0M6430 937h0M6479 1176h0M6447 967h0M6434 1104h0M6454 781h0M6441 1011h0M6447 827h0M6466 898h0M6432 1014h0M6452 1006h0M6436 1134h0M6479 961h0M6438 1201h0M6486 842h0M6451 855h0M6425 853h0M6465 761h0M6435 1074h0M6433 938h0M6435 1198h0M6429 1167h0M6462 841h0M6471 1092h0M6467 1137h0M6446 747h0M6427 995h0M6488 890h0M6501 1097h0M6488 1117h0M6478 835h0M6424 826h0M6448 788h0M6412 1097h0M6431 1173h0M6418 1061h0M6498 1075h0M6478 870h0M6426 857h0M6483 850h0M6459 852h0M6455 871h0M6467 963h0M6451 861h0M6473 974h0M6479 1149h0M6493 1140h0M6419 1023h0M6445 987h0M6490 1047h0M6436 855h0M6475 756h0M6447 1108h0M6434 842h0M6461 1080h0M6425 1183h0M6454 897h0M6466 841h0M6452 1181h0M6500 1045h0M6477 779h0M6505 1001h0M6502 878h0M6487 1149h0M6468 763h0M6396 744h0M6427 1059h0M6461 1141h0M6428 767h0M6466 983h0M6481 900h0M6467 970h0M6489 930h0M6478 963h0M6468 998h0M6444 1197h0M6450 874h0M6439 891h0M6403 1198h0M6496 1186h0M6434 1179h0M6424 740h0M6457 1059h0M6414 1024h0M6420 771h0M6461 979h0M6454 784h0M6460 1147h0M6454 745h0M6444 1128h0M6429 1008h0M6455 1094h0M6454 763h0M6498 1111h0M6448 926h0M6453 891h0M6458 1100h0M6431 856h0M6441 891h0M6439 1054h0M6460 1153h0M6465 814h0M6469 960h0M6447 1106h0M6470 1044h0M6438 855h0M6452 1151h0M6457 819h0M6474 888h0M6436 1079h0M6419 989h0M6456 768h0M6438 835h0M6477 929h0M6454 901h0M6478 1167h0M6454 795h0M6459 1109h0M6435 1109h0M6448 912h0M6485 1086h0M6457 958h0M6452 970h0M6502 913h0M6475 799h0M6497 829h0M6414 1177h0M6467 894h0M6450 1073h0M6459 1184h0M6467 1056h0M6447 1154h0M6399 948h0M6468 909h0M6468 1181h0M6463 764h0M6474 754h0M6460 877h0M6466 983h0M6419 989h0M6439 983h0M6469 1185h0M6463 767h0M6459 879h0M6403 972h0M6441 807h0M6481 871h0M6480 1111h0M6451 1019h0M6440 1136h0M6458 1183h0M6494 1199h0M6461 922h0" stroke="#5a7fc4" stroke-width="7.5" stroke-linecap="round" fill="none" opacity="0.85" />
<path transform="scale(.1)" d="M6459 801h0M6462 1075h0M6465 865h0M6456 1100h0M6446 980h0M6442 853h0M6454 786h0M6459 884h0M6444 1028h0M6467 1030h0M6437 907h0M6478 1012h0M6440 947h0M6451 913h0M6458 1145h0M6488 1121h0M6464 1133h0M6469 1174h0M6466 895h0M6475 874h0M6474 1013h0M6483 894h0M6450 819h0M6443 1004h0M6470 979h0M6447 932h0M6444 781h0M6455 1010h0M6449 1033h0M6456 979h0M6432 973h0M6426 892h0M6477 957h0M6468 874h0M6458 1112h0M6445 1141h0M6439 982h0M6463 1158h0M6443 976h0M6456 1116h0M6450 981h0M6463 866h0M6468 1114h0M6418 1147h0M6461 1054h0M6434 1104h0M6466 1101h0M6478 901h0M6458 878h0M6454 985h0M6460 917h0M6436 1144h0M6452 1153h0M6451 1047h0M6483 824h0M6452 904h0M6447 854h0M6433 1174h0M6471 1029h0M6471 803h0" stroke="#5fb38c" stroke-width="7" stroke-linecap="round" fill="none" opacity="0.8" />
<path transform="scale(.1)" d="M6485 1210h0M6467 1184h0M6398 1219h0M6436 1223h0M6437 1277h0M6470 1258h0M6460 1230h0M6429 1204h0M6444 1214h0M6447 1281h0M6469 1303h0M6431 1176h0M6426 1327h0M6473 1239h0M6490 1240h0M6499 1241h0M6444 1280h0M6425 1249h0M6506 1271h0M6426 1246h0M6454 1228h0M6466 1300h0M6456 1287h0M6463 1260h0M6435 1290h0M6490 1239h0M6432 1274h0M6458 1296h0M6468 1250h0M6419 1277h0M6458 1209h0M6416 1189h0M6471 1239h0M6368 1223h0M6438 1251h0M6456 1243h0M6474 1292h0M6449 1312h0M6452 1224h0M6459 1203h0M6447 1217h0M6444 1262h0M6391 1269h0M6462 1247h0M6474 1267h0M6445 1219h0M6474 1282h0M6417 1229h0M6424 1285h0M6440 1210h0M6494 1271h0M6461 1264h0M6450 1256h0M6478 1271h0M6443 1258h0M6504 1235h0M6421 1259h0M6425 1350h0M6471 1276h0M6464 1326h0M6428 1253h0M6411 1300h0M6453 1319h0M6448 1217h0M6436 1284h0M6433 1264h0M6436 1229h0M6440 1313h0M6427 1266h0M6476 1228h0M6415 1309h0M6500 1246h0M6423 1286h0M6454 1225h0M6445 1168h0M6433 1211h0M6420 1276h0M6462 1316h0M6384 1230h0M6433 1303h0M6482 1259h0M6457 1227h0M6441 1238h0M6389 1323h0M6474 1330h0M6487 1272h0M6476 1193h0M6428 1285h0M6445 1196h0M6454 1208h0M6455 1311h0M6425 1238h0M6469 1253h0M6459 1224h0M6446 1168h0M6450 1301h0M6425 1248h0M6473 1299h0M6485 1222h0M6444 1318h0M6442 1265h0M6432 1230h0M6376 1234h0M6397 1217h0M6429 1304h0M6475 1269h0M6441 1204h0M6467 1224h0M6451 1289h0M6449 1253h0M6428 1292h0M6468 1280h0M6497 1195h0M6455 1278h0M6463 1265h0M6467 1198h0M6452 1297h0M6453 1247h0M6477 1190h0M6465 1309h0M6448 1224h0M6468 1238h0M6433 1260h0M6411 1279h0M6423 1234h0M6473 1253h0M6461 1304h0M6494 1330h0M6440 1288h0M6411 1283h0M6489 1228h0M6467 1285h0M6450 1231h0M6494 1206h0M6459 1289h0M6461 1312h0M6493 1271h0M6501 1281h0M6422 1242h0M6461 1261h0M6410 1338h0M6413 1213h0M6466 1261h0M6495 1262h0M6464 1281h0M6435 1207h0M6442 1291h0M6447 1300h0M6440 1282h0M6455 1285h0M6455 1261h0M6442 1300h0M6454 1273h0M6472 1222h0M6433 1253h0M6488 1216h0M6428 1218h0M6444 1215h0M6433 1274h0M6426 1254h0M6423 1247h0M6468 1181h0M6456 1263h0M6453 1264h0M6465 1207h0M6451 1278h0M6489 1205h0M6439 1205h0M6454 1215h0M6429 1282h0" stroke="#4a78c8" stroke-width="9" stroke-linecap="round" fill="none" />
<path transform="scale(.1)" d="M6495 1199h0M6483 1224h0M6465 1252h0M6475 1240h0M6436 1243h0M6467 1225h0M6460 1244h0M6455 1245h0M6463 1263h0M6446 1237h0M6410 1225h0M6422 1260h0M6431 1229h0M6462 1267h0M6475 1226h0M6456 1268h0M6435 1240h0M6428 1230h0M6465 1247h0M6445 1232h0M6481 1261h0M6428 1293h0M6444 1241h0M6442 1232h0M6464 1213h0M6452 1237h0M6485 1253h0M6460 1256h0M6463 1247h0M6405 1254h0M6446 1260h0M6458 1233h0M6435 1222h0M6457 1242h0M6435 1237h0M6458 1230h0M6449 1231h0M6402 1247h0M6453 1263h0M6477 1229h0M6463 1251h0M6453 1263h0M6469 1217h0M6480 1241h0M6439 1229h0M6447 1220h0M6473 1254h0M6435 1263h0M6456 1247h0M6470 1243h0M6447 1256h0M6417 1218h0M6461 1268h0M6420 1245h0M6439 1239h0M6463 1278h0M6486 1266h0M6464 1248h0M6416 1254h0M6429 1220h0M6454 1210h0M6486 1258h0M6459 1255h0M6456 1246h0M6465 1230h0M6457 1249h0M6467 1220h0M6457 1242h0M6464 1257h0M6455 1255h0M6460 1275h0M6458 1257h0M6434 1240h0M6467 1268h0M6433 1244h0M6447 1246h0M6443 1235h0M6451 1248h0M6471 1226h0M6434 1262h0M6461 1241h0M6430 1268h0M6431 1270h0M6457 1242h0M6449 1263h0M6452 1206h0M6439 1197h0M6459 1265h0M6471 1215h0M6492 1285h0" stroke="#58c070" stroke-width="9" stroke-linecap="round" fill="none" />
<path transform="scale(.1)" d="M6447 1212h0M6438 1258h0M6476 1234h0M6425 1227h0M6474 1242h0M6431 1210h0M6457 1254h0M6443 1239h0M6450 1237h0M6442 1233h0M6441 1260h0M6454 1257h0M6473 1207h0M6448 1256h0M6446 1233h0M6454 1234h0M6438 1237h0M6450 1242h0M6461 1242h0M6443 1288h0M6446 1238h0M6447 1231h0M6428 1245h0M6468 1214h0M6439 1248h0M6440 1250h0M6448 1225h0M6446 1234h0M6456 1204h0M6454 1262h0M6451 1245h0M6442 1247h0M6447 1223h0M6433 1207h0M6455 1244h0M6463 1246h0M6458 1222h0M6425 1233h0M6445 1247h0M6447 1239h0M6449 1246h0M6451 1247h0M6442 1240h0M6430 1225h0M6445 1248h0M6439 1221h0M6461 1229h0M6426 1227h0M6433 1205h0M6444 1267h0M6439 1230h0M6464 1243h0M6448 1262h0M6433 1241h0M6455 1245h0" stroke="#e6d23a" stroke-width="9" stroke-linecap="round" fill="none" />
<path transform="scale(.1)" d="M6435 1231h0M6462 1239h0M6444 1251h0M6430 1239h0M6430 1254h0M6437 1241h0M6438 1241h0M6449 1240h0M6443 1242h0M6444 1235h0M6452 1248h0M6434 1230h0M6439 1243h0M6433 1255h0M6446 1241h0M6454 1232h0M6449 1244h0M6458 1229h0M6458 1246h0M6448 1251h0M6444 1238h0M6453 1236h0M6456 1254h0M6448 1242h0M6440 1231h0M6459 1230h0M6447 1243h0M6438 1233h0" stroke="#f08a20" stroke-width="9" stroke-linecap="round" fill="none" />
<path transform="scale(.1)" d="M6440 1253h0M6446 1248h0M6454 1246h0M6451 1237h0M6441 1249h0M6451 1234h0M6450 1242h0M6448 1246h0M6454 1236h0M6444 1248h0" stroke="#e8281e" stroke-width="9" stroke-linecap="round" fill="none" />
<path transform="scale(.1)" d="M6449 1347h0M6469 1348h0M6441 1343h0M6478 1345h0M6442 1289h0M6458 1295h0M6469 1338h0M6428 1313h0M6444 1368h0M6467 1334h0M6483 1334h0M6484 1335h0M6459 1359h0M6420 1367h0M6424 1314h0M6476 1317h0M6430 1312h0M6483 1312h0M6482 1341h0M6417 1356h0M6427 1303h0M6479 1308h0M6493 1363h0M6483 1307h0M6446 1293h0M6464 1337h0M6463 1303h0M6448 1348h0M6463 1312h0M6508 1323h0M6461 1318h0M6476 1305h0M6454 1337h0M6449 1352h0M6447 1291h0M6470 1287h0M6464 1281h0M6421 1321h0M6436 1283h0M6442 1318h0M6413 1312h0M6510 1363h0M6478 1291h0M6430 1353h0M6483 1289h0M6473 1288h0M6442 1369h0M6463 1332h0M6507 1348h0M6416 1338h0M6411 1340h0M6463 1294h0M6429 1326h0M6450 1344h0M6442 1351h0M6424 1354h0M6467 1284h0M6463 1294h0M6477 1320h0M6449 1322h0" stroke="#5a7fc4" stroke-width="7.5" stroke-linecap="round" fill="none" opacity="0.8" />
<text x="0.20" y="165.60" font-size="11.3" font-weight="bold" fill="#0d0d0d" stroke="#0d0d0d" stroke-width="0.22">C</text>
<text x="40.20" y="166.20" font-size="11.3" fill="#0d0d0d" textLength="127.5" lengthAdjust="spacingAndGlyphs" stroke="#0d0d0d" stroke-width="0.22">Human fecal microbes</text>
<text x="19.30" y="249.30" font-size="10.3" text-anchor="middle" fill="#0d0d0d" transform="rotate(-90 19.30 249.30)" textLength="153.5" lengthAdjust="spacingAndGlyphs" stroke="#0d0d0d" stroke-width="0.22">5 µM hItln2 (UC/CD conditions)</text>
<line x1="23.40" y1="173.00" x2="23.40" y2="321.60" stroke="#111" stroke-width="1.3" />
<text x="35.20" y="214.00" font-size="10.5" text-anchor="middle" fill="#0d0d0d" transform="rotate(-90 35.20 214.00)" stroke="#0d0d0d" stroke-width="0.22">+ CaCl<tspan font-size="6.3" dy="2.4">2</tspan></text>
<text x="35.20" y="288.80" font-size="10.5" text-anchor="middle" fill="#0d0d0d" transform="rotate(-90 35.20 288.80)" textLength="39.2" lengthAdjust="spacingAndGlyphs" stroke="#0d0d0d" stroke-width="0.22">+ EDTA</text>
<defs><radialGradient id="bfg" cx="0.55" cy="0.35" r="0.75"><stop offset="0" stop-color="#929292"/><stop offset="0.4" stop-color="#878787"/><stop offset="1" stop-color="#7f7f7f"/></radialGradient><radialGradient id="bfg2" cx="0.5" cy="0.45" r="0.75"><stop offset="0" stop-color="#8e8e8e"/><stop offset="0.5" stop-color="#878787"/><stop offset="1" stop-color="#818181"/></radialGradient></defs>
<clipPath id="cC00"><rect x="40.80" y="174.90" width="70.00" height="69.80"/></clipPath>
<g clip-path="url(#cC00)">
<rect x="40.80" y="174.90" width="70.00" height="69.80" fill="url(#bfg)" />
<rect x="40.80" y="174.90" width="70.00" height="69.80" fill="#888" filter="url(#nz)" opacity="0.1"/>
<use href="#bd0" transform="translate(40.80 174.90)" stroke="#4e4e4e" stroke-width="9" stroke-linecap="round" fill="none" opacity="0.7" />
<use href="#bl0" transform="translate(40.80 174.90)" stroke="#c6c6c6" stroke-width="8.5" stroke-linecap="round" fill="none" opacity="0.7" />
<use href="#bk0" transform="translate(40.80 174.90)" stroke="#2a2a2a" stroke-width="13" stroke-linecap="round" fill="none" opacity="0.8" />
<rect x="104.60" y="239.80" width="3.60" height="2.00" fill="#fff" />
<line x1="103.20" y1="242.80" x2="109.60" y2="242.80" stroke="#ddd" stroke-width="0.6" stroke-dasharray="1 0.4" opacity="0.8"/>
</g>
<clipPath id="cC01"><rect x="113.50" y="174.90" width="70.00" height="69.80"/></clipPath>
<g clip-path="url(#cC01)">
<rect x="113.50" y="174.90" width="70.00" height="69.80" fill="#02080a" />
<use href="#c1" transform="translate(113.50 174.90)" stroke="#0d3a44" stroke-width="10" stroke-linecap="round" fill="none" opacity="0.8" />
<rect x="177.30" y="239.80" width="3.60" height="2.00" fill="#fff" />
<line x1="175.90" y1="242.80" x2="182.30" y2="242.80" stroke="#ddd" stroke-width="0.6" stroke-dasharray="1 0.4" opacity="0.8"/>
</g>
<clipPath id="cC02"><rect x="186.20" y="174.90" width="70.00" height="69.80"/></clipPath>
<g clip-path="url(#cC02)">
<rect x="186.20" y="174.90" width="70.00" height="69.80" fill="#0d0112" />
<use href="#m1" transform="translate(186.20 174.90)" stroke="#5e0c66" stroke-width="10" stroke-linecap="round" fill="none" opacity="0.4" />
<use href="#m1" transform="translate(186.20 174.90)" stroke="#c022c8" stroke-width="5" stroke-linecap="round" fill="none" opacity="0.75" />
<rect x="250.00" y="239.80" width="3.60" height="2.00" fill="#fff" />
<line x1="248.60" y1="242.80" x2="255.00" y2="242.80" stroke="#ddd" stroke-width="0.6" stroke-dasharray="1 0.4" opacity="0.8"/>
</g>
<clipPath id="cC03"><rect x="258.90" y="174.90" width="70.00" height="69.80"/></clipPath>
<g clip-path="url(#cC03)">
<rect x="258.90" y="174.90" width="70.00" height="69.80" fill="url(#bfg)" />
<rect x="258.90" y="174.90" width="70.00" height="69.80" fill="#888" filter="url(#nz)" opacity="0.1"/>
<use href="#bd0" transform="translate(258.90 174.90)" stroke="#4e4e4e" stroke-width="9" stroke-linecap="round" fill="none" opacity="0.7" />
<use href="#bl0" transform="translate(258.90 174.90)" stroke="#c6c6c6" stroke-width="8.5" stroke-linecap="round" fill="none" opacity="0.7" />
<use href="#bk0" transform="translate(258.90 174.90)" stroke="#2a2a2a" stroke-width="13" stroke-linecap="round" fill="none" opacity="0.8" />
<use href="#m1" transform="translate(258.90 174.90)" stroke="#e268ec" stroke-width="6" stroke-linecap="round" fill="none" opacity="0.75" />
<rect x="322.70" y="239.80" width="3.60" height="2.00" fill="#fff" />
<line x1="321.30" y1="242.80" x2="327.70" y2="242.80" stroke="#ddd" stroke-width="0.6" stroke-dasharray="1 0.4" opacity="0.8"/>
</g>
<clipPath id="cC10"><rect x="40.80" y="250.40" width="70.00" height="69.80"/></clipPath>
<g clip-path="url(#cC10)">
<rect x="40.80" y="250.40" width="70.00" height="69.80" fill="url(#bfg2)" />
<rect x="40.80" y="250.40" width="70.00" height="69.80" fill="#888" filter="url(#nz)" opacity="0.1"/>
<use href="#bd1" transform="translate(40.80 250.40)" stroke="#4e4e4e" stroke-width="9" stroke-linecap="round" fill="none" opacity="0.7" />
<use href="#bl1" transform="translate(40.80 250.40)" stroke="#c6c6c6" stroke-width="8.5" stroke-linecap="round" fill="none" opacity="0.7" />
<use href="#bk1" transform="translate(40.80 250.40)" stroke="#2a2a2a" stroke-width="13" stroke-linecap="round" fill="none" opacity="0.8" />
<rect x="104.60" y="315.30" width="3.60" height="2.00" fill="#fff" />
<line x1="103.20" y1="318.30" x2="109.60" y2="318.30" stroke="#ddd" stroke-width="0.6" stroke-dasharray="1 0.4" opacity="0.8"/>
</g>
<clipPath id="cC11"><rect x="113.50" y="250.40" width="70.00" height="69.80"/></clipPath>
<g clip-path="url(#cC11)">
<rect x="113.50" y="250.40" width="70.00" height="69.80" fill="#02080a" />
<use href="#c2" transform="translate(113.50 250.40)" stroke="#0c4c58" stroke-width="10" stroke-linecap="round" fill="none" opacity="0.4" />
<use href="#c2" transform="translate(113.50 250.40)" stroke="#1c98a8" stroke-width="5" stroke-linecap="round" fill="none" opacity="0.75" />
<rect x="177.30" y="315.30" width="3.60" height="2.00" fill="#fff" />
<line x1="175.90" y1="318.30" x2="182.30" y2="318.30" stroke="#ddd" stroke-width="0.6" stroke-dasharray="1 0.4" opacity="0.8"/>
</g>
<clipPath id="cC12"><rect x="186.20" y="250.40" width="70.00" height="69.80"/></clipPath>
<g clip-path="url(#cC12)">
<rect x="186.20" y="250.40" width="70.00" height="69.80" fill="#0d0112" />
<use href="#m2" transform="translate(186.20 250.40)" stroke="#5e0c66" stroke-width="10" stroke-linecap="round" fill="none" opacity="0.4" />
<use href="#m2" transform="translate(186.20 250.40)" stroke="#c022c8" stroke-width="5" stroke-linecap="round" fill="none" opacity="0.75" />
<use href="#mb" transform="translate(186.20 250.40)" stroke="#f63cf6" stroke-width="17" stroke-linecap="round" fill="none" />
<rect x="250.00" y="315.30" width="3.60" height="2.00" fill="#fff" />
<line x1="248.60" y1="318.30" x2="255.00" y2="318.30" stroke="#ddd" stroke-width="0.6" stroke-dasharray="1 0.4" opacity="0.8"/>
</g>
<clipPath id="cC13"><rect x="258.90" y="250.40" width="70.00" height="69.80"/></clipPath>
<g clip-path="url(#cC13)">
<rect x="258.90" y="250.40" width="70.00" height="69.80" fill="url(#bfg2)" />
<rect x="258.90" y="250.40" width="70.00" height="69.80" fill="#888" filter="url(#nz)" opacity="0.1"/>
<use href="#bd1" transform="translate(258.90 250.40)" stroke="#4e4e4e" stroke-width="9" stroke-linecap="round" fill="none" opacity="0.7" />
<use href="#bl1" transform="translate(258.90 250.40)" stroke="#c6c6c6" stroke-width="8.5" stroke-linecap="round" fill="none" opacity="0.7" />
<use href="#bk1" transform="translate(258.90 250.40)" stroke="#2a2a2a" stroke-width="13" stroke-linecap="round" fill="none" opacity="0.8" />
<use href="#c2" transform="translate(258.90 250.40)" stroke="#b2daf0" stroke-width="6" stroke-linecap="round" fill="none" opacity="0.7" />
<use href="#m2" transform="translate(258.90 250.40)" stroke="#e268ec" stroke-width="6" stroke-linecap="round" fill="none" opacity="0.75" />
<use href="#mb" transform="translate(258.90 250.40)" stroke="#f63cf6" stroke-width="17" stroke-linecap="round" fill="none" />
<rect x="322.70" y="315.30" width="3.60" height="2.00" fill="#fff" />
<line x1="321.30" y1="318.30" x2="327.70" y2="318.30" stroke="#ddd" stroke-width="0.6" stroke-dasharray="1 0.4" opacity="0.8"/>
</g>
<text x="42.80" y="186.40" font-size="11" font-weight="bold" fill="#fff" textLength="54.8" lengthAdjust="spacingAndGlyphs" stroke="#fff" stroke-width="0.22">Brightfield</text>
<text x="115.70" y="186.40" font-size="11" font-weight="bold" fill="#2a9fd8" textLength="49.3" lengthAdjust="spacingAndGlyphs" stroke="#2a9fd8" stroke-width="0.22">SYTO BC</text>
<text x="189.00" y="186.20" font-size="11" font-weight="bold" fill="#f211f2" textLength="33.0" lengthAdjust="spacingAndGlyphs" stroke="#f211f2" stroke-width="0.22">Lectin</text>
<text x="260.70" y="185.20" font-size="11" font-weight="bold" fill="#f4eefa" textLength="57.3" lengthAdjust="spacingAndGlyphs" stroke="#f4eefa" stroke-width="0.22">Composite</text>
<text x="346.80" y="204.00" font-size="11.3" font-weight="bold" fill="#0d0d0d" stroke="#0d0d0d" stroke-width="0.22">D</text>
<text x="367.30" y="204.20" font-size="11.3" fill="#0d0d0d" textLength="175.5" lengthAdjust="spacingAndGlyphs" stroke="#0d0d0d" stroke-width="0.22"><tspan font-style="italic">S. aureus</tspan> USA300Lac (MRSA)</text>
<path d="M372.30 238.00V363.50H677.00" fill="none" stroke="#1c1c1c" stroke-width="2.6" stroke-linejoin="miter"/>
<path d="M372.30 231.00l-3.9 9.2q3.9 -1.6 7.8 0z" fill="#1c1c1c"/>
<path d="M684.00 363.50l-9.2 -3.7q1.6 3.7 0 7.4z" fill="#1c1c1c"/>
<text x="363.40" y="292.30" font-size="10.5" text-anchor="middle" fill="#0d0d0d" transform="rotate(-90 363.40 292.30)" stroke="#0d0d0d" stroke-width="0.22">hItln2</text>
<text x="504.50" y="380.00" font-size="10.8" fill="#0d0d0d" textLength="48.8" lengthAdjust="spacingAndGlyphs" stroke="#0d0d0d" stroke-width="0.22">SYTO BC</text>
<text x="419.20" y="242.00" font-size="10.5" fill="#0d0d0d" textLength="41.8" lengthAdjust="spacingAndGlyphs" stroke="#0d0d0d" stroke-width="0.22">No lectin</text>
<text x="509.40" y="221.30" font-size="10.6" fill="#0d0d0d" textLength="160.8" lengthAdjust="spacingAndGlyphs" stroke="#0d0d0d" stroke-width="0.22">1 µM hItln2 (UC/CD conditions)</text>
<line x1="500.80" y1="227.60" x2="679.50" y2="227.60" stroke="#444" stroke-width="1.0" />
<text x="528.40" y="241.30" font-size="10.5" fill="#0d0d0d" stroke="#0d0d0d" stroke-width="0.22">+ CaCl<tspan font-size="6.3" dy="2.4">2</tspan></text>
<text x="621.00" y="241.30" font-size="10.5" fill="#0d0d0d" textLength="39.2" lengthAdjust="spacingAndGlyphs" stroke="#0d0d0d" stroke-width="0.22">+ EDTA</text>
<rect x="402.00" y="249.40" width="90.00" height="88.90" fill="none" stroke="#222" stroke-width="1.0" />
<line x1="399.80" y1="256.00" x2="402.00" y2="256.00" stroke="#222" stroke-width="0.8" />
<line x1="399.80" y1="272.50" x2="402.00" y2="272.50" stroke="#222" stroke-width="0.8" />
<line x1="399.80" y1="289.00" x2="402.00" y2="289.00" stroke="#222" stroke-width="0.8" />
<line x1="399.80" y1="305.50" x2="402.00" y2="305.50" stroke="#222" stroke-width="0.8" />
<line x1="399.80" y1="322.00" x2="402.00" y2="322.00" stroke="#222" stroke-width="0.8" />
<line x1="399.80" y1="338.30" x2="402.00" y2="338.30" stroke="#222" stroke-width="0.8" />
<line x1="400.80" y1="267.53" x2="402.00" y2="267.53" stroke="#222" stroke-width="0.5" />
<line x1="400.80" y1="264.63" x2="402.00" y2="264.63" stroke="#222" stroke-width="0.5" />
<line x1="400.80" y1="260.97" x2="402.00" y2="260.97" stroke="#222" stroke-width="0.5" />
<line x1="400.80" y1="258.56" x2="402.00" y2="258.56" stroke="#222" stroke-width="0.5" />
<line x1="400.80" y1="284.03" x2="402.00" y2="284.03" stroke="#222" stroke-width="0.5" />
<line x1="400.80" y1="281.13" x2="402.00" y2="281.13" stroke="#222" stroke-width="0.5" />
<line x1="400.80" y1="277.47" x2="402.00" y2="277.47" stroke="#222" stroke-width="0.5" />
<line x1="400.80" y1="275.06" x2="402.00" y2="275.06" stroke="#222" stroke-width="0.5" />
<line x1="400.80" y1="300.53" x2="402.00" y2="300.53" stroke="#222" stroke-width="0.5" />
<line x1="400.80" y1="297.63" x2="402.00" y2="297.63" stroke="#222" stroke-width="0.5" />
<line x1="400.80" y1="293.97" x2="402.00" y2="293.97" stroke="#222" stroke-width="0.5" />
<line x1="400.80" y1="291.56" x2="402.00" y2="291.56" stroke="#222" stroke-width="0.5" />
<line x1="400.80" y1="317.03" x2="402.00" y2="317.03" stroke="#222" stroke-width="0.5" />
<line x1="400.80" y1="314.13" x2="402.00" y2="314.13" stroke="#222" stroke-width="0.5" />
<line x1="400.80" y1="310.47" x2="402.00" y2="310.47" stroke="#222" stroke-width="0.5" />
<line x1="400.80" y1="308.06" x2="402.00" y2="308.06" stroke="#222" stroke-width="0.5" />
<line x1="400.80" y1="333.39" x2="402.00" y2="333.39" stroke="#222" stroke-width="0.5" />
<line x1="400.80" y1="330.52" x2="402.00" y2="330.52" stroke="#222" stroke-width="0.5" />
<line x1="400.80" y1="326.91" x2="402.00" y2="326.91" stroke="#222" stroke-width="0.5" />
<line x1="400.80" y1="324.52" x2="402.00" y2="324.52" stroke="#222" stroke-width="0.5" />
<line x1="407.50" y1="338.30" x2="407.50" y2="340.30" stroke="#222" stroke-width="0.8" />
<line x1="412.92" y1="338.30" x2="412.92" y2="339.40" stroke="#222" stroke-width="0.5" />
<line x1="416.09" y1="338.30" x2="416.09" y2="339.40" stroke="#222" stroke-width="0.5" />
<line x1="420.08" y1="338.30" x2="420.08" y2="339.40" stroke="#222" stroke-width="0.5" />
<line x1="422.71" y1="338.30" x2="422.71" y2="339.40" stroke="#222" stroke-width="0.5" />
<line x1="425.50" y1="338.30" x2="425.50" y2="340.30" stroke="#222" stroke-width="0.8" />
<line x1="430.92" y1="338.30" x2="430.92" y2="339.40" stroke="#222" stroke-width="0.5" />
<line x1="434.09" y1="338.30" x2="434.09" y2="339.40" stroke="#222" stroke-width="0.5" />
<line x1="438.08" y1="338.30" x2="438.08" y2="339.40" stroke="#222" stroke-width="0.5" />
<line x1="440.71" y1="338.30" x2="440.71" y2="339.40" stroke="#222" stroke-width="0.5" />
<line x1="443.50" y1="338.30" x2="443.50" y2="340.30" stroke="#222" stroke-width="0.8" />
<line x1="448.92" y1="338.30" x2="448.92" y2="339.40" stroke="#222" stroke-width="0.5" />
<line x1="452.09" y1="338.30" x2="452.09" y2="339.40" stroke="#222" stroke-width="0.5" />
<line x1="456.08" y1="338.30" x2="456.08" y2="339.40" stroke="#222" stroke-width="0.5" />
<line x1="458.71" y1="338.30" x2="458.71" y2="339.40" stroke="#222" stroke-width="0.5" />
<line x1="461.50" y1="338.30" x2="461.50" y2="340.30" stroke="#222" stroke-width="0.8" />
<line x1="466.92" y1="338.30" x2="466.92" y2="339.40" stroke="#222" stroke-width="0.5" />
<line x1="470.09" y1="338.30" x2="470.09" y2="339.40" stroke="#222" stroke-width="0.5" />
<line x1="474.08" y1="338.30" x2="474.08" y2="339.40" stroke="#222" stroke-width="0.5" />
<line x1="476.71" y1="338.30" x2="476.71" y2="339.40" stroke="#222" stroke-width="0.5" />
<line x1="479.50" y1="338.30" x2="479.50" y2="340.30" stroke="#222" stroke-width="0.8" />
<line x1="484.92" y1="338.30" x2="484.92" y2="339.40" stroke="#222" stroke-width="0.5" />
<line x1="488.09" y1="338.30" x2="488.09" y2="339.40" stroke="#222" stroke-width="0.5" />
<path d="M429.70 249.40V308.2H492.00" fill="none" stroke="#222" stroke-width="1"/>
<rect x="499.40" y="249.20" width="89.40" height="90.00" fill="none" stroke="#222" stroke-width="1.0" />
<line x1="497.20" y1="256.00" x2="499.40" y2="256.00" stroke="#222" stroke-width="0.8" />
<line x1="497.20" y1="272.50" x2="499.40" y2="272.50" stroke="#222" stroke-width="0.8" />
<line x1="497.20" y1="289.00" x2="499.40" y2="289.00" stroke="#222" stroke-width="0.8" />
<line x1="497.20" y1="305.50" x2="499.40" y2="305.50" stroke="#222" stroke-width="0.8" />
<line x1="497.20" y1="322.00" x2="499.40" y2="322.00" stroke="#222" stroke-width="0.8" />
<line x1="497.20" y1="338.30" x2="499.40" y2="338.30" stroke="#222" stroke-width="0.8" />
<line x1="498.20" y1="267.53" x2="499.40" y2="267.53" stroke="#222" stroke-width="0.5" />
<line x1="498.20" y1="264.63" x2="499.40" y2="264.63" stroke="#222" stroke-width="0.5" />
<line x1="498.20" y1="260.97" x2="499.40" y2="260.97" stroke="#222" stroke-width="0.5" />
<line x1="498.20" y1="258.56" x2="499.40" y2="258.56" stroke="#222" stroke-width="0.5" />
<line x1="498.20" y1="284.03" x2="499.40" y2="284.03" stroke="#222" stroke-width="0.5" />
<line x1="498.20" y1="281.13" x2="499.40" y2="281.13" stroke="#222" stroke-width="0.5" />
<line x1="498.20" y1="277.47" x2="499.40" y2="277.47" stroke="#222" stroke-width="0.5" />
<line x1="498.20" y1="275.06" x2="499.40" y2="275.06" stroke="#222" stroke-width="0.5" />
<line x1="498.20" y1="300.53" x2="499.40" y2="300.53" stroke="#222" stroke-width="0.5" />
<line x1="498.20" y1="297.63" x2="499.40" y2="297.63" stroke="#222" stroke-width="0.5" />
<line x1="498.20" y1="293.97" x2="499.40" y2="293.97" stroke="#222" stroke-width="0.5" />
<line x1="498.20" y1="291.56" x2="499.40" y2="291.56" stroke="#222" stroke-width="0.5" />
<line x1="498.20" y1="317.03" x2="499.40" y2="317.03" stroke="#222" stroke-width="0.5" />
<line x1="498.20" y1="314.13" x2="499.40" y2="314.13" stroke="#222" stroke-width="0.5" />
<line x1="498.20" y1="310.47" x2="499.40" y2="310.47" stroke="#222" stroke-width="0.5" />
<line x1="498.20" y1="308.06" x2="499.40" y2="308.06" stroke="#222" stroke-width="0.5" />
<line x1="498.20" y1="333.39" x2="499.40" y2="333.39" stroke="#222" stroke-width="0.5" />
<line x1="498.20" y1="330.52" x2="499.40" y2="330.52" stroke="#222" stroke-width="0.5" />
<line x1="498.20" y1="326.91" x2="499.40" y2="326.91" stroke="#222" stroke-width="0.5" />
<line x1="498.20" y1="324.52" x2="499.40" y2="324.52" stroke="#222" stroke-width="0.5" />
<line x1="504.90" y1="339.20" x2="504.90" y2="341.20" stroke="#222" stroke-width="0.8" />
<line x1="510.32" y1="339.20" x2="510.32" y2="340.30" stroke="#222" stroke-width="0.5" />
<line x1="513.49" y1="339.20" x2="513.49" y2="340.30" stroke="#222" stroke-width="0.5" />
<line x1="517.48" y1="339.20" x2="517.48" y2="340.30" stroke="#222" stroke-width="0.5" />
<line x1="520.11" y1="339.20" x2="520.11" y2="340.30" stroke="#222" stroke-width="0.5" />
<line x1="522.90" y1="339.20" x2="522.90" y2="341.20" stroke="#222" stroke-width="0.8" />
<line x1="528.32" y1="339.20" x2="528.32" y2="340.30" stroke="#222" stroke-width="0.5" />
<line x1="531.49" y1="339.20" x2="531.49" y2="340.30" stroke="#222" stroke-width="0.5" />
<line x1="535.48" y1="339.20" x2="535.48" y2="340.30" stroke="#222" stroke-width="0.5" />
<line x1="538.11" y1="339.20" x2="538.11" y2="340.30" stroke="#222" stroke-width="0.5" />
<line x1="540.90" y1="339.20" x2="540.90" y2="341.20" stroke="#222" stroke-width="0.8" />
<line x1="546.32" y1="339.20" x2="546.32" y2="340.30" stroke="#222" stroke-width="0.5" />
<line x1="549.49" y1="339.20" x2="549.49" y2="340.30" stroke="#222" stroke-width="0.5" />
<line x1="553.48" y1="339.20" x2="553.48" y2="340.30" stroke="#222" stroke-width="0.5" />
<line x1="556.11" y1="339.20" x2="556.11" y2="340.30" stroke="#222" stroke-width="0.5" />
<line x1="558.90" y1="339.20" x2="558.90" y2="341.20" stroke="#222" stroke-width="0.8" />
<line x1="564.32" y1="339.20" x2="564.32" y2="340.30" stroke="#222" stroke-width="0.5" />
<line x1="567.49" y1="339.20" x2="567.49" y2="340.30" stroke="#222" stroke-width="0.5" />
<line x1="571.48" y1="339.20" x2="571.48" y2="340.30" stroke="#222" stroke-width="0.5" />
<line x1="574.11" y1="339.20" x2="574.11" y2="340.30" stroke="#222" stroke-width="0.5" />
<line x1="576.90" y1="339.20" x2="576.90" y2="341.20" stroke="#222" stroke-width="0.8" />
<line x1="582.32" y1="339.20" x2="582.32" y2="340.30" stroke="#222" stroke-width="0.5" />
<line x1="585.49" y1="339.20" x2="585.49" y2="340.30" stroke="#222" stroke-width="0.5" />
<path d="M526.40 249.20V308.2H588.80" fill="none" stroke="#222" stroke-width="1"/>
<rect x="595.30" y="249.20" width="91.20" height="90.00" fill="none" stroke="#222" stroke-width="1.0" />
<line x1="593.10" y1="256.00" x2="595.30" y2="256.00" stroke="#222" stroke-width="0.8" />
<line x1="593.10" y1="272.50" x2="595.30" y2="272.50" stroke="#222" stroke-width="0.8" />
<line x1="593.10" y1="289.00" x2="595.30" y2="289.00" stroke="#222" stroke-width="0.8" />
<line x1="593.10" y1="305.50" x2="595.30" y2="305.50" stroke="#222" stroke-width="0.8" />
<line x1="593.10" y1="322.00" x2="595.30" y2="322.00" stroke="#222" stroke-width="0.8" />
<line x1="593.10" y1="338.30" x2="595.30" y2="338.30" stroke="#222" stroke-width="0.8" />
<line x1="594.10" y1="267.53" x2="595.30" y2="267.53" stroke="#222" stroke-width="0.5" />
<line x1="594.10" y1="264.63" x2="595.30" y2="264.63" stroke="#222" stroke-width="0.5" />
<line x1="594.10" y1="260.97" x2="595.30" y2="260.97" stroke="#222" stroke-width="0.5" />
<line x1="594.10" y1="258.56" x2="595.30" y2="258.56" stroke="#222" stroke-width="0.5" />
<line x1="594.10" y1="284.03" x2="595.30" y2="284.03" stroke="#222" stroke-width="0.5" />
<line x1="594.10" y1="281.13" x2="595.30" y2="281.13" stroke="#222" stroke-width="0.5" />
<line x1="594.10" y1="277.47" x2="595.30" y2="277.47" stroke="#222" stroke-width="0.5" />
<line x1="594.10" y1="275.06" x2="595.30" y2="275.06" stroke="#222" stroke-width="0.5" />
<line x1="594.10" y1="300.53" x2="595.30" y2="300.53" stroke="#222" stroke-width="0.5" />
<line x1="594.10" y1="297.63" x2="595.30" y2="297.63" stroke="#222" stroke-width="0.5" />
<line x1="594.10" y1="293.97" x2="595.30" y2="293.97" stroke="#222" stroke-width="0.5" />
<line x1="594.10" y1="291.56" x2="595.30" y2="291.56" stroke="#222" stroke-width="0.5" />
<line x1="594.10" y1="317.03" x2="595.30" y2="317.03" stroke="#222" stroke-width="0.5" />
<line x1="594.10" y1="314.13" x2="595.30" y2="314.13" stroke="#222" stroke-width="0.5" />
<line x1="594.10" y1="310.47" x2="595.30" y2="310.47" stroke="#222" stroke-width="0.5" />
<line x1="594.10" y1="308.06" x2="595.30" y2="308.06" stroke="#222" stroke-width="0.5" />
<line x1="594.10" y1="333.39" x2="595.30" y2="333.39" stroke="#222" stroke-width="0.5" />
<line x1="594.10" y1="330.52" x2="595.30" y2="330.52" stroke="#222" stroke-width="0.5" />
<line x1="594.10" y1="326.91" x2="595.30" y2="326.91" stroke="#222" stroke-width="0.5" />
<line x1="594.10" y1="324.52" x2="595.30" y2="324.52" stroke="#222" stroke-width="0.5" />
<line x1="600.80" y1="339.20" x2="600.80" y2="341.20" stroke="#222" stroke-width="0.8" />
<line x1="606.22" y1="339.20" x2="606.22" y2="340.30" stroke="#222" stroke-width="0.5" />
<line x1="609.39" y1="339.20" x2="609.39" y2="340.30" stroke="#222" stroke-width="0.5" />
<line x1="613.38" y1="339.20" x2="613.38" y2="340.30" stroke="#222" stroke-width="0.5" />
<line x1="616.01" y1="339.20" x2="616.01" y2="340.30" stroke="#222" stroke-width="0.5" />
<line x1="618.80" y1="339.20" x2="618.80" y2="341.20" stroke="#222" stroke-width="0.8" />
<line x1="624.22" y1="339.20" x2="624.22" y2="340.30" stroke="#222" stroke-width="0.5" />
<line x1="627.39" y1="339.20" x2="627.39" y2="340.30" stroke="#222" stroke-width="0.5" />
<line x1="631.38" y1="339.20" x2="631.38" y2="340.30" stroke="#222" stroke-width="0.5" />
<line x1="634.01" y1="339.20" x2="634.01" y2="340.30" stroke="#222" stroke-width="0.5" />
<line x1="636.80" y1="339.20" x2="636.80" y2="341.20" stroke="#222" stroke-width="0.8" />
<line x1="642.22" y1="339.20" x2="642.22" y2="340.30" stroke="#222" stroke-width="0.5" />
<line x1="645.39" y1="339.20" x2="645.39" y2="340.30" stroke="#222" stroke-width="0.5" />
<line x1="649.38" y1="339.20" x2="649.38" y2="340.30" stroke="#222" stroke-width="0.5" />
<line x1="652.01" y1="339.20" x2="652.01" y2="340.30" stroke="#222" stroke-width="0.5" />
<line x1="654.80" y1="339.20" x2="654.80" y2="341.20" stroke="#222" stroke-width="0.8" />
<line x1="660.22" y1="339.20" x2="660.22" y2="340.30" stroke="#222" stroke-width="0.5" />
<line x1="663.39" y1="339.20" x2="663.39" y2="340.30" stroke="#222" stroke-width="0.5" />
<line x1="667.38" y1="339.20" x2="667.38" y2="340.30" stroke="#222" stroke-width="0.5" />
<line x1="670.01" y1="339.20" x2="670.01" y2="340.30" stroke="#222" stroke-width="0.5" />
<line x1="672.80" y1="339.20" x2="672.80" y2="341.20" stroke="#222" stroke-width="0.8" />
<line x1="678.22" y1="339.20" x2="678.22" y2="340.30" stroke="#222" stroke-width="0.5" />
<line x1="681.39" y1="339.20" x2="681.39" y2="340.30" stroke="#222" stroke-width="0.5" />
<line x1="685.38" y1="339.20" x2="685.38" y2="340.30" stroke="#222" stroke-width="0.5" />
<path d="M622.60 249.20V308.2H686.50" fill="none" stroke="#222" stroke-width="1"/>
<text x="376.20" y="264.50" font-size="10" fill="#0d0d0d" textLength="11.2" lengthAdjust="spacingAndGlyphs" stroke="#0d0d0d" stroke-width="0.22">10</text>
<text x="391.30" y="257.80" font-size="10.3" fill="#0d0d0d" stroke="#0d0d0d" stroke-width="0.22">5</text>
<text x="376.20" y="279.50" font-size="10" fill="#0d0d0d" textLength="11.2" lengthAdjust="spacingAndGlyphs" stroke="#0d0d0d" stroke-width="0.22">10</text>
<text x="391.30" y="273.50" font-size="10.3" fill="#0d0d0d" stroke="#0d0d0d" stroke-width="0.22">4</text>
<text x="376.20" y="295.50" font-size="10" fill="#0d0d0d" textLength="11.2" lengthAdjust="spacingAndGlyphs" stroke="#0d0d0d" stroke-width="0.22">10</text>
<text x="391.30" y="289.70" font-size="10.3" fill="#0d0d0d" stroke="#0d0d0d" stroke-width="0.22">3</text>
<text x="376.20" y="312.50" font-size="10" fill="#0d0d0d" textLength="11.2" lengthAdjust="spacingAndGlyphs" stroke="#0d0d0d" stroke-width="0.22">10</text>
<text x="391.30" y="307.20" font-size="10.3" fill="#0d0d0d" stroke="#0d0d0d" stroke-width="0.22">2</text>
<text x="376.20" y="328.70" font-size="10" fill="#0d0d0d" textLength="11.2" lengthAdjust="spacingAndGlyphs" stroke="#0d0d0d" stroke-width="0.22">10</text>
<text x="391.30" y="322.80" font-size="10.3" fill="#0d0d0d" stroke="#0d0d0d" stroke-width="0.22">1</text>
<text x="376.20" y="347.50" font-size="10" fill="#0d0d0d" textLength="11.2" lengthAdjust="spacingAndGlyphs" stroke="#0d0d0d" stroke-width="0.22">10</text>
<text x="391.30" y="341.00" font-size="10.3" fill="#0d0d0d" stroke="#0d0d0d" stroke-width="0.22">0</text>
<text x="401.00" y="360.60" font-size="10" fill="#0d0d0d" textLength="11.2" lengthAdjust="spacingAndGlyphs" stroke="#0d0d0d" stroke-width="0.22">10</text>
<text x="413.10" y="351.00" font-size="10.3" fill="#0d0d0d" stroke="#0d0d0d" stroke-width="0.22">1</text>
<text x="418.00" y="359.20" font-size="10" fill="#0d0d0d" textLength="11.2" lengthAdjust="spacingAndGlyphs" stroke="#0d0d0d" stroke-width="0.22">10</text>
<text x="430.70" y="351.00" font-size="10.3" fill="#0d0d0d" stroke="#0d0d0d" stroke-width="0.22">2</text>
<text x="436.70" y="360.60" font-size="10" fill="#0d0d0d" textLength="11.2" lengthAdjust="spacingAndGlyphs" stroke="#0d0d0d" stroke-width="0.22">10</text>
<text x="450.10" y="351.00" font-size="10.3" fill="#0d0d0d" stroke="#0d0d0d" stroke-width="0.22">3</text>
<text x="456.60" y="360.60" font-size="10" fill="#0d0d0d" textLength="11.2" lengthAdjust="spacingAndGlyphs" stroke="#0d0d0d" stroke-width="0.22">10</text>
<text x="468.50" y="351.00" font-size="10.3" fill="#0d0d0d" stroke="#0d0d0d" stroke-width="0.22">4</text>
<text x="474.60" y="360.60" font-size="10" fill="#0d0d0d" textLength="11.2" lengthAdjust="spacingAndGlyphs" stroke="#0d0d0d" stroke-width="0.22">10</text>
<text x="486.90" y="351.00" font-size="10.3" fill="#0d0d0d" stroke="#0d0d0d" stroke-width="0.22">5</text>
<text x="446.70" y="259.60" font-size="10.5" fill="#0d0d0d" textLength="28.3" lengthAdjust="spacingAndGlyphs" stroke="#0d0d0d" stroke-width="0.22">0.6 %</text>
<text x="541.80" y="259.80" font-size="10.5" fill="#0d0d0d" textLength="34.2" lengthAdjust="spacingAndGlyphs" stroke="#0d0d0d" stroke-width="0.22">97.3 %</text>
<text x="638.00" y="259.80" font-size="10.5" fill="#0d0d0d" textLength="34.2" lengthAdjust="spacingAndGlyphs" stroke="#0d0d0d" stroke-width="0.22">99.8 %</text>
<path transform="scale(.1)" d="M4704 3213h0M4621 3282h0M4696 3238h0M4690 3337h0M4729 3310h0M4666 3175h0M4627 3192h0M4537 3343h0M4688 3219h0M4727 3181h0M4694 3275h0M4598 3352h0M4689 3262h0M4626 3161h0M4772 3168h0M4659 3250h0M4758 3015h0M4760 3233h0M4729 3129h0M4698 3343h0M4676 3161h0M4658 3169h0M4724 3228h0M4655 3276h0M4623 3095h0M4813 3160h0M4768 3205h0M4669 3254h0M4635 3143h0M4670 3180h0M4720 3370h0M4618 3140h0M4722 3253h0M4741 3151h0M4713 3207h0M4594 3248h0M4597 3256h0M4657 3196h0M4796 3336h0M4704 3244h0M4640 3313h0M4715 3141h0M4592 3212h0M4672 3282h0M4626 3140h0M4704 3219h0M4732 3303h0M4633 3019h0M4684 3152h0M4694 2991h0M4676 3219h0M4651 3254h0M4687 3231h0M4751 3317h0M4746 3242h0M4689 3258h0M4698 3152h0M4702 3287h0M4659 3123h0M4712 3151h0M4601 3192h0M4603 3239h0M4654 3218h0M4742 3303h0M4676 3028h0M4656 3117h0M4729 3339h0M4719 3264h0M4711 3268h0M4661 3285h0M4665 3118h0M4684 3342h0M4671 3068h0M4748 3232h0M4711 3174h0M4707 3343h0M4647 3268h0M4700 3142h0M4691 3260h0M4636 3307h0M4622 3306h0M4715 3233h0M4640 3149h0M4563 3210h0M4675 3257h0M4736 3228h0M4663 3292h0M4681 3210h0M4619 3298h0M4646 3369h0M4635 3173h0M4686 3155h0M4604 3120h0M4638 3193h0M4734 3266h0M4698 3278h0M4565 3162h0M4652 3128h0M4707 3159h0M4623 3284h0M4647 3192h0M4601 3285h0M4684 3329h0M4799 3266h0M4662 3148h0M4769 3196h0M4715 3232h0M4502 3224h0M4690 3228h0M4674 3231h0M4628 3261h0M4654 3225h0M4769 3230h0M4627 3242h0M4605 3226h0M4756 3127h0M4674 3142h0M4691 3239h0M4691 3190h0M4581 3140h0M4658 3278h0M4575 3300h0M4642 3077h0M4759 3240h0M4632 3233h0M4713 3097h0M4749 3144h0M4725 3167h0M4598 3164h0M4654 3222h0M4593 3131h0M4698 3181h0M4654 3247h0M4611 3372h0M4642 3241h0M4672 3291h0M4658 3149h0M4694 3260h0M4673 3375h0M4721 3321h0M4748 3294h0M4671 3342h0M4662 3223h0M4754 3286h0M4624 3187h0M4634 3303h0M4662 3213h0M4645 3171h0M4716 3131h0M4684 3172h0M4662 3109h0M4742 3083h0M4617 3178h0M4684 3151h0M4596 3173h0M4628 3157h0M4764 3047h0M4679 3240h0M4659 3182h0M4736 3194h0M4590 3180h0M4699 3179h0M4650 3224h0M4654 3220h0M4714 3160h0M4598 3314h0M4700 3148h0M4606 3210h0M4690 3248h0M4699 3175h0M4659 3090h0M4641 3172h0M4735 3106h0M4776 3280h0M4653 3162h0M4691 3240h0M4716 3073h0M4662 3249h0M4726 3245h0M4675 3234h0M4653 3345h0M4727 3241h0M4650 3206h0M4699 3217h0M4764 3372h0M4730 3119h0M4716 3170h0M4680 3363h0M4591 3103h0M4647 3271h0M4659 3056h0M4700 3261h0M4744 3218h0M4737 3165h0M4726 3304h0M4666 3181h0M4743 3153h0M4634 3214h0M4710 3282h0M4656 3251h0M4635 3121h0M4806 3153h0M4602 3236h0M4642 3267h0M4551 3122h0M4734 3232h0M4633 3328h0M4734 3184h0M4739 3259h0M4616 3150h0M4689 3126h0M4599 3170h0M4716 3220h0M4627 3016h0M4718 3188h0M4720 3199h0M4652 3223h0M4640 3164h0M4630 3035h0M4731 3290h0M4648 3174h0M4795 3249h0M4656 3110h0M4766 3308h0M4635 3260h0M4629 3181h0M4734 3185h0M4642 3092h0M4708 3191h0M4615 3367h0M4642 3165h0M4698 3184h0M4680 3239h0M4652 3133h0M4662 3287h0M4678 3329h0M4683 3136h0M4690 3193h0M4654 3192h0M4727 3275h0M4697 3226h0M4712 3265h0M4700 3155h0M4741 3300h0M4748 2979h0M4709 3224h0M4539 3305h0M4580 3171h0M4689 3295h0M4666 3160h0M4588 3190h0M4711 3102h0M4759 2988h0M4650 3175h0M4683 3236h0M4737 3162h0M4599 3117h0M4662 3139h0M4662 3194h0M4679 3280h0M4700 3103h0M4640 3164h0M4651 3270h0M4725 3232h0M4757 3135h0M4680 3299h0M4679 3159h0M4639 3289h0M4722 3364h0M4782 3229h0M4656 3143h0M4656 3359h0M4672 3159h0M4671 3241h0M4644 3152h0M4648 3318h0M4679 3252h0M4710 3058h0M4703 3119h0M4660 3062h0M4721 3225h0M4630 3307h0M4636 3321h0M4619 3250h0M4616 3108h0M4648 3190h0M4620 3246h0M4764 3273h0M4640 3370h0M4595 3345h0M4671 3135h0M4680 3208h0M4737 3261h0M4662 3283h0M4664 3127h0M4617 3129h0M4692 3179h0M4719 3100h0M4683 3242h0M4688 3241h0M4532 3104h0M4640 3215h0M4645 3194h0M4724 3168h0M4740 3201h0M4679 3259h0M4771 3224h0M4642 3318h0M4708 3145h0M4600 3202h0M4650 3154h0M4693 3269h0M4750 3224h0M4625 3109h0M4605 3256h0M4589 3156h0M4609 3175h0M4653 3180h0M4762 3276h0M4659 3125h0M4707 3185h0M4674 3121h0M4701 3235h0M4712 3218h0M4690 3125h0M4736 3236h0M4767 3187h0M4662 3293h0M4656 3251h0M4674 3196h0M4567 3239h0M4683 3099h0M4741 3047h0M4726 3155h0M4721 3281h0M4513 3215h0M4682 3331h0M4684 3107h0M4657 3372h0M4677 3360h0M4727 3150h0M4718 3229h0M4709 3230h0M4640 3288h0M4685 3188h0M4679 3173h0M4678 3199h0M4609 3347h0M4692 3192h0M4595 3319h0M4704 3285h0M4677 3274h0M4653 3213h0M4685 3108h0M4698 3241h0M4630 3137h0M4809 3223h0M4652 3252h0M4607 3083h0M4645 3284h0M4733 3236h0M4775 3102h0M4622 3332h0M4722 3208h0M4705 3161h0M4785 3174h0M4730 3196h0M4649 3101h0M4666 3198h0M4635 3091h0M4612 3082h0M4750 3185h0M4643 3281h0M4695 3259h0M4734 3199h0M4578 3242h0M4684 3188h0M4628 3259h0M4687 3339h0M4609 3109h0M4701 3247h0M4659 3296h0M4678 3301h0M4670 3232h0M4709 3126h0M4729 3156h0M4724 3130h0M4562 3215h0M4592 3370h0M4576 3112h0M4732 3262h0M4643 3339h0M4764 3130h0M4665 3229h0M4714 3202h0M4711 3120h0M4671 3092h0M4684 3285h0M4622 3289h0M4615 3000h0M4635 3193h0M4719 3266h0M4617 3145h0M4713 3219h0M4623 3109h0M4705 3195h0M4673 3128h0M4616 3148h0M4623 3267h0M4690 3207h0M4486 3112h0M4707 3169h0M4702 3045h0M4627 3262h0M4711 3318h0M4816 3197h0M4712 3145h0M4771 3153h0M4637 3245h0M4659 3269h0M4633 3176h0M4682 3209h0M4638 3161h0M4845 3207h0M4662 3090h0M4624 3291h0M4684 3350h0M4648 3185h0M4692 3283h0M4638 3303h0M4667 3214h0M4655 3284h0M4794 3199h0M4584 3079h0M4700 3252h0M4702 3258h0M4668 3303h0M4715 3164h0M4655 3287h0M4736 3181h0M4723 3203h0M4613 3176h0M4662 3068h0M4705 3245h0M4748 3291h0M4622 3213h0M4768 3240h0M4688 3208h0M4737 3203h0M4689 3222h0M4653 3080h0M4595 3292h0M4781 3213h0M4697 3251h0M4657 3268h0M4728 3156h0M4598 3270h0M4641 3237h0M4642 3293h0M4776 3117h0M4727 3220h0M4661 3126h0M4669 3032h0M4754 3243h0M4684 3320h0M4690 3249h0M4722 3119h0M4646 3148h0M4679 3237h0M4764 3167h0M4680 3179h0M4736 3216h0M4736 3272h0M4649 3333h0M4710 3287h0M4649 3239h0M4664 3253h0M4662 3288h0M4623 3280h0M4723 3148h0M4699 3296h0M4736 3328h0M4721 3216h0M4739 3166h0M4673 3227h0M4721 3341h0M4748 3264h0M4724 3319h0M4700 3236h0M4737 3220h0M4743 3148h0M4753 3221h0M4667 3260h0M4696 3238h0M4602 3161h0M4738 3146h0M4578 3274h0M4735 3361h0M4742 3199h0M4678 3105h0M4656 3101h0M4652 3104h0M4648 3215h0M4658 3268h0M4670 3172h0M4660 3130h0M4726 3173h0M4680 3167h0M4741 3326h0M4696 3159h0M4605 3271h0M4746 3267h0M4639 3035h0M4766 3208h0M4748 3304h0M4702 3262h0M4703 3129h0M4588 3283h0M4704 3158h0M4760 3010h0M4666 3161h0M4617 3190h0M4662 3332h0M4702 3241h0M4723 3189h0M4732 3316h0M4697 3132h0M4673 3211h0M4788 3225h0M4756 3173h0M4661 3139h0M4653 3326h0M4685 3179h0M4694 3229h0M4664 3126h0M4733 3251h0M4759 3160h0M4672 3102h0M4700 3300h0M4569 3270h0M4691 3213h0M4699 3216h0M4651 3309h0M4682 3072h0M4725 3249h0M4641 3174h0M4676 3256h0M4667 3238h0M4760 3209h0M4697 3201h0M4735 3282h0M4730 3199h0M4661 3281h0M4714 3211h0M4697 3244h0M4752 3192h0M4706 3140h0M4633 3194h0M4594 3240h0M4668 3170h0" stroke="#6f86cf" stroke-width="7.5" stroke-linecap="round" fill="none" opacity="0.8" />
<path transform="scale(.1)" d="M4668 3278h0M4635 3197h0M4696 3213h0M4612 3243h0M4685 3196h0M4655 3215h0M4637 3237h0M4669 3129h0M4643 3150h0M4680 3232h0M4660 3201h0M4641 3252h0M4729 3096h0M4657 3186h0M4631 3165h0M4683 3299h0M4687 3273h0M4727 3167h0M4673 3155h0M4617 3258h0M4652 3202h0M4666 3218h0M4700 3186h0M4661 3202h0M4660 3178h0M4687 3289h0M4634 3207h0M4670 3221h0M4657 3246h0M4709 3147h0M4635 3217h0M4658 3114h0M4673 3156h0M4653 3227h0M4632 3270h0M4663 3205h0M4670 3151h0M4656 3084h0M4704 3160h0M4737 3212h0M4707 3220h0M4683 3205h0M4701 3137h0M4658 3177h0M4673 3246h0M4680 3163h0M4621 3147h0M4697 3231h0M4672 3272h0M4636 3321h0M4643 3294h0M4643 3236h0M4671 3113h0M4660 3167h0M4661 3206h0M4678 3259h0M4718 3131h0M4667 3286h0M4718 3192h0M4694 3156h0M4686 3130h0M4640 3184h0M4641 3166h0M4664 3194h0M4668 3166h0M4721 3274h0M4698 3115h0M4657 3214h0M4661 3220h0M4650 3214h0M4614 3249h0M4688 3189h0M4623 3138h0M4709 3192h0M4672 3173h0M4657 3283h0M4684 3180h0M4709 3120h0M4708 3241h0M4656 3296h0M4624 3277h0M4667 3159h0M4633 3203h0M4623 3253h0M4714 3283h0M4695 3180h0M4654 3131h0M4687 3182h0M4703 3129h0M4672 3138h0M4667 3198h0M4704 3258h0M4713 3145h0M4689 3236h0M4641 3174h0M4694 3129h0M4719 3132h0M4678 3105h0M4691 3189h0M4613 3253h0M4658 3243h0M4710 3243h0M4685 3175h0M4673 3231h0M4683 3168h0M4727 3113h0M4631 3096h0M4697 3155h0M4658 3185h0M4727 3124h0M4688 3222h0M4710 3247h0M4672 3201h0M4694 3197h0M4627 3173h0M4676 3196h0M4693 3232h0M4629 3138h0M4721 3125h0M4664 3163h0M4704 3144h0M4653 3173h0M4663 3329h0M4638 3185h0M4673 3241h0M4701 3273h0M4650 3169h0M4659 3266h0M4642 3288h0M4702 3192h0M4680 3148h0M4697 3200h0M4667 3125h0M4689 3195h0M4671 3267h0M4691 3127h0M4678 3266h0M4694 3094h0M4643 3163h0M4667 3268h0M4641 3274h0M4716 3142h0M4715 3286h0M4730 3219h0M4672 3231h0M4688 3248h0M4663 3180h0M4698 3212h0M4651 3180h0M4678 3228h0M4707 3328h0M4663 3190h0M4684 3151h0M4648 3153h0M4697 3249h0M4632 3299h0M4655 3225h0M4663 3222h0M4711 3218h0M4713 3161h0M4666 3216h0M4691 3289h0M4652 3141h0M4651 3167h0M4658 3209h0M4654 3266h0M4686 3175h0M4637 3192h0M4699 3137h0M4664 3211h0M4690 3180h0M4638 3120h0M4717 3183h0M4639 3187h0M4660 3182h0M4684 3190h0M4740 3135h0M4687 3228h0M4676 3188h0M4687 3146h0M4688 3133h0M4675 3160h0M4658 3171h0M4663 3192h0M4715 3136h0M4670 3209h0M4667 3173h0M4671 3160h0M4680 3071h0M4720 3184h0M4638 3232h0M4689 3235h0M4645 3194h0M4695 3180h0M4659 3086h0M4683 3095h0M4689 3124h0M4681 3201h0M4689 3264h0M4711 3177h0M4646 3279h0M4707 3201h0M4676 3247h0M4649 3223h0M4705 3296h0M4650 3223h0M4622 3129h0M4642 3184h0M4698 3188h0M4659 3232h0M4691 3226h0M4672 3131h0M4686 3181h0M4703 3258h0M4694 3322h0M4679 3197h0M4628 3239h0M4667 3178h0M4646 3266h0M4718 3176h0M4620 3183h0M4685 3247h0M4697 3217h0M4634 3153h0M4663 3182h0M4674 3343h0M4639 3226h0M4704 3154h0M4686 3181h0M4643 3163h0M4623 3197h0M4683 3181h0M4671 3229h0M4718 3301h0M4676 3246h0M4662 3188h0M4723 3189h0M4680 3229h0M4696 3242h0M4640 3172h0M4699 3179h0M4674 3146h0M4655 3263h0M4615 3178h0M4656 3240h0M4642 3167h0M4626 3263h0M4679 3242h0M4674 3204h0M4735 3096h0M4698 3299h0M4709 3184h0M4701 3281h0M4713 3178h0M4686 3082h0M4607 3261h0M4673 3141h0M4665 3163h0M4716 3143h0M4686 3155h0" stroke="#5b8fd0" stroke-width="8" stroke-linecap="round" fill="none" opacity="0.8" />
<path transform="scale(.1)" d="M4701 3212h0M4667 3209h0M4667 3167h0M4668 3156h0M4686 3280h0M4630 3236h0M4665 3143h0M4661 3208h0M4668 3172h0M4677 3155h0M4662 3255h0M4688 3140h0M4682 3192h0M4641 3194h0M4669 3172h0M4704 3185h0M4647 3159h0M4653 3179h0M4661 3224h0M4680 3161h0M4653 3224h0M4652 3215h0M4654 3145h0M4657 3171h0M4647 3220h0M4641 3153h0M4659 3221h0M4668 3204h0M4643 3241h0M4657 3100h0M4662 3126h0M4659 3186h0M4686 3155h0M4662 3153h0M4631 3122h0M4666 3224h0M4651 3131h0M4704 3221h0M4659 3148h0M4665 3202h0M4670 3266h0M4662 3250h0M4661 3238h0M4667 3189h0M4643 3162h0M4667 3196h0M4640 3190h0M4684 3189h0M4683 3217h0M4706 3215h0M4681 3118h0M4673 3229h0M4697 3155h0M4659 3184h0M4674 3181h0M4682 3202h0M4658 3214h0M4706 3221h0M4666 3128h0M4672 3160h0M4648 3152h0M4662 3179h0M4655 3165h0M4677 3152h0M4723 3241h0M4662 3125h0M4691 3213h0M4654 3262h0M4660 3188h0M4653 3156h0M4648 3167h0M4609 3192h0M4642 3185h0M4678 3184h0M4663 3218h0M4662 3151h0M4638 3189h0M4657 3198h0M4659 3176h0M4685 3192h0M4643 3154h0M4649 3178h0M4698 3193h0M4664 3183h0M4676 3212h0M4657 3204h0M4636 3190h0M4662 3216h0M4648 3261h0M4646 3144h0M4659 3223h0M4658 3181h0M4688 3201h0M4682 3218h0M4680 3211h0M4669 3275h0M4683 3222h0M4679 3169h0M4632 3186h0M4641 3256h0M4641 3207h0M4659 3306h0M4679 3202h0M4693 3229h0M4646 3197h0M4636 3178h0M4675 3235h0M4674 3198h0M4641 3227h0M4667 3136h0M4666 3223h0M4639 3213h0M4668 3211h0M4630 3181h0M4675 3226h0M4681 3149h0M4679 3142h0M4653 3143h0M4638 3122h0M4644 3171h0M4642 3160h0M4642 3201h0M4696 3094h0M4665 3207h0M4670 3164h0M4618 3216h0M4671 3121h0M4704 3150h0M4635 3195h0M4662 3224h0M4684 3160h0M4662 3249h0M4661 3238h0M4670 3173h0M4696 3130h0M4628 3188h0M4664 3182h0M4678 3228h0M4632 3210h0M4687 3189h0M4650 3173h0M4665 3204h0M4656 3173h0M4646 3252h0M4653 3244h0M4647 3201h0M4674 3182h0M4655 3169h0M4654 3258h0M4690 3202h0M4670 3163h0M4670 3129h0M4672 3188h0M4683 3221h0M4680 3288h0M4643 3139h0M4642 3141h0M4661 3193h0M4719 3190h0M4651 3299h0M4680 3233h0M4675 3140h0M4660 3222h0M4700 3168h0M4645 3213h0M4675 3181h0M4662 3156h0M4669 3176h0M4648 3202h0M4674 3186h0" stroke="#55b59a" stroke-width="8.5" stroke-linecap="round" fill="none" opacity="0.85" />
<path transform="scale(.1)" d="M4656 3189h0M4665 3179h0M4671 3169h0M4653 3184h0M4657 3144h0M4666 3194h0M4677 3146h0M4669 3199h0M4656 3185h0M4668 3146h0M4683 3180h0M4650 3198h0M4683 3152h0M4671 3157h0M4649 3185h0M4668 3186h0M4662 3193h0M4652 3228h0M4665 3195h0M4656 3185h0M4641 3196h0M4665 3202h0M4665 3201h0M4677 3196h0M4685 3154h0M4659 3198h0M4688 3208h0M4659 3173h0M4637 3220h0M4644 3189h0M4663 3185h0M4655 3206h0M4658 3190h0M4654 3214h0M4679 3172h0M4649 3160h0M4661 3197h0M4650 3193h0M4663 3144h0M4678 3165h0M4662 3164h0M4675 3172h0M4674 3178h0M4666 3193h0M4663 3189h0M4665 3166h0M4667 3157h0M4658 3158h0M4665 3160h0M4670 3178h0" stroke="#74c46a" stroke-width="8.5" stroke-linecap="round" fill="none" opacity="0.85" />
<path transform="scale(.1)" d="M4336 3265h0M4143 3260h0M4247 3246h0M4505 3247h0M4105 3042h0M4266 3249h0M4366 3125h0M4432 3273h0M4387 3281h0M4241 3244h0M4146 3189h0M4160 3302h0M4248 3188h0M4211 3172h0M4117 3001h0M4553 3169h0M4496 3277h0M4564 3169h0M4146 3348h0M4415 3173h0M4170 3134h0M4562 3283h0M4579 3021h0M4500 3092h0M4101 3347h0" stroke="#b9c4e8" stroke-width="6" stroke-linecap="round" fill="none" opacity="0.7" />
<path transform="scale(.1)" d="M5525 2772h0M5685 2694h0M5667 2767h0M5783 2593h0M5669 2673h0M5456 2852h0M5734 2616h0M5663 2745h0M5720 2601h0M5657 2698h0M5624 2755h0M5598 2687h0M5635 2723h0M5659 2737h0M5586 2738h0M5682 2716h0M5660 2655h0M5661 2784h0M5714 2674h0M5717 2600h0M5615 2781h0M5598 2780h0M5660 2704h0M5599 2780h0M5648 2701h0M5630 2769h0M5628 2727h0M5583 2757h0M5714 2672h0M5616 2736h0M5575 2792h0M5691 2679h0M5587 2736h0M5677 2678h0M5708 2763h0M5684 2693h0M5684 2622h0M5684 2724h0M5708 2640h0M5691 2656h0M5539 2810h0M5739 2656h0M5611 2788h0M5607 2759h0M5618 2746h0M5654 2682h0M5583 2676h0M5707 2712h0M5710 2619h0M5611 2706h0M5663 2703h0M5629 2805h0M5715 2619h0M5598 2704h0M5624 2763h0M5840 2547h0M5582 2724h0M5584 2734h0M5507 2832h0M5667 2621h0M5640 2720h0M5602 2777h0M5611 2702h0M5478 2796h0M5673 2712h0M5636 2721h0M5727 2665h0M5666 2708h0M5669 2750h0M5667 2682h0M5707 2639h0M5694 2718h0M5501 2863h0M5460 2837h0M5532 2827h0M5848 2552h0M5638 2732h0M5604 2732h0M5558 2815h0M5664 2631h0M5807 2632h0M5743 2585h0M5529 2814h0M5594 2734h0M5664 2702h0M5616 2762h0M5711 2695h0M5577 2779h0M5770 2587h0M5613 2707h0M5649 2741h0M5506 2840h0M5574 2735h0M5710 2704h0M5356 2932h0M5725 2628h0M5531 2778h0M5695 2738h0M5718 2643h0M5599 2749h0M5511 2886h0M5560 2836h0M5690 2665h0M5637 2773h0M5667 2653h0M5674 2643h0M5669 2642h0M5614 2708h0M5656 2690h0M5673 2721h0M5684 2621h0M5597 2714h0M5664 2666h0M5575 2729h0M5689 2651h0M5532 2771h0M5640 2787h0M5604 2686h0M5733 2669h0M5550 2874h0M5651 2777h0M5520 2772h0M5773 2616h0M5698 2635h0M5607 2727h0M5561 2835h0M5638 2677h0M5606 2741h0M5617 2733h0M5758 2629h0M5598 2730h0M5812 2654h0M5674 2689h0M5662 2743h0M5650 2747h0M5756 2588h0M5709 2717h0M5804 2566h0M5541 2780h0M5590 2802h0M5709 2649h0M5704 2660h0M5659 2743h0M5767 2624h0M5628 2718h0M5623 2785h0M5577 2720h0M5585 2729h0M5635 2690h0M5616 2799h0M5673 2656h0M5663 2736h0M5637 2694h0M5641 2640h0M5709 2653h0M5602 2690h0M5626 2684h0M5709 2612h0M5672 2669h0M5544 2716h0M5587 2713h0M5697 2631h0M5557 2805h0M5652 2687h0M5669 2719h0M5640 2716h0M5642 2687h0M5680 2674h0M5621 2666h0M5554 2830h0M5616 2762h0M5627 2708h0M5551 2743h0M5708 2730h0M5674 2756h0M5593 2751h0M5529 2802h0M5577 2805h0M5578 2740h0M5624 2770h0M5557 2866h0M5731 2646h0M5581 2798h0M5782 2634h0M5633 2749h0M5704 2646h0M5679 2709h0M5623 2688h0M5733 2619h0M5678 2737h0M5737 2633h0M5652 2694h0M5574 2739h0M5631 2733h0M5597 2790h0M5793 2638h0M5591 2732h0M5594 2769h0M5512 2807h0M5639 2715h0M5613 2691h0M5640 2735h0M5627 2738h0M5621 2725h0M5649 2742h0M5664 2746h0M5672 2698h0M5771 2620h0M5546 2786h0M5692 2667h0M5747 2639h0M5569 2870h0M5564 2763h0M5703 2693h0M5519 2866h0M5741 2643h0M5621 2777h0M5545 2753h0M5657 2754h0M5507 2846h0M5689 2679h0M5710 2668h0M5643 2709h0M5591 2708h0M5662 2663h0M5738 2603h0M5743 2650h0M5616 2781h0M5538 2844h0M5631 2669h0M5654 2742h0M5594 2720h0M5654 2678h0M5582 2776h0M5499 2878h0M5734 2617h0M5763 2606h0M5622 2698h0M5605 2709h0M5673 2721h0M5613 2693h0M5761 2677h0M5647 2727h0M5619 2745h0M5666 2709h0M5683 2632h0M5619 2707h0M5555 2802h0M5476 2893h0M5537 2839h0M5752 2643h0M5587 2737h0M5737 2682h0M5539 2797h0M5650 2713h0M5678 2690h0M5469 2879h0M5599 2769h0M5713 2644h0M5645 2729h0M5576 2792h0M5597 2805h0M5603 2741h0M5592 2739h0M5754 2605h0M5677 2697h0M5652 2731h0M5502 2885h0M5680 2631h0M5678 2666h0M5543 2816h0M5618 2851h0M5564 2812h0M5711 2693h0M5579 2782h0M5561 2827h0M5708 2621h0M5610 2683h0M5600 2690h0M5588 2695h0M5623 2706h0M5742 2599h0M5653 2698h0M5751 2575h0M5727 2620h0M5675 2650h0M5635 2764h0M5623 2786h0M5591 2729h0M5572 2731h0M5640 2715h0M5725 2603h0M5602 2816h0M5582 2736h0M5563 2798h0M5532 2789h0M5649 2678h0M5633 2713h0M5614 2721h0M5631 2727h0M5613 2702h0M5594 2669h0M5699 2622h0M5628 2758h0M5777 2612h0M5542 2797h0M5709 2671h0M5586 2716h0M5599 2708h0M5675 2728h0M5648 2786h0M5761 2623h0M5694 2743h0M5666 2745h0M5739 2616h0M5798 2611h0M5660 2671h0M5766 2578h0M5586 2765h0M5523 2887h0M5689 2673h0M5576 2778h0M5526 2693h0M5520 2866h0M5593 2830h0M5654 2672h0M5684 2671h0M5709 2723h0M5676 2714h0M5745 2594h0M5500 2808h0M5693 2734h0M5672 2707h0M5634 2725h0M5618 2810h0M5696 2605h0M5685 2711h0M5665 2700h0M5638 2778h0M5739 2610h0M5717 2711h0M5644 2759h0M5490 2798h0M5832 2635h0M5627 2740h0M5750 2679h0M5679 2694h0M5673 2620h0M5677 2681h0M5611 2732h0M5613 2685h0M5707 2738h0M5510 2830h0M5595 2725h0M5610 2740h0M5522 2832h0M5644 2682h0M5718 2667h0M5670 2665h0M5614 2751h0M5659 2697h0M5699 2755h0M5644 2713h0M5655 2642h0M5607 2745h0M5706 2672h0M5546 2814h0M5692 2743h0M5676 2679h0M5874 2588h0M5655 2685h0M5727 2690h0M5612 2708h0M5735 2615h0M5572 2737h0M5636 2740h0M5653 2773h0M5600 2811h0M5640 2674h0M5652 2690h0M5660 2676h0M5525 2841h0M5540 2834h0M5789 2549h0M5650 2684h0M5610 2764h0M5607 2706h0M5623 2734h0M5580 2794h0M5653 2728h0M5539 2792h0M5633 2783h0M5756 2625h0M5533 2814h0M5688 2654h0M5583 2812h0M5571 2771h0M5677 2595h0M5597 2832h0M5665 2697h0M5599 2763h0M5759 2618h0M5645 2747h0M5592 2732h0M5633 2682h0M5635 2712h0M5548 2691h0M5640 2647h0M5619 2769h0M5624 2725h0M5665 2650h0M5615 2720h0M5623 2799h0M5616 2715h0M5549 2777h0M5706 2691h0M5548 2799h0M5559 2837h0M5743 2679h0M5576 2786h0M5680 2684h0M5671 2680h0M5567 2787h0M5665 2637h0M5575 2756h0M5635 2671h0M5694 2690h0M5703 2617h0M5588 2776h0M5588 2787h0M5831 2646h0M5633 2773h0M5673 2677h0M5531 2858h0M5727 2702h0M5454 2782h0M5629 2753h0M5681 2691h0M5549 2819h0M5632 2726h0M5716 2600h0M5579 2730h0M5653 2705h0M5692 2739h0M5515 2839h0M5644 2758h0M5635 2705h0M5762 2606h0M5526 2815h0M5644 2719h0M5638 2733h0M5664 2733h0M5672 2672h0M5677 2675h0M5552 2794h0M5677 2664h0M5672 2720h0M5619 2697h0M5710 2559h0M5560 2761h0M5602 2692h0M5618 2721h0M5567 2774h0M5707 2632h0M5587 2743h0M5662 2699h0M5614 2747h0M5615 2681h0M5617 2722h0M5699 2706h0M5691 2719h0M5641 2732h0M5651 2725h0M5658 2701h0M5675 2691h0M5504 2716h0M5600 2809h0M5614 2774h0M5665 2682h0M5685 2584h0M5704 2646h0M5565 2825h0M5684 2677h0M5592 2784h0M5791 2642h0M5547 2750h0M5733 2553h0M5787 2634h0M5676 2644h0M5598 2741h0M5656 2737h0M5684 2713h0M5687 2682h0M5646 2707h0M5666 2778h0M5760 2625h0M5586 2815h0M5596 2769h0M5675 2737h0M5557 2678h0M5586 2817h0M5654 2722h0M5649 2781h0M5586 2725h0M5714 2676h0M5606 2692h0M5569 2772h0M5611 2813h0M5544 2831h0M5627 2762h0M5693 2657h0M5643 2684h0M5643 2741h0M5644 2717h0M5680 2620h0M5603 2659h0M5531 2779h0M5730 2690h0M5666 2694h0M5692 2654h0M5663 2682h0M5542 2837h0M5593 2762h0M5558 2748h0M5702 2658h0M5717 2684h0M5662 2698h0M5682 2695h0M5583 2733h0M5447 2824h0M5629 2779h0M5685 2569h0M5556 2746h0M5793 2579h0M5754 2636h0M5641 2721h0M5585 2763h0M5722 2661h0M5572 2822h0M5544 2819h0M5655 2715h0M5606 2738h0M5536 2748h0M5690 2678h0M5605 2766h0M5602 2776h0M5577 2735h0M5700 2734h0M5766 2624h0M5617 2701h0M5640 2700h0M5768 2612h0M5585 2775h0M5703 2669h0M5702 2638h0M5631 2702h0M5591 2744h0M5729 2708h0M5616 2750h0M5744 2645h0" stroke="#6b86d0" stroke-width="7.5" stroke-linecap="round" fill="none" opacity="0.8" />
<path transform="scale(.1)" d="M5630 2710h0M5721 2664h0M5626 2720h0M5673 2730h0M5609 2687h0M5597 2797h0M5667 2749h0M5651 2670h0M5647 2704h0M5735 2620h0M5637 2673h0M5649 2678h0M5698 2664h0M5664 2683h0M5622 2723h0M5736 2658h0M5627 2752h0M5670 2736h0M5641 2683h0M5740 2690h0M5712 2637h0M5627 2704h0M5641 2724h0M5735 2615h0M5681 2697h0M5705 2627h0M5672 2623h0M5607 2751h0M5600 2734h0M5640 2733h0M5648 2682h0M5575 2768h0M5655 2667h0M5664 2675h0M5644 2725h0M5561 2787h0M5628 2710h0M5626 2742h0M5703 2684h0M5599 2735h0M5581 2752h0M5687 2645h0M5613 2671h0M5664 2664h0M5666 2689h0M5625 2706h0M5618 2723h0M5638 2691h0M5626 2718h0M5636 2723h0M5635 2744h0M5696 2646h0M5637 2727h0M5666 2644h0M5695 2648h0M5721 2643h0M5701 2630h0M5634 2713h0M5686 2627h0M5652 2721h0M5677 2680h0M5672 2682h0M5695 2698h0M5618 2753h0M5560 2763h0M5719 2677h0M5621 2716h0M5655 2744h0M5691 2664h0M5655 2722h0M5604 2780h0M5709 2674h0M5682 2684h0M5646 2711h0M5629 2694h0M5544 2760h0M5657 2731h0M5615 2731h0M5589 2735h0M5624 2701h0M5695 2637h0M5706 2649h0M5508 2811h0M5729 2681h0M5606 2759h0M5625 2692h0M5529 2789h0M5728 2674h0M5650 2724h0M5685 2687h0M5571 2765h0M5756 2633h0M5600 2741h0M5768 2614h0M5620 2705h0M5741 2643h0M5622 2799h0M5676 2669h0M5624 2702h0M5566 2789h0M5642 2689h0M5681 2682h0M5672 2725h0M5675 2710h0M5637 2731h0M5674 2692h0M5743 2614h0M5717 2653h0M5665 2690h0M5639 2698h0M5690 2684h0M5705 2629h0M5662 2701h0M5658 2673h0M5595 2767h0M5625 2723h0M5698 2664h0M5696 2660h0M5705 2688h0M5655 2633h0M5666 2717h0M5654 2661h0M5652 2676h0M5601 2737h0M5689 2710h0M5585 2777h0M5658 2663h0M5600 2789h0M5676 2706h0M5588 2755h0M5651 2694h0M5723 2674h0M5627 2710h0M5524 2816h0M5551 2789h0M5626 2740h0M5642 2703h0M5575 2802h0M5581 2730h0M5671 2683h0M5662 2700h0M5577 2748h0M5573 2724h0M5616 2743h0M5599 2759h0M5646 2742h0M5537 2789h0M5587 2772h0M5663 2697h0M5685 2674h0M5651 2719h0M5560 2772h0M5595 2783h0M5740 2677h0M5717 2711h0M5614 2740h0M5676 2709h0M5642 2709h0M5628 2693h0M5674 2688h0M5641 2739h0M5682 2689h0M5659 2686h0M5687 2671h0M5702 2640h0M5687 2672h0M5622 2715h0M5717 2645h0M5648 2734h0M5674 2722h0M5647 2682h0M5639 2706h0M5604 2841h0M5674 2676h0M5671 2699h0M5644 2697h0M5627 2717h0M5587 2743h0M5718 2683h0M5652 2639h0M5606 2758h0M5617 2731h0M5723 2677h0M5672 2671h0M5624 2762h0M5619 2734h0M5632 2770h0M5675 2663h0M5657 2728h0M5655 2678h0M5673 2706h0M5643 2721h0M5745 2647h0M5569 2797h0M5620 2761h0M5625 2725h0M5590 2726h0M5635 2695h0M5698 2678h0M5737 2612h0M5640 2710h0M5623 2725h0M5672 2694h0M5668 2684h0M5722 2651h0M5566 2779h0M5602 2760h0M5634 2652h0M5637 2713h0M5600 2794h0M5663 2725h0M5642 2692h0M5565 2792h0M5606 2773h0M5674 2652h0M5714 2656h0M5728 2670h0M5607 2723h0M5623 2764h0M5655 2723h0M5605 2748h0M5669 2707h0M5643 2739h0M5665 2637h0M5597 2758h0M5627 2731h0M5622 2727h0M5585 2741h0M5687 2685h0M5724 2622h0M5695 2679h0M5705 2684h0M5629 2711h0M5684 2633h0M5645 2714h0M5678 2713h0M5655 2686h0M5718 2643h0M5676 2724h0M5613 2703h0M5676 2691h0M5619 2724h0M5672 2680h0M5687 2726h0M5752 2626h0M5625 2753h0M5626 2732h0M5723 2667h0M5620 2730h0M5591 2745h0M5666 2713h0M5643 2720h0M5723 2630h0M5598 2769h0M5682 2689h0M5775 2610h0M5665 2669h0M5612 2766h0M5605 2741h0M5722 2652h0M5716 2641h0M5548 2783h0M5684 2689h0M5576 2785h0M5609 2719h0M5634 2738h0M5717 2659h0M5682 2724h0M5597 2785h0M5744 2640h0M5622 2701h0M5675 2670h0M5687 2696h0M5785 2584h0M5616 2739h0M5645 2667h0M5720 2622h0M5729 2657h0M5532 2826h0M5689 2699h0M5667 2685h0M5680 2684h0M5697 2658h0M5652 2729h0M5645 2697h0M5729 2684h0M5569 2817h0M5603 2742h0M5632 2724h0M5553 2781h0M5605 2763h0M5667 2700h0M5651 2699h0M5682 2685h0M5702 2670h0M5662 2703h0M5675 2672h0M5556 2803h0M5725 2704h0M5599 2751h0" stroke="#4f8fd6" stroke-width="8" stroke-linecap="round" fill="none" opacity="0.85" />
<path transform="scale(.1)" d="M5629 2728h0M5648 2718h0M5637 2724h0M5665 2679h0M5696 2656h0M5604 2742h0M5618 2725h0M5643 2687h0M5599 2760h0M5665 2698h0M5681 2686h0M5623 2732h0M5627 2725h0M5680 2663h0M5660 2663h0M5646 2737h0M5740 2599h0M5680 2706h0M5651 2722h0M5625 2699h0M5636 2678h0M5680 2662h0M5654 2714h0M5626 2710h0M5579 2783h0M5612 2752h0M5641 2726h0M5570 2777h0M5673 2691h0M5750 2621h0M5646 2715h0M5635 2706h0M5606 2752h0M5607 2728h0M5654 2724h0M5673 2669h0M5691 2667h0M5654 2689h0M5617 2729h0M5648 2723h0M5663 2684h0M5583 2765h0M5576 2766h0M5680 2677h0M5636 2708h0M5628 2719h0M5667 2699h0M5707 2654h0M5630 2726h0M5747 2615h0M5693 2655h0M5655 2675h0M5606 2740h0M5659 2706h0M5674 2699h0M5632 2722h0M5691 2654h0M5609 2756h0M5688 2713h0M5646 2690h0M5689 2695h0M5662 2694h0M5668 2687h0M5733 2647h0M5671 2717h0M5647 2713h0M5729 2659h0M5639 2701h0M5621 2723h0M5752 2591h0M5609 2749h0M5672 2695h0M5702 2632h0M5640 2711h0M5541 2804h0M5634 2730h0M5731 2634h0M5690 2705h0M5643 2707h0M5626 2694h0M5623 2737h0M5670 2634h0M5669 2693h0M5725 2647h0M5608 2751h0M5679 2656h0M5688 2699h0M5633 2702h0M5698 2664h0M5694 2660h0M5652 2700h0M5640 2722h0M5608 2750h0M5619 2728h0M5703 2688h0M5645 2712h0M5665 2710h0M5683 2677h0M5739 2637h0M5606 2752h0M5641 2691h0M5592 2751h0M5700 2683h0M5672 2687h0M5598 2722h0M5700 2632h0M5586 2770h0M5638 2722h0M5648 2729h0M5690 2665h0M5680 2692h0M5675 2680h0M5672 2703h0M5601 2755h0M5616 2750h0M5691 2682h0M5658 2712h0M5743 2605h0M5693 2638h0M5670 2681h0M5657 2687h0M5666 2671h0M5573 2802h0M5602 2752h0M5647 2706h0M5657 2679h0M5610 2772h0M5737 2618h0M5756 2605h0M5559 2776h0M5703 2685h0M5729 2616h0M5626 2719h0M5704 2660h0M5662 2690h0M5693 2654h0M5616 2751h0M5689 2672h0M5636 2723h0M5629 2717h0M5652 2729h0M5550 2768h0M5706 2667h0M5641 2701h0M5582 2756h0M5664 2679h0M5689 2673h0M5663 2707h0M5666 2674h0M5660 2678h0M5732 2614h0M5608 2745h0M5717 2630h0M5733 2638h0M5687 2651h0M5659 2686h0M5629 2725h0M5642 2721h0M5729 2637h0M5631 2714h0M5697 2641h0M5619 2734h0M5640 2691h0M5624 2701h0M5666 2698h0M5704 2682h0M5694 2662h0M5670 2717h0M5676 2663h0M5698 2667h0M5606 2725h0M5595 2737h0M5653 2699h0M5698 2644h0M5747 2605h0M5630 2716h0M5639 2721h0M5659 2695h0M5627 2740h0M5636 2710h0M5680 2698h0M5672 2704h0M5623 2711h0M5649 2719h0M5586 2750h0M5591 2765h0M5633 2741h0M5629 2729h0M5644 2737h0M5750 2660h0M5639 2732h0M5691 2660h0M5664 2712h0M5670 2675h0M5657 2705h0M5679 2670h0M5677 2681h0M5652 2686h0M5606 2767h0M5669 2727h0M5713 2637h0M5700 2660h0M5719 2653h0M5666 2679h0M5610 2761h0M5668 2684h0M5650 2696h0M5668 2693h0M5671 2682h0M5730 2609h0M5647 2685h0M5645 2708h0M5670 2697h0M5653 2677h0M5676 2693h0M5675 2653h0M5743 2620h0M5622 2740h0M5665 2681h0M5665 2701h0M5570 2720h0M5690 2670h0M5756 2616h0M5607 2744h0M5598 2796h0M5653 2686h0M5649 2710h0M5589 2781h0M5571 2765h0M5678 2692h0" stroke="#4fbf8f" stroke-width="8.5" stroke-linecap="round" fill="none" opacity="0.9" />
<path transform="scale(.1)" d="M5703 2661h0M5647 2696h0M5720 2653h0M5640 2692h0M5661 2699h0M5666 2675h0M5657 2684h0M5687 2685h0M5667 2661h0M5626 2731h0M5609 2746h0M5702 2670h0M5634 2696h0M5646 2692h0M5639 2709h0M5678 2684h0M5723 2625h0M5731 2613h0M5644 2721h0M5630 2716h0M5712 2643h0M5667 2687h0M5676 2670h0M5683 2685h0M5705 2645h0M5635 2721h0M5696 2662h0M5642 2722h0M5606 2744h0M5660 2702h0M5684 2688h0M5671 2667h0M5664 2694h0M5662 2693h0M5665 2696h0M5610 2754h0M5644 2696h0M5673 2662h0M5680 2697h0M5607 2745h0M5688 2671h0M5640 2709h0M5677 2689h0M5649 2705h0M5705 2673h0M5650 2702h0M5685 2656h0M5696 2665h0M5687 2673h0M5644 2724h0M5695 2667h0M5618 2734h0M5642 2691h0M5645 2717h0M5640 2708h0M5632 2703h0M5690 2685h0M5690 2664h0M5655 2678h0M5662 2664h0M5700 2657h0M5662 2699h0M5655 2714h0M5667 2701h0M5617 2739h0M5665 2702h0M5604 2734h0M5693 2663h0M5663 2704h0M5636 2712h0M5621 2731h0M5706 2659h0M5696 2671h0M5637 2721h0M5626 2727h0M5678 2688h0M5671 2687h0M5658 2710h0M5677 2690h0M5631 2727h0M5635 2706h0M5653 2709h0M5633 2717h0M5635 2702h0M5654 2705h0M5671 2654h0M5601 2762h0M5661 2701h0M5724 2619h0M5620 2736h0M5681 2672h0M5650 2708h0M5652 2702h0M5673 2678h0M5659 2685h0M5613 2718h0M5606 2739h0M5647 2701h0M5632 2725h0M5664 2679h0M5668 2684h0M5716 2644h0M5676 2664h0M5679 2667h0M5701 2679h0M5718 2648h0M5691 2663h0M5716 2666h0M5674 2679h0M5656 2699h0M5712 2659h0M5650 2689h0M5670 2710h0M5644 2726h0M5642 2706h0M5708 2636h0M5656 2679h0M5694 2659h0M5669 2669h0M5666 2697h0M5610 2721h0M5703 2659h0M5702 2661h0M5584 2766h0M5708 2663h0M5619 2727h0M5665 2711h0M5661 2705h0M5623 2700h0M5592 2767h0M5654 2690h0M5689 2683h0M5638 2719h0M5629 2710h0M5689 2659h0M5658 2689h0M5687 2673h0M5626 2707h0M5682 2681h0M5703 2663h0M5646 2717h0M5706 2643h0M5646 2712h0M5679 2683h0M5688 2682h0M5718 2635h0M5685 2680h0M5625 2725h0M5692 2709h0M5646 2681h0M5646 2694h0M5681 2677h0M5597 2750h0M5619 2719h0M5637 2734h0M5588 2748h0M5645 2725h0M5609 2756h0M5639 2684h0M5664 2687h0M5695 2662h0M5655 2695h0M5677 2690h0M5646 2704h0M5635 2748h0M5678 2693h0M5621 2738h0M5686 2658h0M5670 2675h0M5642 2700h0" stroke="#b7d53c" stroke-width="8.5" stroke-linecap="round" fill="none" opacity="0.9" />
<path transform="scale(.1)" d="M5653 2701h0M5631 2711h0M5683 2682h0M5657 2713h0M5633 2707h0M5647 2715h0M5654 2693h0M5654 2694h0M5640 2720h0M5635 2711h0M5666 2670h0M5650 2702h0M5676 2675h0M5650 2698h0M5703 2662h0M5676 2684h0M5676 2688h0M5629 2725h0M5644 2701h0M5633 2714h0M5662 2698h0M5656 2709h0M5672 2676h0M5609 2742h0M5677 2692h0M5647 2706h0M5677 2688h0M5647 2706h0M5732 2632h0M5679 2665h0M5654 2711h0M5651 2690h0M5662 2691h0M5646 2710h0M5647 2722h0M5654 2694h0M5649 2704h0M5708 2651h0M5659 2708h0M5640 2721h0M5681 2670h0M5680 2684h0M5697 2651h0M5634 2735h0M5655 2706h0M5658 2694h0M5666 2685h0M5633 2709h0M5638 2703h0M5677 2671h0M5651 2695h0M5659 2684h0M5620 2722h0M5654 2723h0M5691 2653h0M5620 2716h0M5671 2686h0M5685 2674h0M5656 2685h0M5662 2682h0M5684 2674h0M5705 2638h0M5649 2688h0M5635 2711h0M5635 2732h0M5659 2694h0M5649 2701h0M5659 2706h0M5671 2678h0M5648 2692h0M5635 2721h0M5648 2686h0M5662 2685h0M5678 2692h0M5676 2687h0M5650 2695h0M5670 2700h0M5629 2729h0M5669 2690h0M5651 2699h0M5701 2658h0M5651 2707h0M5664 2700h0M5703 2662h0M5641 2705h0M5674 2668h0M5676 2677h0M5656 2689h0M5641 2706h0M5685 2671h0M5664 2706h0M5639 2700h0M5616 2736h0M5693 2673h0M5678 2697h0M5704 2663h0M5664 2689h0M5654 2700h0M5638 2725h0M5680 2676h0M5633 2710h0M5653 2692h0M5690 2681h0M5646 2707h0M5666 2688h0M5659 2698h0M5653 2706h0M5713 2640h0M5665 2693h0M5662 2687h0" stroke="#f2a024" stroke-width="8.5" stroke-linecap="round" fill="none" opacity="0.95" />
<path transform="scale(.1)" d="M5665 2691h0M5665 2686h0M5653 2706h0M5647 2718h0M5666 2688h0M5666 2702h0M5653 2700h0M5648 2705h0M5662 2696h0M5645 2705h0M5639 2713h0M5653 2697h0M5666 2693h0M5664 2685h0M5668 2692h0M5655 2699h0M5655 2698h0M5647 2716h0" stroke="#ea4a22" stroke-width="8" stroke-linecap="round" fill="none" opacity="0.9" />
<path transform="scale(.1)" d="M5329 3152h0M5488 3292h0M5186 3164h0M5331 2944h0M5327 3018h0M5279 2986h0M5227 3196h0M5273 3250h0M5282 3070h0M5205 3250h0M5464 3020h0M5468 3170h0M5141 2914h0M5511 3063h0M5152 3255h0M5460 3005h0M5351 3131h0M5448 3188h0M5489 2952h0M5401 3082h0M5272 3110h0M5339 3070h0M5184 3264h0M5365 3166h0M5352 2916h0M5443 3083h0M5300 3124h0M5169 2926h0M5413 3127h0M5519 3234h0M5523 3208h0M5143 2906h0M5438 3235h0M5131 3219h0M5497 3246h0" stroke="#b9c4e8" stroke-width="6" stroke-linecap="round" fill="none" opacity="0.7" />
<path transform="scale(.1)" d="M5544 2845h0M5571 2837h0M5666 2850h0M5555 2864h0M5662 2794h0M5563 2864h0M5495 2762h0M5620 2858h0M5549 2957h0M5556 2772h0M5587 2862h0M5649 2805h0M5543 2778h0M5587 2933h0M5408 2895h0M5556 2878h0M5598 2870h0M5495 2802h0M5602 2804h0M5558 2857h0M5523 2910h0M5557 2921h0M5568 2921h0M5529 2823h0M5547 2804h0M5560 2790h0M5539 2899h0M5575 2809h0M5572 2907h0M5535 2865h0M5545 2773h0M5619 2754h0M5539 2827h0M5527 2918h0M5568 2776h0M5539 2910h0M5508 2905h0M5637 2861h0M5515 2942h0M5613 2798h0M5617 2751h0M5507 2936h0M5586 2877h0M5559 2950h0M5538 2918h0M5429 2925h0M5571 2825h0M5484 2807h0M5589 2844h0M5578 2829h0M5674 2907h0M5601 2772h0M5586 2915h0M5503 2752h0M5554 2870h0M5530 2884h0M5551 2834h0M5564 2892h0M5640 2870h0M5548 2879h0" stroke="#8fa2dc" stroke-width="6.5" stroke-linecap="round" fill="none" opacity="0.7" />
<path transform="scale(.1)" d="M6547 2881h0M6548 2870h0M6657 2688h0M6552 2939h0M6690 2663h0M6701 2711h0M6669 2682h0M6657 2719h0M6613 2778h0M6758 2627h0M6594 2785h0M6552 2929h0M6723 2624h0M6689 2733h0M6572 2861h0M6695 2725h0M6601 2874h0M6595 2840h0M6711 2588h0M6760 2526h0M6709 2658h0M6649 2738h0M6643 2748h0M6682 2669h0M6661 2791h0M6743 2596h0M6748 2563h0M6515 2796h0M6683 2723h0M6750 2637h0M6655 2806h0M6771 2614h0M6705 2697h0M6585 2748h0M6628 2808h0M6704 2615h0M6626 2738h0M6683 2714h0M6723 2590h0M6695 2751h0M6569 2654h0M6648 2793h0M6610 2733h0M6631 2787h0M6627 2842h0M6677 2679h0M6587 2792h0M6663 2731h0M6666 2746h0M6643 2712h0M6676 2788h0M6593 2743h0M6673 2709h0M6766 2608h0M6694 2671h0M6568 2854h0M6648 2717h0M6672 2824h0M6612 2778h0M6660 2732h0M6610 2719h0M6679 2769h0M6770 2614h0M6634 2586h0M6614 2731h0M6687 2727h0M6695 2677h0M6625 2836h0M6792 2616h0M6728 2671h0M6676 2766h0M6714 2584h0M6648 2730h0M6658 2633h0M6605 2782h0M6608 2758h0M6690 2645h0M6583 2822h0M6569 2749h0M6714 2689h0M6625 2853h0M6650 2795h0M6700 2633h0M6613 2815h0M6598 2852h0M6644 2755h0M6727 2561h0M6618 2806h0M6690 2760h0M6611 2762h0M6651 2658h0M6664 2776h0M6538 2920h0M6717 2786h0M6570 2827h0M6599 2798h0M6636 2705h0M6690 2624h0M6658 2710h0M6721 2552h0M6666 2746h0M6731 2645h0M6667 2713h0M6651 2775h0M6657 2695h0M6689 2674h0M6636 2841h0M6660 2720h0M6650 2772h0M6645 2779h0M6683 2739h0M6696 2623h0M6687 2523h0M6759 2558h0M6717 2742h0M6685 2771h0M6750 2570h0M6634 2714h0M6671 2807h0M6643 2760h0M6632 2774h0M6652 2775h0M6756 2639h0M6697 2623h0M6762 2729h0M6754 2694h0M6564 2906h0M6522 2855h0M6700 2681h0M6668 2676h0M6703 2619h0M6661 2708h0M6613 2778h0M6609 2808h0M6622 2802h0M6792 2708h0M6605 2719h0M6685 2645h0M6678 2714h0M6637 2773h0M6600 2949h0M6672 2626h0M6616 2712h0M6604 2840h0M6558 2813h0M6594 2817h0M6583 2768h0M6606 2798h0M6683 2688h0M6562 2845h0M6716 2672h0M6794 2668h0M6680 2727h0M6585 2849h0M6706 2734h0M6651 2779h0M6531 2814h0M6706 2645h0M6587 2746h0M6592 2786h0M6746 2668h0M6681 2593h0M6667 2729h0M6703 2613h0M6679 2773h0M6749 2553h0M6568 2893h0M6644 2718h0M6679 2735h0M6742 2625h0M6765 2532h0M6663 2719h0M6659 2724h0M6588 2889h0M6611 2715h0M6587 2719h0M6651 2742h0M6748 2700h0M6706 2795h0M6723 2596h0M6660 2715h0M6620 2814h0M6697 2753h0M6687 2624h0M6625 2803h0M6674 2772h0M6728 2511h0M6610 2739h0M6704 2632h0M6677 2707h0M6643 2831h0M6711 2715h0M6596 2883h0M6650 2690h0M6682 2662h0M6714 2609h0M6579 2757h0M6687 2725h0M6642 2770h0M6521 2849h0M6701 2713h0M6686 2756h0M6656 2780h0M6587 2767h0M6692 2727h0M6626 2791h0M6605 2770h0M6673 2627h0M6584 2791h0M6763 2637h0M6602 2882h0M6576 2824h0M6670 2704h0M6639 2752h0M6620 2706h0M6667 2691h0M6659 2704h0M6681 2741h0M6727 2657h0M6734 2669h0M6669 2723h0M6678 2664h0M6791 2569h0M6604 2906h0M6701 2647h0M6591 2683h0M6622 2740h0M6694 2671h0M6786 2590h0M6554 2706h0M6730 2679h0M6627 2820h0M6585 2783h0M6715 2768h0M6658 2632h0M6654 2645h0M6683 2687h0M6736 2669h0M6615 2715h0M6554 2769h0M6695 2666h0M6666 2796h0M6639 2735h0M6655 2686h0M6738 2635h0M6699 2627h0M6567 2857h0M6692 2688h0M6599 2780h0M6673 2686h0M6636 2812h0M6608 2821h0M6677 2792h0M6659 2648h0M6651 2717h0M6571 2847h0M6769 2567h0M6654 2628h0M6789 2604h0M6641 2763h0M6600 2822h0M6677 2651h0M6614 2781h0M6639 2722h0M6655 2707h0M6636 2692h0M6686 2624h0M6603 2823h0M6661 2934h0M6705 2651h0M6566 2858h0M6676 2680h0M6626 2724h0M6550 2825h0M6609 2835h0M6640 2606h0M6656 2791h0M6608 2827h0M6761 2549h0M6663 2665h0M6780 2520h0M6587 2790h0M6647 2753h0M6614 2736h0M6675 2649h0M6658 2657h0M6655 2852h0M6721 2651h0M6683 2585h0M6616 2800h0M6716 2599h0M6705 2617h0M6728 2673h0M6619 2703h0M6582 2769h0M6639 2753h0M6601 2739h0M6673 2761h0M6613 2811h0M6631 2693h0M6572 2806h0M6651 2886h0M6694 2740h0M6623 2751h0M6663 2736h0M6573 2800h0M6670 2716h0M6679 2654h0M6578 2740h0M6685 2721h0M6558 2777h0M6590 2832h0M6721 2573h0M6576 2746h0M6530 2884h0M6610 2794h0M6676 2751h0M6703 2645h0M6676 2665h0M6638 2800h0M6696 2696h0M6659 2627h0M6620 2772h0M6573 2796h0M6560 2717h0M6605 2737h0M6686 2656h0M6630 2852h0M6551 2786h0M6695 2682h0M6627 2738h0M6612 2877h0M6662 2731h0M6724 2668h0M6647 2707h0M6616 2731h0M6677 2759h0M6677 2713h0M6643 2598h0M6682 2758h0M6689 2702h0M6667 2716h0M6696 2611h0M6581 2827h0M6623 2744h0M6683 2643h0M6669 2731h0M6689 2685h0M6575 2737h0M6665 2692h0M6649 2748h0M6636 2775h0M6688 2736h0M6597 2688h0M6679 2832h0M6621 2743h0M6636 2763h0M6596 2714h0M6668 2635h0M6601 2664h0M6682 2703h0M6544 2674h0M6694 2723h0M6555 2779h0M6691 2637h0M6597 2895h0M6673 2758h0M6534 2793h0M6632 2728h0M6772 2679h0M6661 2759h0M6638 2695h0M6765 2617h0M6664 2735h0M6583 2820h0M6754 2654h0M6667 2808h0M6648 2658h0M6620 2692h0M6737 2630h0M6680 2648h0M6727 2633h0M6572 2858h0M6665 2712h0M6576 2725h0M6637 2740h0M6693 2746h0M6687 2731h0M6698 2679h0M6641 2749h0M6736 2721h0M6699 2749h0M6702 2647h0M6552 2863h0M6594 2782h0M6699 2637h0M6673 2771h0M6649 2722h0M6629 2693h0M6692 2709h0M6658 2856h0M6656 2632h0M6689 2707h0M6569 2773h0M6614 2733h0M6573 2851h0M6696 2695h0M6639 2712h0M6477 3051h0M6635 2780h0M6646 2694h0M6622 2748h0M6621 2782h0M6543 2791h0M6664 2688h0M6727 2713h0M6683 2758h0M6616 2801h0M6699 2763h0M6630 2701h0M6642 2761h0M6644 2808h0M6738 2710h0M6724 2645h0M6709 2638h0M6642 2758h0M6622 2800h0M6668 2659h0M6656 2739h0M6584 2730h0M6678 2627h0M6748 2675h0M6629 2776h0M6605 2784h0M6644 2625h0M6635 2697h0M6629 2770h0M6608 2674h0M6611 2813h0M6606 2785h0M6745 2704h0M6662 2734h0M6658 2702h0M6675 2708h0M6700 2623h0M6720 2652h0M6674 2750h0M6635 2797h0M6577 2787h0M6531 2826h0M6717 2685h0M6660 2682h0M6669 2695h0M6663 2862h0M6684 2611h0M6707 2637h0M6748 2727h0M6680 2680h0M6544 2870h0M6694 2766h0M6600 2672h0M6644 2746h0M6709 2646h0M6670 2814h0M6547 2686h0M6768 2587h0M6633 2779h0M6669 2799h0M6715 2769h0M6650 2706h0M6640 2850h0M6663 2702h0M6623 2730h0M6571 2852h0M6637 2814h0M6584 2821h0M6589 2813h0M6668 2805h0M6606 2734h0M6792 2606h0M6689 2677h0M6654 2799h0M6715 2742h0M6683 2621h0M6627 2654h0M6655 2727h0M6646 2601h0M6602 2719h0M6634 2764h0M6666 2679h0M6672 2673h0M6671 2753h0M6698 2675h0M6606 2766h0M6741 2587h0M6732 2714h0M6695 2679h0M6616 2837h0M6691 2767h0M6555 2802h0M6686 2742h0M6661 2692h0M6496 2788h0M6633 2796h0M6702 2636h0M6798 2616h0M6684 2788h0M6560 2736h0M6625 2624h0M6618 2707h0M6753 2638h0M6577 2712h0M6773 2608h0M6593 2856h0M6565 2873h0M6688 2652h0M6644 2665h0M6741 2627h0M6628 2789h0M6679 2714h0M6771 2575h0M6591 2746h0M6587 2729h0M6577 2834h0M6553 2774h0M6690 2714h0M6623 2805h0M6653 2742h0M6780 2628h0M6615 2655h0M6735 2709h0M6695 2758h0M6667 2775h0M6622 2693h0M6696 2719h0M6640 2742h0M6613 2816h0M6804 2564h0M6720 2720h0M6627 2813h0M6719 2659h0M6649 2716h0M6592 2740h0M6579 2743h0M6649 2684h0M6621 2755h0M6699 2647h0M6708 2669h0M6612 2711h0M6647 2657h0M6706 2560h0M6623 2754h0M6721 2700h0M6686 2667h0M6596 2763h0M6719 2662h0M6598 2797h0M6735 2557h0M6757 2638h0M6628 2806h0" stroke="#6b86d0" stroke-width="7.5" stroke-linecap="round" fill="none" opacity="0.8" />
<path transform="scale(.1)" d="M6641 2743h0M6702 2699h0M6688 2693h0M6727 2631h0M6691 2669h0M6631 2776h0M6702 2652h0M6723 2609h0M6688 2698h0M6647 2825h0M6584 2889h0M6691 2784h0M6664 2741h0M6711 2660h0M6749 2660h0M6702 2703h0M6625 2816h0M6686 2658h0M6729 2613h0M6703 2689h0M6626 2706h0M6642 2693h0M6655 2777h0M6659 2728h0M6636 2766h0M6605 2725h0M6625 2793h0M6664 2725h0M6627 2732h0M6655 2756h0M6642 2709h0M6659 2719h0M6635 2737h0M6635 2711h0M6668 2666h0M6665 2716h0M6567 2834h0M6718 2650h0M6633 2825h0M6681 2723h0M6710 2645h0M6655 2657h0M6729 2657h0M6608 2752h0M6636 2730h0M6681 2750h0M6577 2820h0M6621 2773h0M6635 2748h0M6624 2762h0M6637 2731h0M6649 2748h0M6738 2625h0M6645 2819h0M6660 2776h0M6670 2653h0M6693 2730h0M6659 2773h0M6652 2694h0M6665 2710h0M6620 2747h0M6684 2693h0M6659 2752h0M6625 2751h0M6652 2727h0M6684 2684h0M6695 2651h0M6643 2741h0M6667 2698h0M6657 2735h0M6583 2766h0M6634 2669h0M6681 2664h0M6696 2724h0M6715 2693h0M6710 2698h0M6701 2702h0M6699 2696h0M6668 2751h0M6724 2643h0M6687 2655h0M6673 2662h0M6741 2587h0M6693 2713h0M6598 2775h0M6711 2669h0M6678 2687h0M6591 2767h0M6660 2713h0M6622 2762h0M6768 2624h0M6656 2742h0M6684 2735h0M6676 2690h0M6620 2784h0M6645 2761h0M6651 2750h0M6680 2688h0M6736 2617h0M6759 2621h0M6652 2737h0M6657 2743h0M6639 2693h0M6639 2697h0M6674 2750h0M6655 2719h0M6708 2615h0M6615 2754h0M6657 2738h0M6657 2777h0M6681 2694h0M6666 2697h0M6682 2649h0M6571 2778h0M6673 2717h0M6627 2743h0M6752 2594h0M6705 2698h0M6638 2719h0M6654 2732h0M6642 2751h0M6703 2612h0M6664 2755h0M6606 2833h0M6712 2696h0M6663 2704h0M6620 2799h0M6639 2769h0M6676 2655h0M6645 2698h0M6655 2812h0M6720 2674h0M6684 2727h0M6573 2815h0M6644 2705h0M6701 2740h0M6635 2717h0M6667 2724h0M6673 2729h0M6626 2725h0M6666 2794h0M6655 2750h0M6672 2687h0M6695 2668h0M6703 2651h0M6680 2725h0M6721 2621h0M6735 2675h0M6633 2749h0M6725 2608h0M6642 2835h0M6646 2675h0M6625 2772h0M6694 2592h0M6626 2747h0M6693 2737h0M6608 2791h0M6613 2770h0M6582 2783h0M6572 2782h0M6679 2753h0M6662 2754h0M6678 2752h0M6690 2750h0M6626 2793h0M6669 2704h0M6682 2706h0M6650 2733h0M6703 2664h0M6667 2760h0M6627 2806h0M6596 2743h0M6649 2726h0M6667 2791h0M6637 2765h0M6662 2759h0M6654 2775h0M6685 2737h0M6710 2696h0M6694 2637h0M6637 2736h0M6637 2765h0M6649 2684h0M6693 2646h0M6661 2726h0M6699 2719h0M6669 2643h0M6624 2714h0M6687 2644h0M6620 2706h0M6679 2742h0M6649 2720h0M6683 2679h0M6669 2674h0M6620 2673h0M6589 2773h0M6622 2718h0M6697 2723h0M6676 2719h0M6689 2716h0M6663 2647h0M6702 2680h0M6748 2644h0M6673 2699h0M6670 2684h0M6630 2813h0M6649 2672h0M6724 2676h0M6636 2781h0M6690 2750h0M6748 2651h0M6661 2681h0M6629 2719h0M6687 2735h0M6693 2633h0M6667 2759h0M6690 2716h0M6728 2627h0M6739 2692h0M6660 2775h0M6599 2905h0M6618 2729h0M6629 2691h0M6709 2682h0M6672 2673h0M6624 2776h0M6647 2693h0M6684 2643h0M6691 2693h0M6550 2800h0M6678 2708h0M6680 2682h0M6656 2701h0M6681 2642h0M6634 2759h0M6685 2755h0M6645 2724h0M6682 2681h0M6711 2678h0M6613 2782h0M6720 2584h0M6645 2678h0M6692 2748h0M6664 2736h0M6682 2698h0M6660 2696h0M6653 2679h0M6767 2553h0M6588 2795h0M6642 2735h0M6604 2763h0M6688 2691h0M6607 2792h0M6715 2719h0M6699 2638h0M6607 2756h0M6658 2708h0M6662 2689h0M6610 2768h0M6625 2756h0M6682 2710h0M6692 2651h0M6696 2653h0M6632 2738h0M6638 2704h0M6692 2683h0M6702 2681h0M6696 2658h0M6684 2715h0M6631 2751h0M6641 2737h0M6678 2687h0M6660 2750h0M6690 2726h0M6650 2683h0M6635 2759h0M6641 2695h0M6612 2756h0M6596 2791h0M6744 2601h0M6617 2771h0M6668 2753h0M6719 2654h0M6759 2664h0M6705 2679h0M6666 2666h0M6674 2753h0M6655 2712h0M6628 2765h0M6617 2777h0M6627 2730h0M6623 2736h0M6615 2789h0M6641 2776h0M6631 2702h0M6699 2670h0M6707 2615h0M6672 2767h0M6655 2746h0M6647 2777h0" stroke="#4f8fd6" stroke-width="8" stroke-linecap="round" fill="none" opacity="0.85" />
<path transform="scale(.1)" d="M6671 2715h0M6653 2718h0M6646 2771h0M6670 2703h0M6655 2739h0M6722 2628h0M6645 2740h0M6707 2667h0M6660 2743h0M6652 2717h0M6651 2685h0M6648 2743h0M6656 2674h0M6673 2661h0M6713 2698h0M6684 2646h0M6673 2692h0M6678 2705h0M6687 2731h0M6664 2729h0M6658 2715h0M6650 2717h0M6644 2734h0M6662 2692h0M6739 2583h0M6696 2666h0M6698 2686h0M6682 2646h0M6685 2725h0M6643 2715h0M6624 2763h0M6642 2774h0M6650 2741h0M6748 2609h0M6690 2686h0M6699 2680h0M6695 2656h0M6685 2690h0M6680 2709h0M6645 2707h0M6707 2639h0M6637 2752h0M6673 2679h0M6683 2683h0M6685 2657h0M6672 2699h0M6692 2667h0M6652 2719h0M6693 2636h0M6696 2674h0M6693 2625h0M6686 2691h0M6692 2682h0M6627 2758h0M6610 2774h0M6675 2719h0M6684 2748h0M6648 2717h0M6678 2723h0M6622 2739h0M6701 2684h0M6687 2691h0M6653 2713h0M6689 2638h0M6711 2663h0M6680 2712h0M6669 2724h0M6638 2776h0M6657 2713h0M6722 2611h0M6648 2722h0M6716 2659h0M6740 2621h0M6709 2661h0M6752 2643h0M6672 2704h0M6669 2717h0M6654 2751h0M6677 2632h0M6701 2682h0M6633 2717h0M6706 2658h0M6668 2735h0M6646 2735h0M6666 2679h0M6739 2640h0M6673 2703h0M6707 2652h0M6659 2751h0M6612 2782h0M6666 2745h0M6693 2692h0M6651 2729h0M6680 2713h0M6636 2716h0M6648 2755h0M6691 2700h0M6663 2763h0M6696 2713h0M6635 2743h0M6640 2784h0M6702 2679h0M6669 2714h0M6666 2715h0M6644 2739h0M6703 2642h0M6726 2613h0M6630 2761h0M6683 2682h0M6697 2681h0M6651 2663h0M6653 2675h0M6675 2688h0M6680 2675h0M6682 2675h0M6707 2663h0M6683 2735h0M6693 2700h0M6609 2788h0M6650 2724h0M6717 2633h0M6714 2665h0M6669 2680h0M6688 2682h0M6699 2715h0M6716 2688h0M6656 2708h0M6631 2696h0M6626 2703h0M6677 2684h0M6628 2750h0M6704 2651h0M6670 2748h0M6701 2679h0M6736 2638h0M6713 2653h0M6664 2724h0M6660 2702h0M6660 2738h0M6688 2687h0M6602 2803h0M6639 2740h0M6606 2774h0M6746 2604h0M6669 2738h0M6668 2731h0M6655 2720h0M6636 2721h0M6682 2722h0M6643 2643h0M6651 2763h0M6660 2661h0M6669 2700h0M6682 2710h0M6688 2634h0M6667 2712h0M6632 2676h0M6663 2718h0M6694 2708h0M6637 2766h0M6675 2689h0M6641 2765h0M6666 2726h0M6624 2815h0M6718 2648h0M6670 2677h0M6611 2847h0M6682 2663h0M6647 2717h0M6673 2644h0M6649 2762h0M6664 2721h0M6674 2708h0M6691 2691h0M6713 2662h0M6668 2705h0M6654 2702h0M6728 2576h0M6660 2706h0M6657 2704h0M6712 2641h0M6626 2798h0M6731 2613h0M6715 2709h0M6667 2690h0M6692 2662h0M6717 2619h0M6631 2757h0M6698 2600h0M6677 2683h0M6636 2775h0M6649 2748h0M6670 2722h0M6677 2679h0M6659 2722h0M6645 2755h0M6700 2669h0M6677 2707h0M6693 2684h0M6690 2715h0M6681 2659h0M6689 2673h0M6693 2678h0M6649 2703h0M6643 2725h0M6685 2721h0M6656 2700h0M6613 2762h0M6591 2787h0M6680 2691h0M6703 2627h0M6701 2693h0M6669 2735h0M6667 2690h0M6675 2665h0M6671 2678h0M6737 2648h0M6666 2687h0M6596 2821h0M6643 2785h0M6666 2689h0M6671 2715h0M6690 2705h0M6714 2617h0M6691 2740h0M6660 2726h0M6682 2661h0M6686 2648h0M6641 2740h0M6713 2678h0" stroke="#4fbf8f" stroke-width="8.5" stroke-linecap="round" fill="none" opacity="0.9" />
<path transform="scale(.1)" d="M6636 2688h0M6692 2668h0M6676 2696h0M6683 2700h0M6649 2741h0M6692 2699h0M6648 2742h0M6689 2648h0M6644 2754h0M6662 2703h0M6671 2676h0M6700 2687h0M6664 2746h0M6630 2739h0M6674 2666h0M6660 2687h0M6645 2726h0M6702 2645h0M6664 2707h0M6680 2723h0M6675 2704h0M6672 2707h0M6645 2754h0M6643 2736h0M6693 2680h0M6627 2751h0M6703 2648h0M6691 2652h0M6664 2679h0M6689 2717h0M6638 2751h0M6678 2704h0M6632 2712h0M6702 2651h0M6713 2648h0M6644 2730h0M6619 2734h0M6719 2601h0M6658 2735h0M6637 2742h0M6680 2686h0M6689 2665h0M6656 2713h0M6704 2688h0M6649 2728h0M6702 2625h0M6711 2656h0M6680 2700h0M6685 2686h0M6690 2682h0M6683 2670h0M6663 2694h0M6673 2736h0M6672 2716h0M6658 2703h0M6648 2776h0M6668 2700h0M6644 2728h0M6634 2719h0M6632 2735h0M6668 2706h0M6669 2691h0M6681 2696h0M6679 2695h0M6642 2756h0M6684 2654h0M6700 2704h0M6638 2770h0M6696 2699h0M6714 2648h0M6684 2668h0M6664 2745h0M6690 2698h0M6656 2730h0M6667 2765h0M6694 2698h0M6653 2723h0M6670 2715h0M6679 2671h0M6666 2743h0M6670 2713h0M6645 2702h0M6667 2679h0M6700 2661h0M6646 2701h0M6669 2686h0M6666 2724h0M6696 2669h0M6678 2700h0M6667 2708h0M6645 2759h0M6703 2658h0M6668 2720h0M6673 2677h0M6650 2706h0M6688 2692h0M6645 2735h0M6658 2717h0M6691 2690h0M6722 2633h0M6639 2704h0M6665 2698h0M6668 2722h0M6659 2732h0M6648 2737h0M6702 2696h0M6653 2672h0M6632 2721h0M6674 2719h0M6640 2755h0M6704 2639h0M6685 2651h0M6690 2648h0M6704 2656h0M6678 2690h0M6729 2593h0M6689 2660h0M6641 2716h0M6654 2721h0M6623 2794h0M6656 2726h0M6673 2691h0M6679 2718h0M6671 2679h0M6651 2742h0M6649 2700h0M6652 2724h0M6637 2737h0M6677 2688h0M6651 2753h0M6657 2722h0M6676 2687h0M6690 2670h0M6681 2718h0M6643 2758h0M6651 2726h0M6655 2719h0M6602 2797h0M6673 2690h0M6655 2702h0M6640 2703h0M6668 2721h0M6693 2671h0M6675 2659h0M6663 2697h0M6662 2730h0M6688 2696h0M6639 2745h0M6644 2738h0M6628 2738h0M6653 2721h0M6697 2669h0M6641 2699h0M6709 2660h0M6656 2705h0M6629 2786h0M6638 2750h0M6693 2686h0M6726 2695h0M6691 2669h0M6677 2696h0M6713 2691h0M6736 2587h0M6673 2706h0M6631 2784h0M6678 2693h0M6670 2708h0M6689 2663h0M6696 2639h0M6651 2697h0" stroke="#b7d53c" stroke-width="8.5" stroke-linecap="round" fill="none" opacity="0.9" />
<path transform="scale(.1)" d="M6699 2657h0M6679 2679h0M6685 2700h0M6658 2702h0M6647 2722h0M6652 2744h0M6705 2672h0M6657 2749h0M6672 2679h0M6672 2691h0M6685 2700h0M6679 2703h0M6655 2709h0M6686 2670h0M6675 2708h0M6681 2700h0M6662 2692h0M6654 2730h0M6667 2714h0M6703 2677h0M6661 2735h0M6684 2707h0M6681 2644h0M6696 2674h0M6677 2698h0M6658 2733h0M6668 2713h0M6670 2696h0M6689 2666h0M6681 2677h0M6661 2708h0M6681 2697h0M6671 2728h0M6675 2687h0M6700 2679h0M6665 2704h0M6685 2697h0M6689 2696h0M6665 2726h0M6657 2709h0M6668 2709h0M6665 2707h0M6671 2711h0M6669 2684h0M6645 2746h0M6666 2709h0M6670 2716h0M6697 2672h0M6662 2700h0M6726 2657h0M6650 2745h0M6672 2709h0M6679 2710h0M6678 2702h0M6669 2705h0M6652 2707h0M6657 2733h0M6671 2687h0M6648 2735h0M6681 2674h0M6673 2680h0M6651 2723h0M6686 2681h0M6698 2665h0M6654 2716h0M6655 2717h0M6652 2745h0M6666 2693h0M6646 2731h0M6683 2687h0M6649 2720h0M6680 2700h0M6699 2678h0M6636 2732h0M6668 2719h0M6677 2703h0M6650 2724h0M6654 2733h0M6673 2675h0M6661 2706h0M6673 2690h0M6678 2697h0M6671 2704h0M6654 2746h0M6660 2713h0M6692 2700h0M6658 2718h0M6704 2668h0M6673 2703h0M6653 2736h0M6644 2722h0M6625 2764h0M6651 2722h0M6644 2713h0M6660 2703h0M6704 2641h0M6663 2739h0M6694 2690h0M6668 2715h0M6636 2753h0M6668 2698h0M6642 2717h0M6668 2719h0M6686 2725h0M6684 2694h0M6667 2684h0M6665 2715h0M6688 2675h0M6664 2701h0M6663 2715h0" stroke="#f2a024" stroke-width="8.5" stroke-linecap="round" fill="none" opacity="0.95" />
<path transform="scale(.1)" d="M6674 2706h0M6676 2713h0M6678 2687h0M6661 2713h0M6657 2708h0M6665 2698h0M6656 2712h0M6665 2708h0M6664 2698h0M6663 2719h0M6673 2700h0M6663 2713h0M6668 2719h0M6683 2694h0M6669 2713h0M6679 2702h0M6669 2713h0M6667 2709h0" stroke="#ea4a22" stroke-width="8" stroke-linecap="round" fill="none" opacity="0.9" />
<path transform="scale(.1)" d="M6591 2867h0M6632 2854h0M6603 2896h0M6613 2880h0M6650 2865h0M6608 2867h0M6562 3008h0M6619 2916h0M6679 2854h0M6616 2883h0M6629 2779h0M6627 2863h0M6562 2754h0M6608 2790h0M6643 2941h0M6614 2885h0M6611 2867h0M6633 2864h0M6627 2877h0M6610 2831h0M6602 2856h0M6571 2853h0M6643 2847h0M6596 2777h0M6625 2883h0M6656 2797h0M6573 2853h0M6582 3006h0M6609 2869h0M6593 2868h0M6591 2813h0M6613 2807h0M6641 2880h0M6638 2896h0M6644 2934h0M6618 2833h0M6606 2880h0M6599 3070h0M6582 2899h0M6608 2998h0M6580 2852h0M6566 2752h0M6632 2839h0M6587 2850h0M6644 2840h0M6644 2782h0M6617 2812h0M6628 2865h0M6622 2837h0M6611 2726h0M6653 2906h0M6652 2863h0M6566 2880h0M6655 2878h0M6638 2812h0M6602 2833h0M6592 2787h0M6644 2897h0M6632 2905h0M6630 2728h0M6583 2965h0M6621 2809h0M6623 2856h0M6573 2749h0M6595 2847h0M6597 2912h0M6629 2815h0M6620 2734h0M6583 2840h0M6635 2863h0M6606 2874h0M6625 2820h0M6606 2874h0M6595 2840h0M6561 2887h0M6607 2838h0M6588 2735h0M6608 2854h0M6610 2793h0M6618 2878h0M6602 2809h0M6615 2841h0M6602 2881h0M6606 2838h0M6636 2836h0M6623 2869h0M6622 2932h0M6615 2799h0M6638 2814h0M6594 2742h0M6622 2865h0M6671 2888h0M6644 2853h0M6648 2845h0M6620 2835h0M6612 2942h0M6591 2946h0M6613 2892h0M6630 2879h0M6643 2831h0M6589 2788h0M6567 2887h0M6566 2693h0M6635 2728h0M6570 2761h0M6591 2896h0M6611 2906h0M6623 2849h0M6664 2911h0M6577 2974h0M6598 2814h0M6573 2813h0M6585 2775h0M6584 2798h0M6616 2868h0M6619 2864h0M6652 2828h0M6614 2812h0M6620 2863h0M6645 2755h0" stroke="#6b86d0" stroke-width="7" stroke-linecap="round" fill="none" opacity="0.8" />
<text x="0.20" y="345.00" font-size="11.3" font-weight="bold" fill="#0d0d0d" stroke="#0d0d0d" stroke-width="0.22">E</text>
<text x="81.60" y="344.90" font-size="10.5" text-anchor="middle" fill="#0d0d0d" textLength="27.8" lengthAdjust="spacingAndGlyphs" stroke="#0d0d0d" stroke-width="0.22">0 min</text>
<text x="171.80" y="344.70" font-size="10.5" text-anchor="middle" fill="#0d0d0d" textLength="39.4" lengthAdjust="spacingAndGlyphs" stroke="#0d0d0d" stroke-width="0.22">30 mins</text>
<text x="263.80" y="344.70" font-size="10.5" text-anchor="middle" fill="#0d0d0d" textLength="39.4" lengthAdjust="spacingAndGlyphs" stroke="#0d0d0d" stroke-width="0.22">60 mins</text>
<line x1="30.60" y1="348.80" x2="30.60" y2="610.20" stroke="#111" stroke-width="1.3" />
<text x="21.80" y="481.00" font-size="10.4" text-anchor="middle" fill="#0d0d0d" transform="rotate(-90 21.80 481.00)" textLength="196.0" lengthAdjust="spacingAndGlyphs" stroke="#0d0d0d" stroke-width="0.22">MUC2 + 5 µM hItln2 (UC/CD conditions)</text>
<clipPath id="cE00"><rect x="39.30" y="347.90" width="83.70" height="82.70"/></clipPath>
<g clip-path="url(#cE00)">
<rect x="39.30" y="347.90" width="83.70" height="82.70" fill="#17170b" />
<g filter="url(#b07)">
<use href="#us" transform="translate(39.30 347.90)" stroke="#868016" stroke-width="11" stroke-linecap="round" fill="none" opacity="0.8" />
<use href="#um" transform="translate(39.30 347.90)" stroke="#b0a91a" stroke-width="14" stroke-linecap="round" fill="none" opacity="0.8" />
<use href="#ul" transform="translate(39.30 347.90)" stroke="#dcd41e" stroke-width="18" stroke-linecap="round" fill="none" opacity="0.85" />
<use href="#ub" transform="translate(39.30 347.90)" stroke="#dcd41e" stroke-width="25" stroke-linecap="round" fill="none" opacity="0.9" />
<use href="#ub" transform="translate(39.30 347.90)" stroke="#fff66a" stroke-width="12.5" stroke-linecap="round" fill="none" opacity="0.9" />
</g>
<path transform="translate(69.4 385.1) rotate(52)" d="M0 0L-8.2 -3.6L-6 0L-8.2 3.6z" fill="#fff"/>
<path transform="translate(58.3 412.9) rotate(52)" d="M0 0L-8.2 -3.6L-6 0L-8.2 3.6z" fill="#fff"/>
<rect x="94.30" y="416.80" width="21.80" height="1.70" fill="#fff" />
<text x="90.70" y="428.00" font-size="8.6" font-weight="bold" fill="#fff" textLength="29.6" lengthAdjust="spacingAndGlyphs" stroke="#fff" stroke-width="0.22">20 µm</text>
</g>
<clipPath id="cE10"><rect x="39.30" y="436.90" width="83.70" height="82.70"/></clipPath>
<g clip-path="url(#cE10)">
<rect x="39.30" y="436.90" width="83.70" height="82.70" fill="#1f0a27" />
<use href="#hz" transform="translate(39.30 436.90)" stroke="#4a1a58" stroke-width="90" stroke-linecap="round" fill="none" opacity="0.25" filter="url(#b30)"/>
<g filter="url(#b07)">
<use href="#vs" transform="translate(39.30 436.90)" stroke="#55266a" stroke-width="12.375" stroke-linecap="round" fill="none" opacity="0.48" />
<use href="#vm" transform="translate(39.30 436.90)" stroke="#853694" stroke-width="15.75" stroke-linecap="round" fill="none" opacity="0.48" />
<use href="#vl" transform="translate(39.30 436.90)" stroke="#b848c2" stroke-width="20.25" stroke-linecap="round" fill="none" opacity="0.51" />
<use href="#vb" transform="translate(39.30 436.90)" stroke="#b848c2" stroke-width="28.125" stroke-linecap="round" fill="none" opacity="0.54" />
<use href="#vb" transform="translate(39.30 436.90)" stroke="#e890ec" stroke-width="14.0625" stroke-linecap="round" fill="none" opacity="0.54" />
</g>
<path transform="translate(69.4 474.1) rotate(52)" d="M0 0L-8.2 -3.6L-6 0L-8.2 3.6z" fill="#fff"/>
<path transform="translate(58.3 501.9) rotate(52)" d="M0 0L-8.2 -3.6L-6 0L-8.2 3.6z" fill="#fff"/>
<rect x="94.30" y="505.80" width="21.80" height="1.70" fill="#fff" />
<text x="90.70" y="517.00" font-size="8.6" font-weight="bold" fill="#fff" textLength="29.6" lengthAdjust="spacingAndGlyphs" stroke="#fff" stroke-width="0.22">20 µm</text>
</g>
<clipPath id="cE20"><rect x="39.30" y="527.80" width="83.70" height="82.70"/></clipPath>
<g clip-path="url(#cE20)">
<rect x="39.30" y="527.80" width="83.70" height="82.70" fill="#2a1319" />
<g filter="url(#b07)">
<use href="#vs" transform="translate(39.30 527.80)" stroke="#6e2a6e" stroke-width="10.89" stroke-linecap="round" fill="none" opacity="0.4" />
<use href="#vm" transform="translate(39.30 527.80)" stroke="#a23a9c" stroke-width="13.86" stroke-linecap="round" fill="none" opacity="0.4" />
<use href="#vl" transform="translate(39.30 527.80)" stroke="#d040c4" stroke-width="17.82" stroke-linecap="round" fill="none" opacity="0.425" />
<use href="#vb" transform="translate(39.30 527.80)" stroke="#d040c4" stroke-width="24.75" stroke-linecap="round" fill="none" opacity="0.45" />
<use href="#vb" transform="translate(39.30 527.80)" stroke="#ffb8f0" stroke-width="12.375" stroke-linecap="round" fill="none" opacity="0.45" />
<use href="#us" transform="translate(39.30 527.80)" stroke="#8a5e1c" stroke-width="11" stroke-linecap="round" fill="none" opacity="0.8" />
<use href="#um" transform="translate(39.30 527.80)" stroke="#b87c1e" stroke-width="14" stroke-linecap="round" fill="none" opacity="0.8" />
<use href="#ul" transform="translate(39.30 527.80)" stroke="#eaa220" stroke-width="18" stroke-linecap="round" fill="none" opacity="0.85" />
<use href="#ub" transform="translate(39.30 527.80)" stroke="#eaa220" stroke-width="25" stroke-linecap="round" fill="none" opacity="0.9" />
<use href="#ub" transform="translate(39.30 527.80)" stroke="#ffe86a" stroke-width="12.5" stroke-linecap="round" fill="none" opacity="0.9" />
</g>
<path transform="scale(.1)" d="M595 5960h0" stroke="#ffe9f6" stroke-width="30" stroke-linecap="round" fill="none" opacity="0.95" filter="url(#b07)"/>
<path transform="translate(69.4 565.0) rotate(52)" d="M0 0L-8.2 -3.6L-6 0L-8.2 3.6z" fill="#fff"/>
<path transform="translate(58.3 592.8) rotate(52)" d="M0 0L-8.2 -3.6L-6 0L-8.2 3.6z" fill="#fff"/>
<rect x="94.30" y="596.70" width="21.80" height="1.70" fill="#fff" />
<text x="90.70" y="607.90" font-size="8.6" font-weight="bold" fill="#fff" textLength="29.6" lengthAdjust="spacingAndGlyphs" stroke="#fff" stroke-width="0.22">20 µm</text>
</g>
<clipPath id="cE01"><rect x="131.00" y="347.90" width="83.70" height="82.70"/></clipPath>
<g clip-path="url(#cE01)">
<rect x="131.00" y="347.90" width="83.70" height="82.70" fill="#17170b" />
<g filter="url(#b07)">
<use href="#us" transform="translate(124.80 345.90)" stroke="#868016" stroke-width="11.77" stroke-linecap="round" fill="none" opacity="0.8" />
<use href="#um" transform="translate(124.80 345.90)" stroke="#b0a91a" stroke-width="14.98" stroke-linecap="round" fill="none" opacity="0.8" />
<use href="#ul" transform="translate(124.80 345.90)" stroke="#dcd41e" stroke-width="19.26" stroke-linecap="round" fill="none" opacity="0.85" />
<use href="#ub" transform="translate(124.80 345.90)" stroke="#dcd41e" stroke-width="26.75" stroke-linecap="round" fill="none" opacity="0.9" />
<use href="#ub" transform="translate(124.80 345.90)" stroke="#fff66a" stroke-width="13.375" stroke-linecap="round" fill="none" opacity="0.9" />
</g>
<path transform="translate(154.9 383.1) rotate(52)" d="M0 0L-8.2 -3.6L-6 0L-8.2 3.6z" fill="#fff"/>
<path transform="translate(144.1 410.2) rotate(52)" d="M0 0L-8.2 -3.6L-6 0L-8.2 3.6z" fill="#fff"/>
<rect x="186.00" y="416.80" width="21.80" height="1.70" fill="#fff" />
<text x="182.40" y="428.00" font-size="8.6" font-weight="bold" fill="#fff" textLength="29.6" lengthAdjust="spacingAndGlyphs" stroke="#fff" stroke-width="0.22">20 µm</text>
</g>
<clipPath id="cE11"><rect x="131.00" y="436.90" width="83.70" height="82.70"/></clipPath>
<g clip-path="url(#cE11)">
<rect x="131.00" y="436.90" width="83.70" height="82.70" fill="#1f0a27" />
<use href="#hz" transform="translate(131.00 436.90)" stroke="#4a1a58" stroke-width="90" stroke-linecap="round" fill="none" opacity="0.4" filter="url(#b30)"/>
<g filter="url(#b07)">
<use href="#vs" transform="translate(124.80 434.90)" stroke="#55266a" stroke-width="15.8125" stroke-linecap="round" fill="none" opacity="0.68" />
<use href="#vm" transform="translate(124.80 434.90)" stroke="#853694" stroke-width="20.125" stroke-linecap="round" fill="none" opacity="0.68" />
<use href="#vl" transform="translate(124.80 434.90)" stroke="#b848c2" stroke-width="25.875" stroke-linecap="round" fill="none" opacity="0.7224999999999999" />
<use href="#vb" transform="translate(124.80 434.90)" stroke="#b848c2" stroke-width="35.9375" stroke-linecap="round" fill="none" opacity="0.765" />
<use href="#vb" transform="translate(124.80 434.90)" stroke="#e890ec" stroke-width="17.9688" stroke-linecap="round" fill="none" opacity="0.765" />
</g>
<path transform="translate(154.9 472.1) rotate(52)" d="M0 0L-8.2 -3.6L-6 0L-8.2 3.6z" fill="#fff"/>
<path transform="translate(144.1 499.2) rotate(52)" d="M0 0L-8.2 -3.6L-6 0L-8.2 3.6z" fill="#fff"/>
<rect x="186.00" y="505.80" width="21.80" height="1.70" fill="#fff" />
<text x="182.40" y="517.00" font-size="8.6" font-weight="bold" fill="#fff" textLength="29.6" lengthAdjust="spacingAndGlyphs" stroke="#fff" stroke-width="0.22">20 µm</text>
</g>
<clipPath id="cE21"><rect x="131.00" y="527.80" width="83.70" height="82.70"/></clipPath>
<g clip-path="url(#cE21)">
<rect x="131.00" y="527.80" width="83.70" height="82.70" fill="#2a1319" />
<g filter="url(#b07)">
<use href="#vs" transform="translate(124.80 525.80)" stroke="#6e2a6e" stroke-width="13.915" stroke-linecap="round" fill="none" opacity="0.5599999999999999" />
<use href="#vm" transform="translate(124.80 525.80)" stroke="#a23a9c" stroke-width="17.71" stroke-linecap="round" fill="none" opacity="0.5599999999999999" />
<use href="#vl" transform="translate(124.80 525.80)" stroke="#d040c4" stroke-width="22.77" stroke-linecap="round" fill="none" opacity="0.595" />
<use href="#vb" transform="translate(124.80 525.80)" stroke="#d040c4" stroke-width="31.625" stroke-linecap="round" fill="none" opacity="0.63" />
<use href="#vb" transform="translate(124.80 525.80)" stroke="#ffb8f0" stroke-width="15.8125" stroke-linecap="round" fill="none" opacity="0.63" />
<use href="#us" transform="translate(124.80 525.80)" stroke="#8a5e1c" stroke-width="11.77" stroke-linecap="round" fill="none" opacity="0.8" />
<use href="#um" transform="translate(124.80 525.80)" stroke="#b87c1e" stroke-width="14.98" stroke-linecap="round" fill="none" opacity="0.8" />
<use href="#ul" transform="translate(124.80 525.80)" stroke="#eaa220" stroke-width="19.26" stroke-linecap="round" fill="none" opacity="0.85" />
<use href="#ub" transform="translate(124.80 525.80)" stroke="#eaa220" stroke-width="26.75" stroke-linecap="round" fill="none" opacity="0.9" />
<use href="#ub" transform="translate(124.80 525.80)" stroke="#ffe86a" stroke-width="13.375" stroke-linecap="round" fill="none" opacity="0.9" />
</g>
<path transform="scale(.1)" d="M1453 5933h0" stroke="#ffe9f6" stroke-width="30" stroke-linecap="round" fill="none" opacity="0.95" filter="url(#b07)"/>
<path transform="translate(154.9 563.0) rotate(52)" d="M0 0L-8.2 -3.6L-6 0L-8.2 3.6z" fill="#fff"/>
<path transform="translate(144.1 590.1) rotate(52)" d="M0 0L-8.2 -3.6L-6 0L-8.2 3.6z" fill="#fff"/>
<rect x="186.00" y="596.70" width="21.80" height="1.70" fill="#fff" />
<text x="182.40" y="607.90" font-size="8.6" font-weight="bold" fill="#fff" textLength="29.6" lengthAdjust="spacingAndGlyphs" stroke="#fff" stroke-width="0.22">20 µm</text>
</g>
<clipPath id="cE02"><rect x="222.70" y="347.90" width="83.70" height="82.70"/></clipPath>
<g clip-path="url(#cE02)">
<rect x="222.70" y="347.90" width="83.70" height="82.70" fill="#17170b" />
<g filter="url(#b07)">
<use href="#us" transform="translate(214.00 345.40)" stroke="#868016" stroke-width="12.32" stroke-linecap="round" fill="none" opacity="0.8" />
<use href="#um" transform="translate(214.00 345.40)" stroke="#b0a91a" stroke-width="15.68" stroke-linecap="round" fill="none" opacity="0.8" />
<use href="#ul" transform="translate(214.00 345.40)" stroke="#dcd41e" stroke-width="20.16" stroke-linecap="round" fill="none" opacity="0.85" />
<use href="#ub" transform="translate(214.00 345.40)" stroke="#dcd41e" stroke-width="28" stroke-linecap="round" fill="none" opacity="0.9" />
<use href="#ub" transform="translate(214.00 345.40)" stroke="#fff66a" stroke-width="14" stroke-linecap="round" fill="none" opacity="0.9" />
</g>
<path transform="translate(244.1 382.6) rotate(52)" d="M0 0L-8.2 -3.6L-6 0L-8.2 3.6z" fill="#fff"/>
<path transform="translate(233.1 409.9) rotate(52)" d="M0 0L-8.2 -3.6L-6 0L-8.2 3.6z" fill="#fff"/>
<rect x="277.70" y="416.80" width="21.80" height="1.70" fill="#fff" />
<text x="274.10" y="428.00" font-size="8.6" font-weight="bold" fill="#fff" textLength="29.6" lengthAdjust="spacingAndGlyphs" stroke="#fff" stroke-width="0.22">20 µm</text>
</g>
<clipPath id="cE12"><rect x="222.70" y="436.90" width="83.70" height="82.70"/></clipPath>
<g clip-path="url(#cE12)">
<rect x="222.70" y="436.90" width="83.70" height="82.70" fill="#1f0a27" />
<use href="#hz" transform="translate(222.70 436.90)" stroke="#4a1a58" stroke-width="90" stroke-linecap="round" fill="none" opacity="0.5" filter="url(#b30)"/>
<g filter="url(#b07)">
<use href="#vs" transform="translate(214.00 434.40)" stroke="#55266a" stroke-width="19.25" stroke-linecap="round" fill="none" opacity="0.8" />
<use href="#vm" transform="translate(214.00 434.40)" stroke="#853694" stroke-width="24.5" stroke-linecap="round" fill="none" opacity="0.8" />
<use href="#vl" transform="translate(214.00 434.40)" stroke="#b848c2" stroke-width="31.5" stroke-linecap="round" fill="none" opacity="0.85" />
<use href="#vb" transform="translate(214.00 434.40)" stroke="#b848c2" stroke-width="43.75" stroke-linecap="round" fill="none" opacity="0.9" />
<use href="#vb" transform="translate(214.00 434.40)" stroke="#e890ec" stroke-width="21.875" stroke-linecap="round" fill="none" opacity="0.9" />
</g>
<path transform="translate(244.1 471.6) rotate(52)" d="M0 0L-8.2 -3.6L-6 0L-8.2 3.6z" fill="#fff"/>
<path transform="translate(233.1 498.9) rotate(52)" d="M0 0L-8.2 -3.6L-6 0L-8.2 3.6z" fill="#fff"/>
<rect x="277.70" y="505.80" width="21.80" height="1.70" fill="#fff" />
<text x="274.10" y="517.00" font-size="8.6" font-weight="bold" fill="#fff" textLength="29.6" lengthAdjust="spacingAndGlyphs" stroke="#fff" stroke-width="0.22">20 µm</text>
</g>
<clipPath id="cE22"><rect x="222.70" y="527.80" width="83.70" height="82.70"/></clipPath>
<g clip-path="url(#cE22)">
<rect x="222.70" y="527.80" width="83.70" height="82.70" fill="#2a1319" />
<g filter="url(#b07)">
<use href="#vs" transform="translate(214.00 525.30)" stroke="#6e2a6e" stroke-width="16.94" stroke-linecap="round" fill="none" opacity="0.68" />
<use href="#vm" transform="translate(214.00 525.30)" stroke="#a23a9c" stroke-width="21.56" stroke-linecap="round" fill="none" opacity="0.68" />
<use href="#vl" transform="translate(214.00 525.30)" stroke="#d040c4" stroke-width="27.72" stroke-linecap="round" fill="none" opacity="0.7224999999999999" />
<use href="#vb" transform="translate(214.00 525.30)" stroke="#d040c4" stroke-width="38.5" stroke-linecap="round" fill="none" opacity="0.765" />
<use href="#vb" transform="translate(214.00 525.30)" stroke="#ffb8f0" stroke-width="19.25" stroke-linecap="round" fill="none" opacity="0.765" />
<use href="#us" transform="translate(214.00 525.30)" stroke="#8a5e1c" stroke-width="12.32" stroke-linecap="round" fill="none" opacity="0.8" />
<use href="#um" transform="translate(214.00 525.30)" stroke="#b87c1e" stroke-width="15.68" stroke-linecap="round" fill="none" opacity="0.8" />
<use href="#ul" transform="translate(214.00 525.30)" stroke="#eaa220" stroke-width="20.16" stroke-linecap="round" fill="none" opacity="0.85" />
<use href="#ub" transform="translate(214.00 525.30)" stroke="#eaa220" stroke-width="28" stroke-linecap="round" fill="none" opacity="0.9" />
<use href="#ub" transform="translate(214.00 525.30)" stroke="#ffe86a" stroke-width="14" stroke-linecap="round" fill="none" opacity="0.9" />
</g>
<path transform="scale(.1)" d="M2343 5930h0" stroke="#ffe9f6" stroke-width="30" stroke-linecap="round" fill="none" opacity="0.95" filter="url(#b07)"/>
<path transform="translate(244.1 562.5) rotate(52)" d="M0 0L-8.2 -3.6L-6 0L-8.2 3.6z" fill="#fff"/>
<path transform="translate(233.1 589.8) rotate(52)" d="M0 0L-8.2 -3.6L-6 0L-8.2 3.6z" fill="#fff"/>
<rect x="277.70" y="596.70" width="21.80" height="1.70" fill="#fff" />
<text x="274.10" y="607.90" font-size="8.6" font-weight="bold" fill="#fff" textLength="29.6" lengthAdjust="spacingAndGlyphs" stroke="#fff" stroke-width="0.22">20 µm</text>
</g>
<text x="43.30" y="359.70" font-size="11" font-weight="bold" fill="#e9dc1c" textLength="30.9" lengthAdjust="spacingAndGlyphs" stroke="#e9dc1c" stroke-width="0.22">MUC2</text>
<text x="41.50" y="448.00" font-size="11" font-weight="bold" fill="#e4087e" textLength="32.0" lengthAdjust="spacingAndGlyphs" stroke="#e4087e" stroke-width="0.22">Lectin</text>
<text x="41.50" y="539.00" font-size="11" font-weight="bold" fill="#fff" textLength="57.0" lengthAdjust="spacingAndGlyphs" stroke="#fff" stroke-width="0.22">Composite</text>
<text x="346.80" y="411.80" font-size="11.3" font-weight="bold" fill="#0d0d0d" stroke="#0d0d0d" stroke-width="0.22">F</text>
<text x="367.30" y="411.80" font-size="11.3" fill="#0d0d0d" textLength="102.5" lengthAdjust="spacingAndGlyphs" stroke="#0d0d0d" stroke-width="0.22"><tspan font-style="italic">S. aureus</tspan> (MRSA)</text>
<text x="440.00" y="425.80" font-size="10.5" text-anchor="middle" fill="#0d0d0d" textLength="19.6" lengthAdjust="spacingAndGlyphs" stroke="#0d0d0d" stroke-width="0.22">0 hr</text>
<text x="531.40" y="426.20" font-size="10.5" text-anchor="middle" fill="#0d0d0d" textLength="19.0" lengthAdjust="spacingAndGlyphs" stroke="#0d0d0d" stroke-width="0.22">1 hr</text>
<text x="622.20" y="426.20" font-size="10.5" text-anchor="middle" fill="#0d0d0d" textLength="19.2" lengthAdjust="spacingAndGlyphs" stroke="#0d0d0d" stroke-width="0.22">2 hr</text>
<line x1="377.30" y1="434.20" x2="377.30" y2="605.40" stroke="#111" stroke-width="1.3" />
<text x="371.20" y="522.80" font-size="10.6" text-anchor="middle" fill="#0d0d0d" transform="rotate(-90 371.20 522.80)" textLength="119.5" lengthAdjust="spacingAndGlyphs" stroke="#0d0d0d" stroke-width="0.22">Under UC/CD conditions</text>
<text x="393.00" y="474.50" font-size="10.5" text-anchor="middle" fill="#0d0d0d" transform="rotate(-90 393.00 474.50)" textLength="43.5" lengthAdjust="spacingAndGlyphs" stroke="#0d0d0d" stroke-width="0.22">No lectin</text>
<text x="393.00" y="564.00" font-size="10.5" text-anchor="middle" fill="#0d0d0d" transform="rotate(-90 393.00 564.00)" textLength="56.8" lengthAdjust="spacingAndGlyphs" stroke="#0d0d0d" stroke-width="0.22">5 µM hItln2</text>
<clipPath id="cF00"><rect x="397.90" y="432.30" width="83.40" height="83.20"/></clipPath>
<g clip-path="url(#cF00)">
<rect x="397.90" y="432.30" width="83.40" height="83.20" fill="#30472f" />
<g transform="translate(397.90 432.30)" stroke-linecap="round" fill="none"><use href="#ga" stroke="#34a23a" stroke-width="11" opacity=".8"/><use href="#gb" stroke="#40d648" stroke-width="8.5" opacity=".9"/><use href="#gc" stroke="#4bea55" stroke-width="13" opacity=".9"/></g>
<rect x="475.20" y="508.90" width="2.90" height="3.10" fill="#fff" />
<line x1="472.90" y1="513.40" x2="479.50" y2="513.40" stroke="#e8e8e8" stroke-width="0.6" stroke-dasharray="1 0.4" opacity="0.8"/>
</g>
<clipPath id="cF10"><rect x="397.90" y="521.90" width="83.40" height="83.20"/></clipPath>
<g clip-path="url(#cF10)">
<rect x="397.90" y="521.90" width="83.40" height="83.20" fill="#37483a" />
<use href="#k0" transform="translate(397.90 521.90)" stroke="#2fb838" stroke-width="21" stroke-linecap="round" fill="none" opacity="0.4" />
<use href="#k0" transform="translate(397.90 521.90)" stroke="#2ef23c" stroke-width="14" stroke-linecap="round" fill="none" opacity="1" filter="url(#b03)"/>
<rect x="475.20" y="598.50" width="2.90" height="3.10" fill="#fff" />
<line x1="472.90" y1="603.00" x2="479.50" y2="603.00" stroke="#e8e8e8" stroke-width="0.6" stroke-dasharray="1 0.4" opacity="0.8"/>
</g>
<clipPath id="cF01"><rect x="489.80" y="432.30" width="83.40" height="83.20"/></clipPath>
<g clip-path="url(#cF01)">
<rect x="489.80" y="432.30" width="83.40" height="83.20" fill="#30472f" />
<g transform="translate(573.20 432.30) scale(-1 1)" stroke-linecap="round" fill="none"><use href="#ga" stroke="#34a23a" stroke-width="11" opacity=".8"/><use href="#gb" stroke="#40d648" stroke-width="8.5" opacity=".9"/><use href="#gc" stroke="#4bea55" stroke-width="13" opacity=".9"/></g>
<rect x="567.10" y="508.90" width="2.90" height="3.10" fill="#fff" />
<line x1="564.80" y1="513.40" x2="571.40" y2="513.40" stroke="#e8e8e8" stroke-width="0.6" stroke-dasharray="1 0.4" opacity="0.8"/>
</g>
<clipPath id="cF11"><rect x="489.80" y="521.90" width="83.40" height="83.20"/></clipPath>
<g clip-path="url(#cF11)">
<rect x="489.80" y="521.90" width="83.40" height="83.20" fill="#37483a" />
<use href="#k1" transform="translate(489.80 521.90)" stroke="#2fb838" stroke-width="21" stroke-linecap="round" fill="none" opacity="0.4" />
<use href="#k1" transform="translate(489.80 521.90)" stroke="#2ef23c" stroke-width="14" stroke-linecap="round" fill="none" opacity="1" filter="url(#b03)"/>
<rect x="567.10" y="598.50" width="2.90" height="3.10" fill="#fff" />
<line x1="564.80" y1="603.00" x2="571.40" y2="603.00" stroke="#e8e8e8" stroke-width="0.6" stroke-dasharray="1 0.4" opacity="0.8"/>
</g>
<clipPath id="cF02"><rect x="580.10" y="432.30" width="83.40" height="83.20"/></clipPath>
<g clip-path="url(#cF02)">
<rect x="580.10" y="432.30" width="83.40" height="83.20" fill="#30472f" />
<g transform="translate(580.10 515.50) scale(1 -1)" stroke-linecap="round" fill="none"><use href="#ga" stroke="#34a23a" stroke-width="11" opacity=".8"/><use href="#gb" stroke="#40d648" stroke-width="8.5" opacity=".9"/><use href="#gc" stroke="#4bea55" stroke-width="13" opacity=".9"/></g>
<rect x="657.40" y="508.90" width="2.90" height="3.10" fill="#fff" />
<line x1="655.10" y1="513.40" x2="661.70" y2="513.40" stroke="#e8e8e8" stroke-width="0.6" stroke-dasharray="1 0.4" opacity="0.8"/>
</g>
<clipPath id="cF12"><rect x="580.10" y="521.90" width="83.40" height="83.20"/></clipPath>
<g clip-path="url(#cF12)">
<rect x="580.10" y="521.90" width="83.40" height="83.20" fill="#37483a" />
<use href="#k2" transform="translate(580.10 521.90)" stroke="#2fb838" stroke-width="21" stroke-linecap="round" fill="none" opacity="0.4" />
<use href="#k2" transform="translate(580.10 521.90)" stroke="#2ef23c" stroke-width="14" stroke-linecap="round" fill="none" opacity="1" filter="url(#b03)"/>
<rect x="657.40" y="598.50" width="2.90" height="3.10" fill="#fff" />
<line x1="655.10" y1="603.00" x2="661.70" y2="603.00" stroke="#e8e8e8" stroke-width="0.6" stroke-dasharray="1 0.4" opacity="0.8"/>
</g>
<text x="402.20" y="442.90" font-size="11.4" font-weight="bold" fill="#0af51a" textLength="51.4" lengthAdjust="spacingAndGlyphs" stroke="#06200a" stroke-width="2.6" stroke-opacity=".75" stroke-linejoin="round" paint-order="stroke">SYTO BC</text>
<text x="400.90" y="531.80" font-size="11.4" font-weight="bold" fill="#0af51a" textLength="51.4" lengthAdjust="spacingAndGlyphs" stroke="#06200a" stroke-width="2.6" stroke-opacity=".75" stroke-linejoin="round" paint-order="stroke">SYTO BC</text>
<text x="0.20" y="635.00" font-size="11.3" font-weight="bold" fill="#0d0d0d" stroke="#0d0d0d" stroke-width="0.22">G</text>
<text x="89.20" y="635.10" font-size="11.3" fill="#0d0d0d" textLength="103.3" lengthAdjust="spacingAndGlyphs" stroke="#0d0d0d" stroke-width="0.22"><tspan font-style="italic">S. aureus</tspan> (MRSA)</text>
<line x1="55.00" y1="664.70" x2="55.00" y2="785.40" stroke="#383838" stroke-width="1.0" />
<line x1="54.50" y1="784.90" x2="234.50" y2="784.90" stroke="#383838" stroke-width="1.1" />
<line x1="51.60" y1="784.90" x2="55.00" y2="784.90" stroke="#383838" stroke-width="1.0" />
<text x="49.60" y="788.70" font-size="10.5" text-anchor="end" fill="#0d0d0d" stroke="#0d0d0d" stroke-width="0.22">0</text>
<line x1="53.00" y1="764.98" x2="55.00" y2="764.98" stroke="#383838" stroke-width="1.0" />
<line x1="51.60" y1="745.05" x2="55.00" y2="745.05" stroke="#383838" stroke-width="1.0" />
<text x="49.60" y="748.85" font-size="10.5" text-anchor="end" fill="#0d0d0d" stroke="#0d0d0d" stroke-width="0.22">50</text>
<line x1="53.00" y1="725.12" x2="55.00" y2="725.12" stroke="#383838" stroke-width="1.0" />
<line x1="51.60" y1="705.20" x2="55.00" y2="705.20" stroke="#383838" stroke-width="1.0" />
<text x="49.60" y="709.00" font-size="10.5" text-anchor="end" fill="#0d0d0d" stroke="#0d0d0d" stroke-width="0.22">100</text>
<line x1="53.00" y1="685.27" x2="55.00" y2="685.27" stroke="#383838" stroke-width="1.0" />
<line x1="51.60" y1="665.35" x2="55.00" y2="665.35" stroke="#383838" stroke-width="1.0" />
<text x="49.60" y="669.15" font-size="10.5" text-anchor="end" fill="#0d0d0d" stroke="#0d0d0d" stroke-width="0.22">150</text>
<text x="27.40" y="729.30" font-size="10.8" text-anchor="middle" fill="#0d0d0d" transform="rotate(-90 27.40 729.30)" textLength="85.6" lengthAdjust="spacingAndGlyphs" stroke="#0d0d0d" stroke-width="0.22">% CFU remaining</text>
<rect x="66.60" y="705.10" width="22.60" height="79.80" fill="#808184" stroke="#1f1f1f" stroke-width="0.9" />
<rect x="101.00" y="740.00" width="22.20" height="44.90" fill="#c1272d" stroke="#1f1f1f" stroke-width="0.9" />
<rect x="133.90" y="758.30" width="22.40" height="26.60" fill="#c1272d" stroke="#1f1f1f" stroke-width="0.9" />
<rect x="167.30" y="762.50" width="22.50" height="22.40" fill="#c1272d" stroke="#1f1f1f" stroke-width="0.9" />
<rect x="200.50" y="779.10" width="22.70" height="5.80" fill="#c1272d" stroke="#1f1f1f" stroke-width="0.9" />
<line x1="112.10" y1="736.70" x2="112.10" y2="741.40" stroke="#111" stroke-width="0.9" />
<line x1="107.50" y1="736.70" x2="116.70" y2="736.70" stroke="#111" stroke-width="0.9" />
<line x1="107.50" y1="741.40" x2="116.70" y2="741.40" stroke="#111" stroke-width="0.9" />
<line x1="145.20" y1="751.40" x2="145.20" y2="763.80" stroke="#111" stroke-width="0.9" />
<line x1="139.40" y1="751.40" x2="151.00" y2="751.40" stroke="#111" stroke-width="0.9" />
<line x1="139.40" y1="763.80" x2="151.00" y2="763.80" stroke="#111" stroke-width="0.9" />
<line x1="178.60" y1="757.30" x2="178.60" y2="772.20" stroke="#111" stroke-width="0.9" />
<line x1="172.80" y1="757.30" x2="184.40" y2="757.30" stroke="#111" stroke-width="0.9" />
<line x1="172.80" y1="772.20" x2="184.40" y2="772.20" stroke="#111" stroke-width="0.9" />
<line x1="211.90" y1="775.00" x2="211.90" y2="781.30" stroke="#111" stroke-width="0.9" />
<line x1="206.50" y1="775.00" x2="217.30" y2="775.00" stroke="#111" stroke-width="0.9" />
<line x1="206.50" y1="781.30" x2="217.30" y2="781.30" stroke="#111" stroke-width="0.9" />
<circle cx="71.7" cy="705.0" r="1.55" fill="#0a0a0a"/>
<circle cx="77.9" cy="705.0" r="1.55" fill="#0a0a0a"/>
<circle cx="84.2" cy="705.0" r="1.55" fill="#0a0a0a"/>
<circle cx="108.0" cy="741.4" r="1.55" fill="#0a0a0a"/>
<circle cx="111.8" cy="737.2" r="1.55" fill="#0a0a0a"/>
<circle cx="115.2" cy="740.0" r="1.55" fill="#0a0a0a"/>
<circle cx="145.2" cy="746.2" r="1.55" fill="#0a0a0a"/>
<circle cx="145.2" cy="760.8" r="1.55" fill="#0a0a0a"/>
<circle cx="145.2" cy="766.5" r="1.55" fill="#0a0a0a"/>
<circle cx="178.7" cy="748.8" r="1.55" fill="#0a0a0a"/>
<circle cx="178.7" cy="763.0" r="1.55" fill="#0a0a0a"/>
<circle cx="178.7" cy="776.2" r="1.55" fill="#0a0a0a"/>
<circle cx="208.3" cy="776.2" r="1.55" fill="#0a0a0a"/>
<circle cx="205.0" cy="784.0" r="1.55" fill="#0a0a0a"/>
<circle cx="211.4" cy="783.2" r="1.55" fill="#0a0a0a"/>
<line x1="74.00" y1="700.60" x2="107.30" y2="700.60" stroke="#3a3a3a" stroke-width="1.0" />
<text x="79.10" y="697.40" font-size="8.4" fill="#0d0d0d" textLength="36.5" lengthAdjust="spacingAndGlyphs" stroke="#0d0d0d" stroke-width="0.22">P=0.0011</text>
<line x1="74.00" y1="684.80" x2="141.50" y2="684.80" stroke="#3a3a3a" stroke-width="1.0" />
<text x="91.70" y="681.60" font-size="8.4" fill="#0d0d0d" textLength="36.5" lengthAdjust="spacingAndGlyphs" stroke="#0d0d0d" stroke-width="0.22">P&lt;0.0001</text>
<line x1="74.00" y1="669.40" x2="175.00" y2="669.40" stroke="#3a3a3a" stroke-width="1.0" />
<text x="112.60" y="664.80" font-size="8.4" fill="#0d0d0d" textLength="36.5" lengthAdjust="spacingAndGlyphs" stroke="#0d0d0d" stroke-width="0.22">P&lt;0.0001</text>
<line x1="75.20" y1="655.00" x2="209.00" y2="655.00" stroke="#3a3a3a" stroke-width="1.0" />
<text x="122.40" y="650.80" font-size="8.4" fill="#0d0d0d" textLength="36.5" lengthAdjust="spacingAndGlyphs" stroke="#0d0d0d" stroke-width="0.22">P&lt;0.0001</text>
<text x="90.00" y="797.60" font-size="11" text-anchor="end" fill="#0d0d0d" transform="rotate(-30 90.00 797.60)" stroke="#0d0d0d" stroke-width="0.22">0 µM</text>
<text x="124.00" y="797.60" font-size="11" text-anchor="end" fill="#0d0d0d" transform="rotate(-30 124.00 797.60)" stroke="#0d0d0d" stroke-width="0.22">0.5 µM</text>
<text x="156.60" y="797.60" font-size="11" text-anchor="end" fill="#0d0d0d" transform="rotate(-30 156.60 797.60)" stroke="#0d0d0d" stroke-width="0.22">1 µM</text>
<text x="190.00" y="797.60" font-size="11" text-anchor="end" fill="#0d0d0d" transform="rotate(-30 190.00 797.60)" stroke="#0d0d0d" stroke-width="0.22">5 µM</text>
<text x="225.00" y="797.60" font-size="11" text-anchor="end" fill="#0d0d0d" transform="rotate(-30 225.00 797.60)" stroke="#0d0d0d" stroke-width="0.22">10 µM</text>
<rect x="215.40" y="690.20" width="10.00" height="9.40" fill="#808184" stroke="#333" stroke-width="0.8" />
<rect x="215.40" y="704.30" width="10.00" height="9.40" fill="#c1272d" stroke="#333" stroke-width="0.8" />
<text x="230.90" y="698.70" font-size="10.5" fill="#0d0d0d" textLength="41.8" lengthAdjust="spacingAndGlyphs" stroke="#0d0d0d" stroke-width="0.22">No lectin</text>
<text x="230.90" y="711.70" font-size="10.5" fill="#0d0d0d" stroke="#0d0d0d" stroke-width="0.22">hItln2</text>
<text x="219.00" y="727.10" font-size="10.5" fill="#0d0d0d" textLength="94.0" lengthAdjust="spacingAndGlyphs" stroke="#0d0d0d" stroke-width="0.22">(UC/CD conditions)</text>
<text x="346.80" y="635.00" font-size="11.3" font-weight="bold" fill="#0d0d0d" stroke="#0d0d0d" stroke-width="0.22">H</text>
<text x="367.20" y="635.00" font-size="11.3" fill="#0d0d0d" textLength="153.5" lengthAdjust="spacingAndGlyphs" stroke="#0d0d0d" stroke-width="0.22"><tspan font-style="italic">B. paramycoides</tspan> (RJX001)</text>
<line x1="392.70" y1="660.20" x2="392.70" y2="781.80" stroke="#383838" stroke-width="1.0" />
<line x1="392.20" y1="781.30" x2="473.00" y2="781.30" stroke="#383838" stroke-width="1.1" />
<line x1="389.30" y1="781.30" x2="392.70" y2="781.30" stroke="#383838" stroke-width="1.0" />
<text x="386.30" y="785.10" font-size="10.5" text-anchor="end" fill="#0d0d0d" stroke="#0d0d0d" stroke-width="0.22">0</text>
<line x1="390.70" y1="761.20" x2="392.70" y2="761.20" stroke="#383838" stroke-width="1.0" />
<line x1="389.30" y1="741.10" x2="392.70" y2="741.10" stroke="#383838" stroke-width="1.0" />
<text x="386.30" y="744.90" font-size="10.5" text-anchor="end" fill="#0d0d0d" stroke="#0d0d0d" stroke-width="0.22">50</text>
<line x1="390.70" y1="721.00" x2="392.70" y2="721.00" stroke="#383838" stroke-width="1.0" />
<line x1="389.30" y1="700.90" x2="392.70" y2="700.90" stroke="#383838" stroke-width="1.0" />
<text x="386.30" y="704.70" font-size="10.5" text-anchor="end" fill="#0d0d0d" stroke="#0d0d0d" stroke-width="0.22">100</text>
<line x1="390.70" y1="680.80" x2="392.70" y2="680.80" stroke="#383838" stroke-width="1.0" />
<line x1="389.30" y1="660.70" x2="392.70" y2="660.70" stroke="#383838" stroke-width="1.0" />
<text x="386.30" y="664.50" font-size="10.5" text-anchor="end" fill="#0d0d0d" stroke="#0d0d0d" stroke-width="0.22">150</text>
<text x="366.60" y="723.80" font-size="10.8" text-anchor="middle" fill="#0d0d0d" transform="rotate(-90 366.60 723.80)" textLength="82.5" lengthAdjust="spacingAndGlyphs" stroke="#0d0d0d" stroke-width="0.22">%CFU remaining</text>
<rect x="404.20" y="700.80" width="22.60" height="80.50" fill="#808184" stroke="#1f1f1f" stroke-width="0.9" />
<rect x="438.50" y="774.20" width="22.70" height="7.10" fill="#c1272d" stroke="#1f1f1f" stroke-width="0.9" />
<line x1="450.40" y1="770.50" x2="450.40" y2="778.80" stroke="#111" stroke-width="0.9" />
<line x1="444.80" y1="770.50" x2="456.00" y2="770.50" stroke="#111" stroke-width="0.9" />
<line x1="444.80" y1="778.80" x2="456.00" y2="778.80" stroke="#111" stroke-width="0.9" />
<circle cx="409.2" cy="700.8" r="1.55" fill="#0a0a0a"/>
<circle cx="415.5" cy="700.8" r="1.55" fill="#0a0a0a"/>
<circle cx="421.8" cy="700.8" r="1.55" fill="#0a0a0a"/>
<circle cx="450.5" cy="766.7" r="1.55" fill="#0a0a0a"/>
<circle cx="450.5" cy="776.6" r="1.55" fill="#0a0a0a"/>
<circle cx="450.5" cy="781.2" r="1.55" fill="#0a0a0a"/>
<line x1="415.50" y1="691.40" x2="450.60" y2="691.40" stroke="#222" stroke-width="1.0" />
<text x="416.20" y="682.40" font-size="8.4" fill="#0d0d0d" textLength="36.4" lengthAdjust="spacingAndGlyphs" stroke="#0d0d0d" stroke-width="0.22">P&lt;0.0001</text>
<text x="425.00" y="790.00" font-size="11" text-anchor="end" fill="#0d0d0d" transform="rotate(-30 425.00 790.00)" stroke="#0d0d0d" stroke-width="0.22">0 µM</text>
<text x="461.40" y="792.40" font-size="11" text-anchor="end" fill="#0d0d0d" transform="rotate(-30 461.40 792.40)" stroke="#0d0d0d" stroke-width="0.22">10 µM</text>
<rect x="493.00" y="650.80" width="9.40" height="9.30" fill="#808184" stroke="#333" stroke-width="0.8" />
<rect x="493.00" y="666.30" width="9.40" height="9.30" fill="#c1272d" stroke="#333" stroke-width="0.8" />
<text x="504.60" y="657.60" font-size="10.5" fill="#0d0d0d" textLength="44.4" lengthAdjust="spacingAndGlyphs" stroke="#0d0d0d" stroke-width="0.22">No lectin</text>
<text x="504.60" y="673.60" font-size="10.5" fill="#0d0d0d" stroke="#0d0d0d" stroke-width="0.22">hItln2</text>
<text x="490.60" y="692.60" font-size="10.5" fill="#0d0d0d" textLength="97.4" lengthAdjust="spacingAndGlyphs" stroke="#0d0d0d" stroke-width="0.22">(UC/CD conditions)</text>
</svg>
</body></html>
